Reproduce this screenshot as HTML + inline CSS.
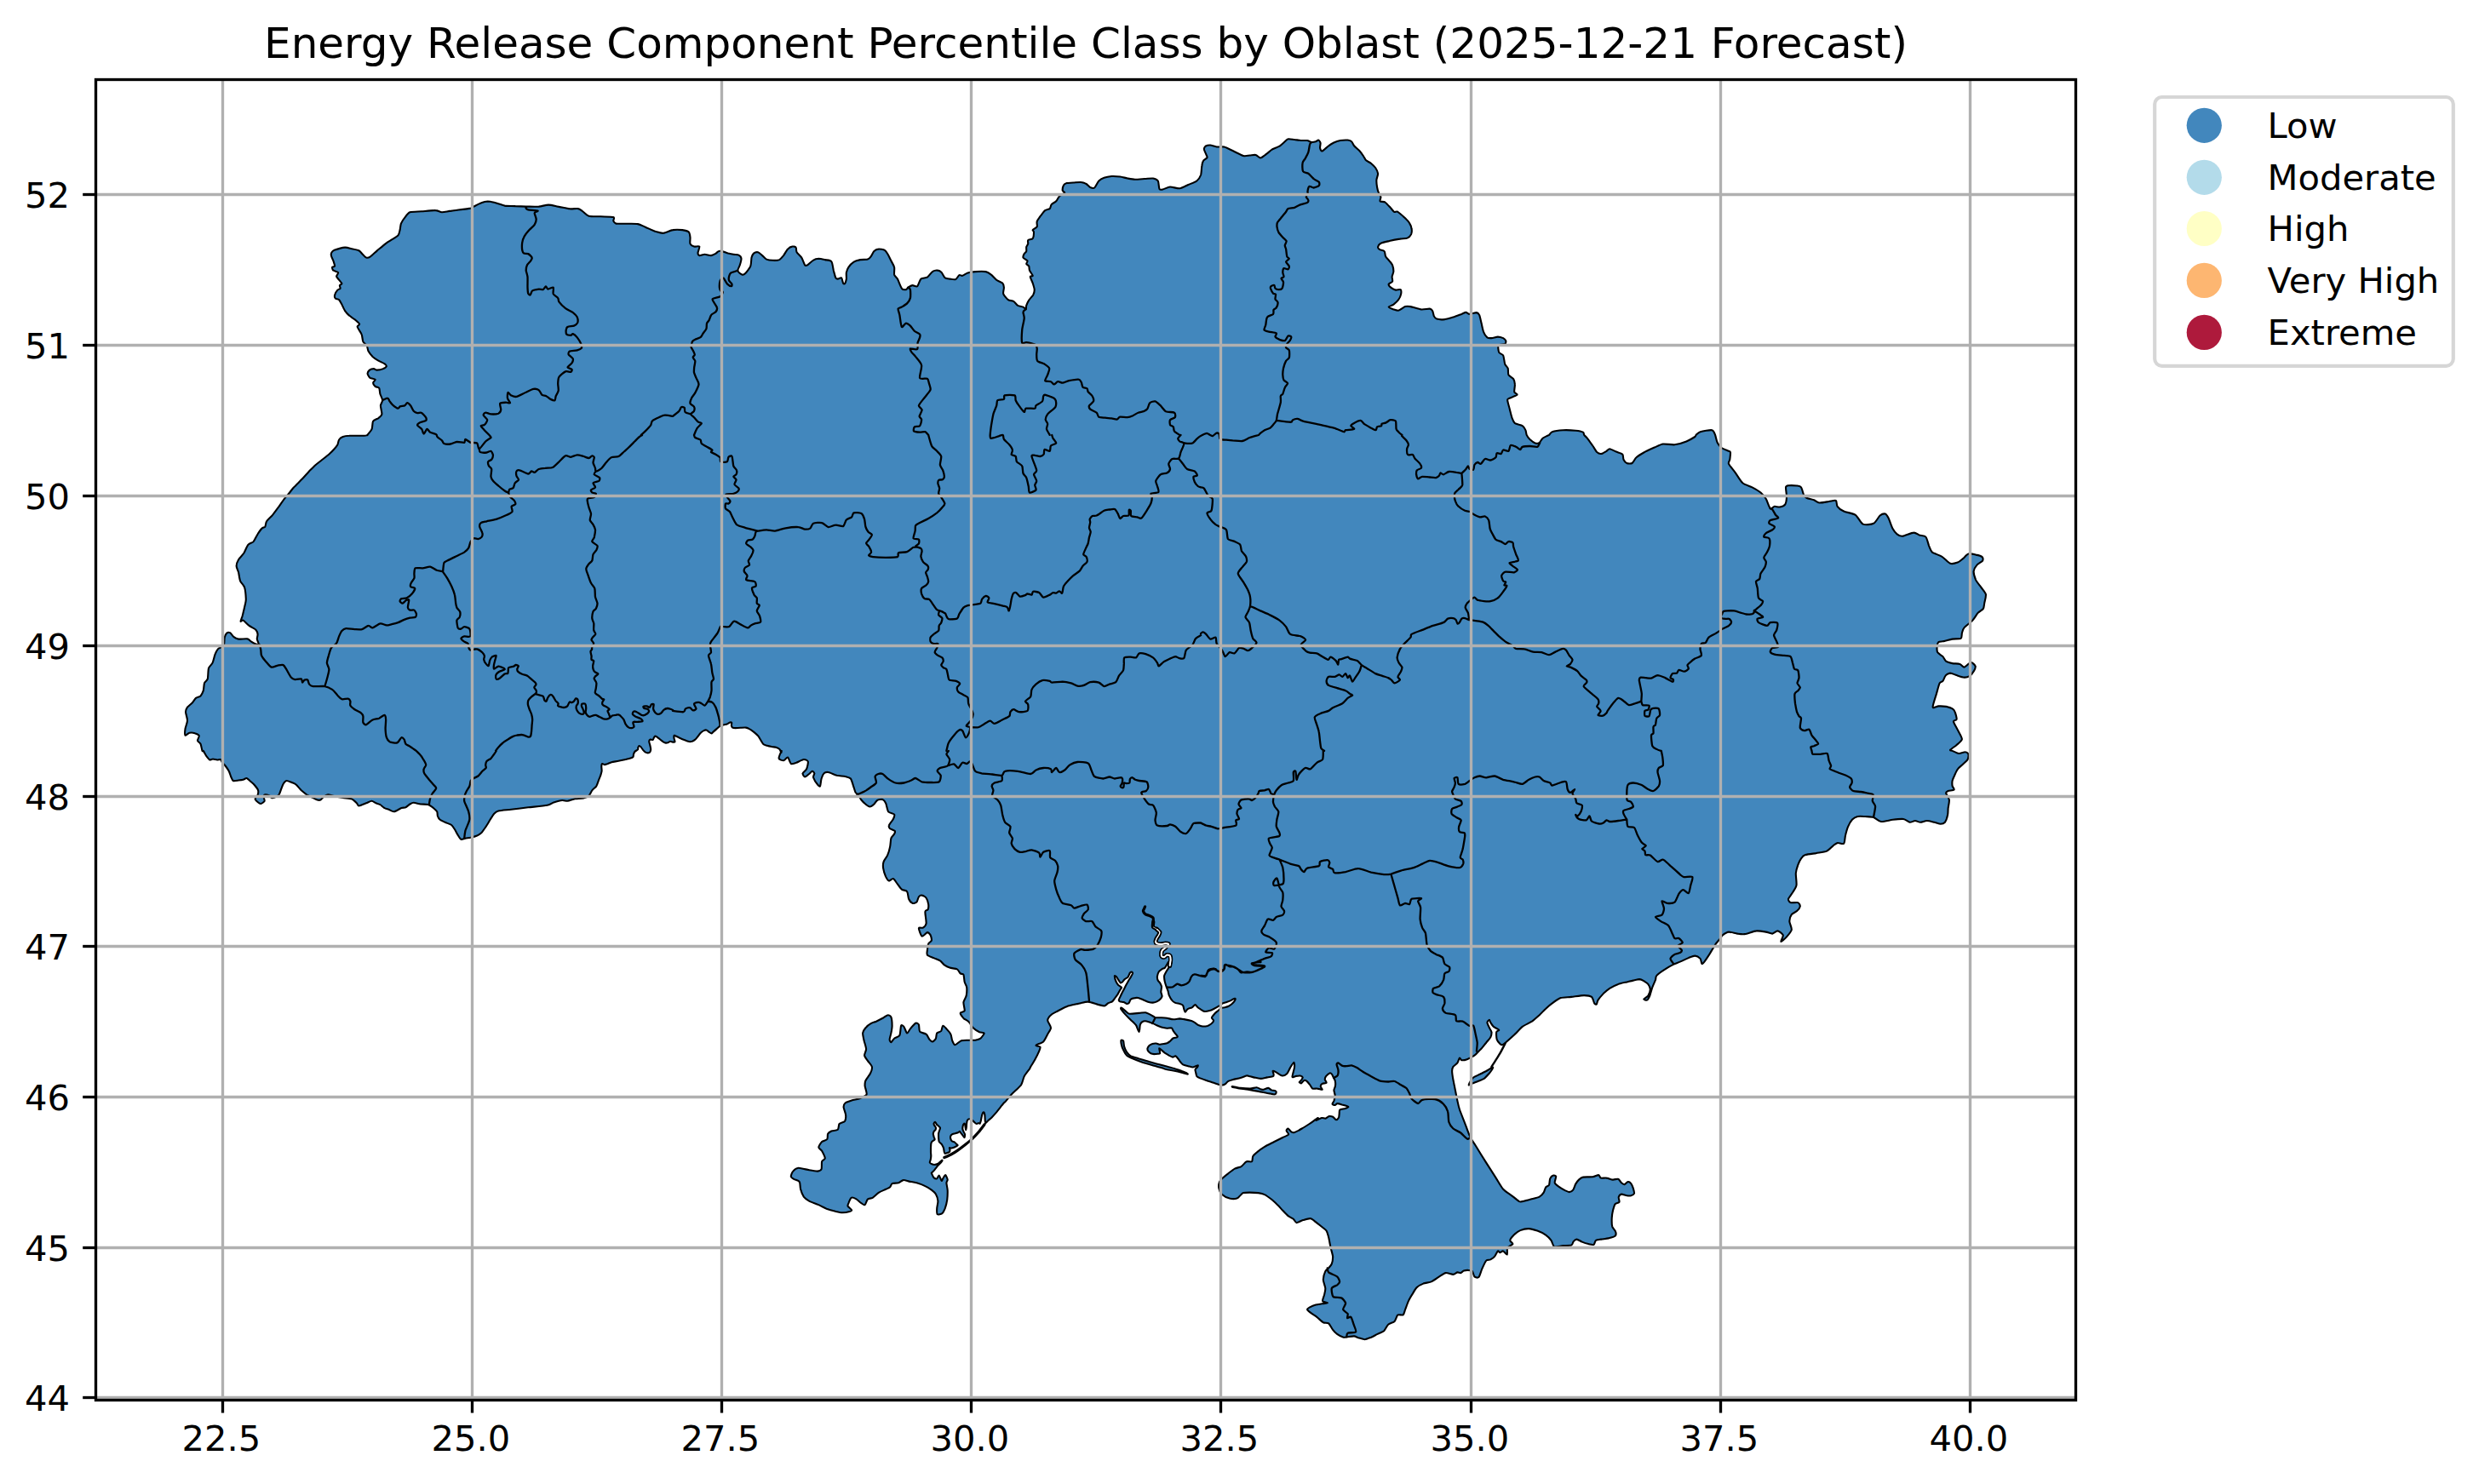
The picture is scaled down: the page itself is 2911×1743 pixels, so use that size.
<!DOCTYPE html>
<html lang="en"><head><meta charset="utf-8"><title>Energy Release Component Percentile Class by Oblast</title>
<style>html,body{margin:0;padding:0;background:#fff}body{width:2911px;height:1743px;overflow:hidden}svg{display:block}text{font-family:"DejaVu Sans","Liberation Sans",sans-serif;fill:#000}</style></head><body>
<svg width="2911" height="1743" viewBox="0 0 2911 1743">
<rect width="2911" height="1743" fill="#fff"/>
<g id="map"><path d="M431.4 510.9C432.0 510.1 435.8 506.0 436.6 503.9C437.5 501.9 437.1 496.3 438.1 494.7C439.1 493.1 443.4 492.0 444.6 490.9C445.9 489.9 448.1 488.2 448.4 486.4C448.7 484.6 446.8 478.5 446.9 476.4C447.0 474.4 449.2 471.9 449.1 470.2C449.1 468.4 446.9 464.5 446.4 462.7C445.9 460.8 445.9 456.8 445.1 455.7C444.4 454.6 441.5 454.7 440.6 453.9C439.8 453.2 438.1 450.7 438.1 449.7C438.1 448.6 441.1 446.4 440.6 445.7C440.2 444.9 435.8 444.7 434.6 443.9C433.5 443.1 431.7 440.1 431.6 438.9C431.5 437.7 433.0 435.4 433.9 434.6C434.8 433.9 437.8 433.1 438.9 433.1C440.0 433.1 441.2 434.6 442.6 434.6C444.0 434.6 448.7 433.7 450.1 433.1C451.5 432.6 453.7 430.9 453.9 430.1C454.0 429.4 452.6 428.0 451.4 427.1C450.1 426.3 445.6 424.4 443.9 423.4C442.2 422.4 439.0 420.2 437.6 418.9C436.2 417.5 433.5 414.3 432.6 412.6C431.8 411.0 431.4 407.0 430.6 405.6C429.8 404.2 427.1 403.0 426.4 401.4C425.6 399.8 425.5 394.8 424.6 392.6C423.8 390.4 419.9 385.4 419.6 383.9C419.3 382.4 422.5 381.7 422.1 380.6C421.7 379.5 417.9 376.4 416.4 375.1C414.9 373.9 411.5 371.9 410.1 370.6C408.7 369.4 406.2 366.7 405.1 365.1C404.0 363.5 402.2 359.2 401.4 357.6C400.5 356.0 399.1 353.0 398.1 352.1C397.2 351.2 394.5 351.3 393.9 350.6C393.2 349.9 392.8 347.6 393.1 346.4C393.4 345.1 395.6 341.5 396.4 340.6C397.2 339.7 399.3 339.5 399.6 338.8C399.9 338.2 398.6 335.8 398.9 335.1C399.1 334.4 401.5 334.0 401.4 333.1C401.2 332.2 398.4 329.2 397.6 328.1C396.8 327.0 395.2 325.6 395.1 324.6C395.1 323.6 397.6 321.0 397.1 320.1C396.6 319.2 392.2 318.4 391.4 317.6C390.5 316.8 389.9 314.5 390.1 313.8C390.3 313.2 393.0 313.5 393.1 312.6C393.3 311.6 391.9 307.9 391.4 306.3C390.8 304.8 389.1 301.3 388.9 300.1C388.6 298.8 389.1 297.1 389.6 296.3C390.1 295.5 390.7 294.5 392.6 293.8C394.5 293.1 402.6 290.8 405.1 290.6C407.6 290.4 410.6 291.6 412.6 292.1C414.7 292.5 419.7 293.4 421.4 294.3C423.1 295.2 425.3 298.3 426.4 299.3C427.5 300.4 429.1 302.3 430.1 302.6C431.2 302.9 433.1 302.6 434.6 301.6C436.2 300.6 440.4 296.5 442.6 294.6C444.9 292.7 450.3 288.1 452.6 286.3C455.0 284.6 459.5 281.8 461.4 280.6C463.3 279.3 466.6 277.6 467.6 276.3C468.7 275.0 469.2 271.8 469.6 270.1C470.1 268.3 470.2 264.4 470.9 262.6C471.7 260.7 474.3 256.7 475.7 255.1C477.0 253.4 479.0 250.1 481.4 249.3C483.8 248.5 491.4 248.6 495.2 248.3C498.9 248.0 508.5 246.9 511.4 247.1C514.4 247.2 516.6 249.2 518.9 249.3C521.3 249.4 526.0 248.1 530.2 247.6C534.4 247.0 549.4 245.2 552.7 244.6C556.0 243.9 554.9 243.3 556.4 242.6C558.0 241.8 563.2 239.0 565.2 238.3C567.2 237.5 570.8 236.6 572.7 236.5C574.6 236.5 577.7 237.2 580.2 237.8C582.7 238.4 589.6 241.0 592.7 241.6C595.8 242.1 602.1 241.9 605.2 242.1C608.3 242.2 614.3 242.5 617.7 242.6C621.2 242.6 629.4 242.8 632.7 242.6C636.0 242.3 641.2 240.6 644.0 240.6C646.8 240.6 652.1 242.0 655.2 242.6C658.4 243.1 666.0 245.0 669.0 245.3C672.0 245.6 677.1 244.7 679.0 245.1C680.9 245.4 682.4 247.0 684.0 248.1C685.6 249.1 688.9 253.0 691.5 253.8C694.2 254.6 701.7 254.2 705.3 254.3C708.9 254.5 718.4 254.4 720.3 255.1C722.2 255.7 719.9 258.6 720.3 259.6C720.7 260.5 721.4 262.2 723.3 262.6C725.2 263.0 732.1 262.7 735.3 262.8C738.5 262.9 746.2 262.6 749.0 263.1C751.9 263.6 755.1 265.7 757.8 266.8C760.5 267.9 767.6 271.2 770.3 272.1C773.0 272.9 776.6 274.1 779.1 273.8C781.5 273.6 787.3 270.5 790.1 270.1C792.8 269.6 798.9 269.8 801.3 270.1C803.6 270.4 807.6 271.5 808.8 272.6C809.9 273.7 810.3 277.1 810.5 278.8C810.7 280.5 809.9 285.0 810.5 286.3C811.1 287.7 813.7 289.2 815.0 289.6C816.4 290.0 820.7 288.6 821.3 289.6C821.8 290.5 819.5 295.8 819.5 297.1C819.5 298.4 820.3 299.9 821.3 300.1C822.3 300.3 825.8 298.8 827.5 298.8C829.2 298.8 833.5 300.2 835.0 300.1C836.6 300.0 838.9 298.7 840.0 298.1C841.1 297.5 842.8 295.5 843.8 295.1C844.8 294.7 846.6 294.8 848.0 295.1C849.4 295.4 853.4 297.1 855.0 297.6C856.7 298.0 859.7 298.6 861.3 298.8C862.8 299.1 866.4 299.0 867.5 299.6C868.7 300.2 870.4 302.4 870.5 303.8C870.7 305.3 869.3 309.6 868.8 311.3C868.3 313.1 866.0 316.7 866.3 318.1C866.6 319.5 870.2 322.2 871.3 322.6C872.4 323.0 873.8 322.6 875.0 321.3C876.3 320.1 880.4 314.9 881.3 312.6C882.2 310.2 882.1 304.5 882.5 302.6C883.0 300.7 884.1 298.4 885.0 297.6C886.0 296.8 888.8 296.0 890.1 296.3C891.3 296.6 893.8 299.0 895.1 300.1C896.3 301.1 898.5 303.9 900.1 304.6C901.6 305.3 905.7 305.8 907.6 305.8C909.4 305.9 913.5 305.8 915.1 305.1C916.6 304.4 918.8 301.6 920.1 300.1C921.3 298.5 923.8 293.9 925.1 292.6C926.3 291.3 928.9 289.8 930.1 289.6C931.3 289.3 933.9 289.7 934.6 290.6C935.3 291.4 934.7 294.8 935.6 296.3C936.4 297.8 940.1 300.7 941.3 302.6C942.5 304.5 944.2 310.2 945.1 311.3C945.9 312.4 946.8 312.1 948.1 311.3C949.3 310.6 953.4 306.5 955.1 305.6C956.7 304.6 959.6 303.9 961.3 303.8C963.1 303.8 967.0 304.7 968.8 305.1C970.7 305.5 975.1 305.5 976.3 307.1C977.6 308.6 978.2 315.2 978.8 317.6C979.5 320.0 980.7 325.1 981.3 326.3C982.0 327.6 983.0 327.6 983.8 327.6C984.7 327.6 987.3 325.7 988.1 326.3C988.9 327.0 989.6 331.8 990.1 332.6C990.6 333.4 991.6 333.7 992.1 333.1C992.6 332.5 993.6 329.2 993.9 327.6C994.1 326.0 993.5 321.8 993.9 320.1C994.2 318.4 995.3 315.4 996.4 313.8C997.4 312.3 1000.9 308.7 1002.6 307.6C1004.3 306.5 1008.1 305.5 1010.1 305.1C1012.1 304.7 1017.3 305.1 1018.9 304.6C1020.4 304.1 1021.7 302.5 1022.6 301.3C1023.6 300.1 1025.3 296.2 1026.4 295.1C1027.5 294.0 1029.8 292.7 1031.4 292.6C1032.9 292.4 1037.5 293.0 1038.9 293.8C1040.3 294.6 1041.7 297.3 1042.6 298.8C1043.6 300.4 1045.4 304.5 1046.4 306.3C1047.3 308.2 1049.7 311.8 1050.1 313.8C1050.6 315.9 1049.7 320.9 1050.1 322.6C1050.6 324.3 1052.8 325.6 1053.9 327.6C1055.0 329.6 1057.6 337.3 1058.9 338.8C1060.1 340.4 1062.9 340.3 1063.9 340.1C1064.8 339.9 1065.5 338.2 1066.4 337.6C1067.3 337.0 1070.0 335.3 1071.4 335.1C1072.7 334.9 1075.9 337.3 1077.1 336.3C1078.4 335.4 1079.9 328.9 1081.4 327.6C1082.9 326.2 1087.2 326.7 1088.9 325.6C1090.6 324.5 1093.6 319.8 1095.2 318.8C1096.7 317.8 1100.1 317.4 1101.4 317.6C1102.7 317.7 1104.6 319.0 1105.7 320.1C1106.7 321.2 1108.5 325.4 1109.7 326.3C1110.8 327.3 1113.6 327.4 1115.2 327.6C1116.7 327.8 1120.8 328.7 1122.2 328.1C1123.6 327.5 1125.4 323.6 1126.4 323.1C1127.4 322.6 1128.9 324.2 1130.2 323.8C1131.4 323.5 1134.5 321.2 1136.4 320.6C1138.3 320.0 1142.5 319.3 1145.2 319.1C1147.8 318.9 1155.3 318.7 1157.7 319.1C1160.0 319.5 1162.4 321.4 1163.9 322.6C1165.5 323.8 1168.5 327.6 1170.2 328.8C1171.8 330.1 1176.1 331.5 1177.2 332.6C1178.3 333.7 1178.8 336.0 1178.9 337.6C1179.1 339.2 1177.6 343.3 1178.2 345.1C1178.8 346.9 1182.4 351.0 1183.9 352.1C1185.4 353.2 1188.8 353.0 1190.2 353.9C1191.6 354.7 1193.8 358.0 1195.2 358.9C1196.6 359.7 1200.3 360.1 1201.5 360.6C1202.6 361.1 1204.2 363.3 1204.7 363.1C1205.2 362.9 1204.8 360.2 1205.2 358.9C1205.6 357.5 1207.2 354.2 1208.2 352.6C1209.2 351.0 1212.4 347.9 1213.2 346.4C1214.0 344.8 1214.8 341.8 1214.7 340.1C1214.6 338.4 1213.3 334.5 1212.7 332.6C1212.1 330.7 1209.7 326.2 1209.7 325.1C1209.7 324.0 1212.8 324.8 1212.7 323.8C1212.6 322.9 1209.5 319.0 1209.0 317.6C1208.4 316.2 1208.7 313.5 1208.2 312.6C1207.7 311.6 1205.4 310.9 1205.2 310.1C1205.0 309.3 1206.9 307.3 1206.5 306.3C1206.0 305.4 1201.9 303.6 1201.5 302.6C1201.0 301.5 1202.2 299.0 1202.7 298.1C1203.2 297.1 1204.9 296.1 1205.2 295.1C1205.5 294.1 1205.0 291.2 1205.2 290.1C1205.5 289.0 1207.0 287.3 1207.2 286.3C1207.5 285.3 1206.5 282.9 1207.2 282.1C1207.9 281.3 1211.9 281.3 1212.7 280.1C1213.6 278.9 1214.0 273.8 1214.0 272.6C1214.0 271.3 1212.2 270.8 1212.7 270.1C1213.2 269.3 1217.1 267.6 1217.7 266.3C1218.3 265.1 1217.1 261.8 1217.7 260.1C1218.3 258.3 1221.5 254.2 1222.7 252.6C1223.9 250.9 1226.0 248.0 1227.2 247.1C1228.5 246.1 1231.8 245.9 1232.7 245.1C1233.7 244.2 1233.8 241.1 1234.7 240.1C1235.7 239.0 1239.1 237.5 1240.2 236.3C1241.4 235.1 1242.7 231.8 1244.0 230.5C1245.2 229.3 1249.8 227.1 1250.2 226.3C1250.7 225.4 1247.9 224.9 1247.7 223.8C1247.6 222.7 1248.4 218.6 1249.0 217.5C1249.6 216.4 1251.3 215.4 1252.7 215.0C1254.1 214.7 1258.2 214.7 1260.2 214.5C1262.3 214.4 1267.1 213.9 1269.0 214.0C1270.9 214.2 1273.8 215.0 1275.2 215.8C1276.6 216.5 1279.0 219.4 1280.2 220.0C1281.5 220.6 1284.0 221.5 1285.2 220.5C1286.5 219.6 1288.8 214.0 1290.3 212.5C1291.7 211.1 1294.6 209.5 1296.5 208.8C1298.4 208.1 1302.9 207.2 1305.3 207.0C1307.6 206.9 1312.9 207.2 1315.3 207.5C1317.6 207.8 1321.8 209.1 1324.0 209.5C1326.2 209.9 1330.3 210.7 1332.8 210.8C1335.3 210.8 1341.4 210.2 1344.0 210.0C1346.7 209.9 1352.1 209.2 1354.0 209.5C1356.0 209.8 1358.8 211.0 1359.8 212.5C1360.7 214.1 1360.8 220.8 1361.5 222.0C1362.2 223.3 1363.7 222.9 1365.3 222.5C1366.9 222.2 1371.5 219.7 1374.0 219.5C1376.5 219.4 1382.6 221.6 1385.3 221.3C1388.0 221.0 1392.8 218.1 1395.3 217.0C1397.8 215.9 1403.5 214.0 1405.3 212.5C1407.2 211.1 1409.3 207.7 1410.1 205.5C1410.8 203.3 1410.9 197.1 1411.3 195.0C1411.6 192.9 1412.2 190.0 1413.0 188.8C1413.8 187.5 1417.1 186.0 1417.5 185.0C1417.9 184.1 1416.7 182.5 1416.3 181.3C1415.8 180.0 1413.8 176.3 1413.8 175.0C1413.8 173.8 1415.3 171.8 1416.3 171.3C1417.2 170.7 1419.7 170.4 1421.3 170.5C1422.8 170.7 1426.7 172.3 1428.8 172.5C1430.8 172.8 1435.2 172.0 1437.5 172.5C1439.9 173.1 1444.7 175.7 1447.5 177.0C1450.3 178.3 1457.5 182.3 1460.0 183.0C1462.5 183.7 1465.7 182.6 1467.5 182.5C1469.3 182.4 1473.0 181.6 1474.5 182.0C1476.1 182.4 1478.7 185.5 1480.0 185.5C1481.3 185.6 1483.3 183.8 1485.0 182.5C1486.8 181.3 1492.1 176.7 1493.8 175.5C1495.5 174.4 1497.6 173.8 1498.8 173.3C1500.0 172.7 1502.0 172.0 1503.0 171.3C1504.1 170.5 1506.4 168.5 1507.5 167.5C1508.7 166.5 1511.0 163.7 1512.6 163.3C1514.1 162.8 1518.2 163.8 1520.1 164.0C1521.9 164.2 1525.7 164.9 1527.6 165.0C1529.4 165.1 1533.5 164.8 1535.1 165.0C1536.6 165.3 1538.8 166.9 1540.1 167.0C1541.3 167.2 1544.1 166.6 1545.1 166.3C1546.1 166.0 1547.4 164.3 1548.1 164.5C1548.8 164.7 1550.3 166.9 1550.6 168.0C1550.8 169.2 1549.8 172.6 1550.1 173.8C1550.3 175.0 1551.3 177.8 1552.6 177.5C1553.8 177.2 1558.4 172.5 1560.1 171.3C1561.8 170.0 1564.6 168.3 1566.3 167.5C1568.0 166.7 1571.8 165.4 1573.8 165.0C1575.9 164.6 1580.9 164.4 1582.6 164.5C1584.2 164.7 1586.2 165.4 1587.1 166.3C1588.0 167.1 1588.9 169.9 1590.1 171.3C1591.2 172.6 1594.9 175.5 1596.3 177.0C1597.8 178.6 1600.4 182.4 1601.3 183.8C1602.3 185.1 1602.8 187.0 1603.8 188.0C1604.9 189.1 1608.7 190.9 1610.1 192.0C1611.5 193.2 1614.1 195.6 1615.1 197.0C1616.1 198.5 1617.9 202.0 1618.1 203.8C1618.3 205.6 1616.5 209.3 1616.4 211.3C1616.2 213.3 1616.8 218.2 1617.1 220.0C1617.4 221.9 1618.3 224.9 1618.9 226.3C1619.4 227.7 1621.1 230.0 1621.4 231.3C1621.6 232.5 1620.0 235.5 1620.6 236.3C1621.2 237.1 1624.9 236.6 1626.4 237.5C1627.9 238.5 1631.3 242.4 1632.6 243.8C1634.0 245.2 1636.0 248.2 1637.1 248.8C1638.2 249.4 1639.7 247.9 1641.4 248.8C1643.0 249.7 1648.4 254.7 1650.1 256.3C1651.8 258.0 1654.2 260.5 1655.1 262.1C1656.1 263.6 1657.4 267.2 1657.6 268.8C1657.9 270.4 1657.7 273.7 1657.1 275.1C1656.5 276.4 1654.3 278.9 1652.6 279.6C1651.0 280.3 1646.5 280.1 1643.9 280.6C1641.2 281.0 1634.2 282.4 1631.4 283.1C1628.5 283.7 1623.0 284.9 1621.4 285.8C1619.7 286.7 1618.3 289.2 1618.1 290.1C1617.9 291.0 1619.2 292.5 1620.1 293.1C1621.0 293.7 1624.7 294.0 1625.6 295.1C1626.5 296.1 1626.4 299.9 1627.1 301.3C1627.8 302.7 1630.4 305.1 1631.4 306.3C1632.4 307.6 1634.5 309.8 1635.1 311.3C1635.7 312.9 1636.4 317.1 1636.4 318.8C1636.3 320.6 1634.8 323.6 1634.6 325.1C1634.5 326.6 1635.6 329.5 1635.1 330.6C1634.6 331.7 1630.8 332.9 1630.6 333.8C1630.5 334.8 1632.8 337.3 1633.9 338.1C1634.9 338.9 1637.5 340.4 1638.9 340.6C1640.2 340.9 1643.8 339.5 1644.6 340.1C1645.4 340.7 1645.4 344.1 1645.1 345.6C1644.8 347.1 1643.2 350.6 1642.1 352.1C1641.0 353.6 1637.8 356.5 1636.4 357.6C1634.9 358.7 1630.6 359.9 1630.6 360.6C1630.6 361.3 1634.9 362.9 1636.4 363.4C1637.9 363.9 1640.9 365.0 1642.6 364.6C1644.3 364.2 1648.4 360.7 1650.1 360.1C1651.8 359.5 1654.0 359.7 1656.4 360.1C1658.7 360.5 1666.1 363.0 1668.9 363.4C1671.7 363.7 1677.2 362.4 1678.9 362.6C1680.5 362.8 1681.5 364.0 1682.1 365.1C1682.8 366.2 1683.3 370.2 1683.9 371.4C1684.5 372.6 1685.6 374.1 1687.1 374.6C1688.7 375.1 1694.0 375.4 1696.4 375.1C1698.8 374.9 1703.9 373.4 1706.4 372.6C1708.9 371.8 1714.5 369.6 1716.4 368.9C1718.3 368.1 1720.2 366.9 1721.4 366.9C1722.6 366.9 1724.1 368.8 1725.7 368.9C1727.2 368.9 1732.5 367.0 1733.9 367.1C1735.4 367.3 1736.4 368.5 1737.2 370.1C1737.9 371.7 1739.0 377.6 1739.7 380.1C1740.3 382.6 1741.3 388.1 1742.2 390.1C1743.0 392.2 1745.3 395.5 1746.4 396.4C1747.6 397.3 1749.9 397.2 1751.4 397.1C1753.0 397.0 1757.2 395.6 1758.9 395.6C1760.6 395.6 1764.0 396.6 1765.2 397.1C1766.3 397.7 1767.9 399.3 1768.2 400.1C1768.4 401.0 1768.2 403.2 1767.2 403.9C1766.1 404.6 1760.6 404.4 1759.7 405.6C1758.8 406.9 1759.5 412.4 1760.2 413.9C1760.9 415.4 1764.3 415.9 1765.2 417.6C1766.1 419.4 1766.5 425.8 1767.2 427.6C1767.9 429.5 1770.1 431.1 1770.7 432.6C1771.2 434.2 1770.6 438.6 1771.4 440.2C1772.2 441.7 1776.2 443.7 1777.2 445.2C1778.1 446.6 1778.8 449.5 1778.9 451.4C1779.1 453.3 1777.9 458.6 1778.2 460.2C1778.5 461.7 1782.3 462.9 1781.4 463.9C1780.6 464.9 1772.8 467.4 1771.4 468.2C1770.0 468.9 1770.0 468.7 1770.2 470.2C1770.3 471.7 1772.0 477.5 1772.7 480.2C1773.4 482.8 1774.9 489.3 1775.7 491.4C1776.5 493.6 1777.4 496.1 1778.9 497.2C1780.4 498.3 1786.1 499.2 1787.7 500.2C1789.3 501.2 1790.8 503.8 1791.4 505.2C1792.1 506.5 1792.1 509.6 1792.7 510.9C1793.3 512.3 1795.2 514.8 1796.4 516.0C1797.7 517.2 1801.3 520.0 1802.7 520.5C1804.1 521.0 1806.6 520.5 1807.7 519.8C1808.8 519.0 1810.2 515.8 1811.5 514.8C1812.7 513.7 1816.8 512.0 1817.7 511.5C1818.6 511.0 1818.3 511.5 1819.0 511.0C1819.6 510.5 1820.7 507.9 1822.7 507.2C1824.7 506.5 1831.8 505.4 1835.2 505.2C1838.7 505.0 1847.2 505.4 1850.2 505.7C1853.2 506.0 1857.7 507.0 1859.0 507.7C1860.2 508.3 1859.6 510.1 1860.2 510.9C1860.9 511.8 1862.7 513.2 1864.0 514.8C1865.2 516.3 1868.8 521.5 1870.2 523.5C1871.6 525.5 1874.0 529.8 1875.2 531.0C1876.5 532.2 1878.8 533.2 1880.2 533.0C1881.6 532.9 1885.2 530.5 1886.5 529.8C1887.7 529.0 1888.8 527.2 1890.2 527.3C1891.6 527.4 1895.9 529.7 1897.7 530.5C1899.6 531.3 1904.2 532.4 1905.2 533.5C1906.3 534.7 1905.9 538.5 1906.5 539.8C1907.1 541.1 1909.0 543.5 1910.3 544.0C1911.5 544.5 1915.1 544.9 1916.5 544.0C1917.9 543.2 1919.8 538.8 1921.5 537.3C1923.2 535.7 1927.6 533.0 1930.3 531.5C1932.9 530.0 1940.0 526.8 1942.8 525.5C1945.6 524.3 1949.8 521.9 1952.8 521.5C1955.7 521.1 1963.1 522.6 1966.5 522.3C1970.0 521.9 1977.3 519.7 1980.3 518.5C1983.3 517.3 1988.9 513.9 1990.3 513.0C1991.7 512.1 1990.8 511.7 1991.5 511.0C1992.3 510.3 1994.2 507.9 1996.5 507.2C1998.9 506.5 2008.1 504.7 2010.3 505.2C2012.5 505.7 2013.3 509.1 2014.1 510.9C2014.8 512.8 2015.6 517.9 2016.6 519.8C2017.5 521.6 2019.9 524.8 2021.6 526.0C2023.2 527.3 2028.8 529.1 2030.1 529.8C2031.4 530.4 2031.9 530.3 2032.0 531.5C2032.1 532.8 2031.5 538.1 2031.3 539.8C2031.0 541.4 2029.2 542.9 2030.0 544.8C2030.8 546.6 2035.5 552.0 2037.5 554.8C2039.5 557.6 2043.8 565.1 2046.3 567.3C2048.8 569.5 2054.9 570.9 2057.5 572.3C2060.2 573.7 2065.5 576.8 2067.5 578.5C2069.6 580.3 2072.4 583.7 2073.8 586.0C2075.2 588.4 2077.5 596.2 2078.8 597.3C2080.0 598.4 2082.4 595.0 2083.8 594.8C2085.2 594.6 2088.5 595.9 2090.0 595.5C2091.6 595.2 2095.3 593.8 2096.3 592.3C2097.3 590.8 2097.9 586.0 2098.0 583.5C2098.1 581.0 2096.8 573.9 2097.0 572.3C2097.3 570.6 2098.4 570.5 2100.0 570.3C2101.7 570.1 2108.2 570.3 2110.0 570.5C2111.9 570.8 2114.0 571.0 2115.0 572.3C2116.0 573.6 2117.3 579.5 2118.0 581.0C2118.8 582.6 2119.8 584.0 2121.3 584.8C2122.8 585.6 2128.2 586.6 2130.1 587.3C2131.9 588.0 2134.1 590.3 2136.3 590.5C2138.5 590.8 2145.1 589.4 2147.6 589.0C2150.0 588.7 2154.6 587.3 2155.8 588.0C2157.1 588.8 2156.4 593.2 2157.6 594.8C2158.7 596.4 2162.4 599.3 2165.1 600.5C2167.7 601.8 2176.0 602.9 2178.8 604.8C2181.6 606.7 2184.9 614.3 2187.6 615.6C2190.2 616.8 2197.6 616.1 2200.1 614.8C2202.6 613.6 2205.9 607.0 2207.6 605.5C2209.3 604.1 2212.6 603.2 2213.8 603.5C2215.1 603.9 2216.5 606.4 2217.6 608.5C2218.7 610.7 2221.3 618.7 2222.6 621.1C2223.8 623.4 2226.2 626.2 2227.6 627.3C2229.0 628.4 2231.4 630.0 2233.9 629.8C2236.3 629.6 2244.6 625.7 2247.1 625.6C2249.6 625.4 2252.1 627.9 2253.9 628.6C2255.6 629.2 2260.0 629.0 2261.4 630.6C2262.8 632.1 2264.2 638.8 2265.1 641.1C2266.1 643.3 2267.0 647.0 2268.9 648.6C2270.7 650.1 2277.5 651.9 2280.1 653.6C2282.8 655.2 2287.8 660.9 2290.1 661.8C2292.5 662.7 2297.0 661.3 2298.9 660.6C2300.8 659.9 2303.6 657.3 2305.1 656.1C2306.7 654.8 2309.5 651.1 2311.4 650.6C2313.3 650.0 2318.1 651.1 2320.1 651.6C2322.2 652.0 2326.6 653.2 2327.6 654.1C2328.6 654.9 2328.9 657.4 2328.1 658.6C2327.4 659.8 2322.7 662.0 2321.4 663.6C2320.1 665.1 2317.8 668.9 2317.6 671.1C2317.5 673.3 2319.1 678.7 2320.1 681.1C2321.2 683.4 2324.9 687.7 2326.4 689.8C2327.9 692.0 2331.4 695.7 2331.9 698.1C2332.4 700.4 2330.5 706.5 2330.2 708.6C2329.8 710.7 2329.8 713.4 2328.9 714.9C2328.0 716.3 2324.2 718.1 2322.6 719.9C2321.1 721.6 2318.4 726.4 2316.4 728.6C2314.4 730.8 2308.0 735.5 2306.4 737.4C2304.8 739.2 2304.4 742.1 2303.9 743.6C2303.4 745.2 2304.0 749.0 2302.6 749.9C2301.2 750.7 2295.1 750.2 2292.6 750.6C2290.1 751.0 2284.7 752.7 2282.6 753.1C2280.6 753.6 2277.4 753.4 2276.4 754.1C2275.4 754.8 2274.8 757.1 2274.6 758.6C2274.5 760.1 2274.3 764.6 2275.1 766.1C2276.0 767.7 2280.1 769.8 2281.4 771.1C2282.6 772.4 2283.7 775.6 2285.1 776.6C2286.5 777.6 2290.6 778.7 2292.6 779.1C2294.7 779.5 2299.7 779.3 2301.4 779.9C2303.1 780.4 2305.1 783.6 2306.4 783.6C2307.6 783.6 2310.3 780.6 2311.4 779.9C2312.5 779.2 2314.1 777.8 2315.1 778.1C2316.2 778.4 2319.3 781.1 2319.6 782.4C2320.0 783.7 2318.5 787.2 2317.6 788.6C2316.8 790.1 2314.0 793.3 2312.6 794.1C2311.2 795.0 2308.3 795.8 2306.4 795.6C2304.5 795.5 2299.7 793.8 2297.6 793.1C2295.6 792.5 2291.8 790.6 2290.1 790.6C2288.5 790.7 2285.7 792.5 2284.6 793.6C2283.5 794.8 2282.3 798.8 2281.4 799.9C2280.5 801.0 2278.6 800.5 2277.6 802.4C2276.7 804.3 2274.9 811.4 2273.9 814.9C2272.9 818.4 2269.3 828.8 2269.6 830.7C2269.9 832.5 2274.4 829.5 2276.4 829.4C2278.3 829.3 2283.1 829.5 2285.1 829.9C2287.2 830.3 2291.3 831.6 2292.6 832.4C2293.9 833.2 2295.0 834.6 2295.6 836.2C2296.3 837.7 2297.9 843.5 2297.6 844.9C2297.4 846.3 2293.7 845.9 2293.9 847.4C2294.0 849.0 2297.6 854.8 2298.9 857.4C2300.1 860.0 2304.0 866.0 2303.9 868.2C2303.7 870.4 2299.4 873.4 2297.6 874.9C2295.9 876.5 2290.8 879.8 2290.1 880.7C2289.5 881.6 2291.4 881.4 2292.6 881.9C2293.9 882.5 2298.3 884.8 2300.1 885.0C2302.0 885.2 2306.2 883.2 2307.6 883.3C2309.0 883.3 2311.0 884.7 2311.4 885.8C2311.8 886.8 2311.4 890.5 2310.6 892.0C2309.9 893.5 2306.6 896.1 2305.1 897.5C2303.7 898.9 2300.1 901.6 2298.9 903.3C2297.6 904.9 2295.9 909.0 2295.1 910.8C2294.4 912.5 2292.9 915.5 2292.6 917.0C2292.3 918.6 2292.4 922.0 2292.6 923.3C2292.9 924.6 2295.3 926.8 2294.6 927.5C2294.0 928.2 2288.8 928.5 2287.6 929.0C2286.4 929.5 2285.0 930.2 2285.1 931.5C2285.3 932.8 2288.6 937.3 2288.9 939.5C2289.2 941.8 2287.8 947.3 2287.6 949.5C2287.4 951.7 2287.6 955.0 2287.1 957.0C2286.7 959.1 2284.9 964.4 2283.9 965.8C2282.8 967.1 2280.4 967.8 2278.9 967.8C2277.3 967.8 2273.4 966.3 2271.4 965.8C2269.3 965.3 2264.6 964.0 2262.6 964.0C2260.6 964.0 2256.8 965.8 2255.1 965.8C2253.4 965.8 2250.4 964.0 2248.9 964.0C2247.3 964.0 2244.3 966.0 2242.6 965.8C2240.9 965.5 2237.6 962.4 2235.1 962.0C2232.6 961.7 2225.9 962.4 2222.6 962.8C2219.3 963.2 2211.7 965.4 2208.8 965.0C2206.0 964.7 2202.4 960.8 2200.1 960.0C2197.7 959.3 2192.4 959.2 2190.1 959.0C2187.7 958.9 2183.2 958.6 2181.3 959.0C2179.4 959.5 2176.5 961.1 2175.1 962.5C2173.7 964.0 2171.1 968.5 2170.1 970.8C2169.1 973.1 2167.7 978.3 2167.1 980.8C2166.4 983.3 2166.3 989.6 2165.1 990.8C2163.9 992.0 2159.1 989.7 2157.6 990.1C2156.0 990.4 2154.1 992.1 2152.6 993.3C2151.0 994.5 2147.6 998.5 2145.1 999.6C2142.6 1000.7 2135.7 1001.5 2132.6 1002.1C2129.4 1002.6 2122.2 1003.3 2120.0 1004.1C2117.9 1004.8 2116.1 1006.8 2115.0 1008.3C2113.9 1009.8 2112.1 1013.6 2111.3 1015.8C2110.5 1018.0 2109.0 1022.9 2108.8 1025.8C2108.6 1028.8 2110.0 1036.8 2109.5 1039.6C2109.1 1042.4 2106.2 1046.3 2105.0 1048.3C2103.8 1050.4 2100.3 1054.4 2100.0 1055.8C2099.7 1057.3 2101.1 1059.6 2102.5 1060.1C2103.9 1060.6 2109.9 1059.5 2111.3 1060.1C2112.7 1060.7 2113.9 1063.3 2113.8 1064.6C2113.6 1065.8 2111.3 1068.9 2110.0 1070.1C2108.8 1071.3 2104.9 1072.6 2103.8 1074.1C2102.7 1075.6 2101.3 1079.8 2101.3 1082.1C2101.3 1084.4 2104.3 1089.8 2103.8 1092.1C2103.3 1094.4 2099.1 1099.1 2097.5 1100.9C2096.0 1102.6 2091.7 1106.2 2091.3 1105.9C2090.8 1105.5 2094.3 1099.9 2093.8 1098.4C2093.3 1096.8 2089.1 1093.6 2087.5 1093.4C2086.0 1093.1 2083.0 1096.5 2081.3 1096.6C2079.6 1096.8 2076.1 1095.0 2073.8 1094.6C2071.4 1094.2 2065.6 1093.0 2062.5 1093.4C2059.4 1093.7 2051.6 1096.7 2048.8 1097.1C2045.9 1097.5 2042.3 1096.9 2040.0 1096.6C2037.7 1096.3 2032.1 1094.4 2030.0 1094.6C2027.9 1094.8 2024.2 1097.3 2022.8 1098.4C2021.4 1099.5 2020.1 1102.0 2019.1 1103.4C2018.0 1104.8 2015.6 1107.3 2014.1 1109.6C2012.5 1112.0 2008.4 1119.3 2006.5 1122.1C2004.7 1124.9 2000.3 1131.7 1999.0 1132.1C1997.8 1132.6 1997.6 1127.1 1996.5 1125.9C1995.4 1124.7 1992.0 1122.7 1990.3 1122.6C1988.6 1122.5 1985.0 1124.2 1982.8 1125.1C1980.6 1126.0 1975.0 1128.7 1972.8 1129.6C1970.6 1130.6 1967.5 1131.5 1965.3 1132.6C1963.1 1133.7 1957.8 1136.7 1955.3 1138.4C1952.8 1140.0 1946.7 1144.3 1945.3 1145.9C1943.9 1147.4 1944.6 1149.2 1944.0 1150.9C1943.4 1152.6 1941.1 1157.3 1940.3 1159.6C1939.4 1162.0 1938.0 1167.8 1937.3 1169.6C1936.5 1171.5 1934.9 1174.2 1934.0 1174.6C1933.1 1175.1 1930.1 1174.0 1930.3 1173.4C1930.4 1172.8 1934.3 1171.1 1935.3 1169.6C1936.2 1168.2 1937.8 1163.9 1937.8 1162.1C1937.8 1160.4 1936.2 1157.1 1935.3 1155.9C1934.3 1154.6 1931.5 1152.9 1930.3 1152.1C1929.0 1151.4 1926.8 1150.2 1925.3 1150.1C1923.7 1150.1 1919.6 1151.2 1917.8 1151.6C1915.9 1152.0 1912.4 1152.9 1910.3 1153.4C1908.1 1153.9 1902.7 1154.9 1900.2 1155.9C1897.7 1156.8 1892.4 1159.5 1890.2 1160.9C1888.1 1162.3 1884.5 1165.4 1882.7 1167.1C1881.0 1168.9 1877.5 1173.1 1876.5 1174.6C1875.5 1176.2 1875.3 1179.2 1874.7 1179.6C1874.2 1180.1 1873.0 1179.5 1872.2 1178.4C1871.5 1177.3 1870.5 1172.1 1869.0 1170.9C1867.5 1169.7 1863.2 1169.1 1860.2 1169.1C1857.3 1169.1 1848.7 1170.5 1845.2 1170.9C1841.8 1171.3 1835.5 1171.2 1832.7 1172.1C1829.9 1173.1 1824.9 1176.8 1822.7 1178.4C1820.5 1180.0 1817.1 1182.9 1815.2 1184.7C1813.3 1186.4 1809.7 1190.3 1807.7 1192.2C1805.7 1194.0 1801.4 1197.9 1798.9 1199.7C1796.4 1201.4 1790.2 1204.0 1787.7 1205.9C1785.2 1207.8 1781.4 1212.3 1778.9 1214.7C1776.4 1217.0 1769.6 1223.1 1767.7 1224.7C1765.8 1226.2 1764.7 1227.0 1763.9 1227.2C1763.1 1227.3 1762.2 1226.7 1761.4 1225.9C1760.6 1225.1 1758.2 1222.6 1757.7 1220.9C1757.1 1219.2 1756.9 1213.6 1757.2 1212.2C1757.5 1210.8 1760.6 1210.4 1760.2 1209.7C1759.8 1208.9 1755.2 1207.0 1753.9 1205.9C1752.7 1204.8 1750.8 1201.9 1750.2 1200.9C1749.5 1199.9 1749.4 1197.7 1748.9 1197.7C1748.5 1197.7 1746.4 1199.7 1746.4 1200.9C1746.4 1202.1 1748.3 1205.8 1748.9 1207.2C1749.5 1208.6 1751.3 1210.8 1751.4 1212.2C1751.6 1213.6 1751.0 1216.9 1750.2 1218.4C1749.4 1220.0 1746.4 1223.1 1745.2 1224.7C1743.9 1226.2 1741.3 1229.7 1740.2 1230.9C1739.1 1232.2 1737.5 1233.6 1736.4 1234.7C1735.3 1235.8 1733.1 1238.5 1731.4 1239.7C1729.7 1240.9 1724.5 1243.5 1722.7 1244.2C1720.8 1244.9 1717.5 1245.4 1716.4 1245.2C1715.3 1245.0 1714.5 1242.3 1713.9 1242.7C1713.3 1243.1 1712.3 1247.2 1711.4 1248.4C1710.5 1249.7 1707.2 1251.7 1706.4 1252.9C1705.6 1254.1 1705.1 1256.1 1705.1 1258.0C1705.1 1259.9 1705.9 1265.2 1706.4 1268.0C1706.9 1270.8 1708.3 1277.4 1708.9 1280.5C1709.5 1283.6 1710.8 1290.2 1711.4 1293.0C1712.0 1295.8 1712.8 1299.7 1713.9 1303.0C1715.0 1306.3 1718.6 1315.2 1720.2 1319.3C1721.7 1323.3 1724.8 1332.3 1726.4 1335.5C1728.0 1338.8 1730.3 1341.8 1732.7 1345.5C1735.0 1349.3 1742.2 1360.9 1745.2 1365.6C1748.1 1370.2 1753.9 1379.2 1756.4 1383.1C1758.9 1387.0 1762.8 1394.2 1765.2 1396.8C1767.5 1399.5 1772.8 1402.5 1775.2 1404.3C1777.5 1406.1 1782.4 1410.2 1783.9 1411.1C1785.5 1411.9 1786.0 1411.4 1787.7 1411.1C1789.4 1410.8 1795.2 1409.3 1797.7 1408.6C1800.2 1407.9 1805.8 1406.6 1807.7 1405.6C1809.6 1404.6 1811.8 1402.0 1812.7 1400.6C1813.6 1399.2 1814.4 1395.4 1815.2 1394.3C1816.0 1393.2 1818.3 1393.1 1819.0 1391.8C1819.6 1390.6 1819.6 1385.7 1820.2 1384.3C1820.8 1382.9 1823.1 1380.9 1824.0 1380.6C1824.8 1380.3 1827.0 1380.7 1827.2 1381.8C1827.4 1382.9 1825.3 1387.8 1825.7 1389.3C1826.1 1390.8 1828.7 1392.5 1830.2 1393.6C1831.7 1394.7 1836.2 1397.3 1837.7 1398.1C1839.3 1398.9 1841.5 1400.1 1842.7 1400.1C1843.9 1400.0 1846.3 1398.8 1847.2 1397.6C1848.2 1396.4 1849.4 1392.1 1850.2 1390.6C1851.1 1389.1 1852.9 1386.6 1854.0 1385.6C1855.1 1384.6 1856.9 1383.0 1859.0 1382.6C1861.0 1382.2 1867.9 1382.6 1870.2 1382.3C1872.5 1382.0 1876.0 1379.9 1877.2 1380.1C1878.4 1380.2 1878.6 1383.1 1879.7 1383.6C1880.9 1384.0 1884.7 1383.3 1886.5 1383.6C1888.3 1383.8 1892.3 1385.4 1894.0 1385.6C1895.7 1385.7 1899.0 1384.3 1900.2 1384.8C1901.5 1385.3 1903.1 1388.5 1904.0 1389.3C1904.9 1390.1 1906.8 1391.2 1907.7 1391.1C1908.7 1390.9 1910.6 1388.2 1911.5 1388.1C1912.4 1387.9 1914.5 1389.1 1915.3 1390.1C1916.0 1391.0 1917.3 1394.1 1917.8 1395.6C1918.2 1397.0 1919.3 1400.7 1919.0 1401.8C1918.7 1402.9 1916.3 1404.0 1915.3 1404.3C1914.2 1404.6 1911.7 1404.5 1910.3 1404.3C1908.8 1404.1 1905.2 1402.4 1904.0 1402.6C1902.8 1402.8 1901.1 1404.9 1900.7 1406.1C1900.4 1407.2 1902.0 1410.8 1901.5 1411.8C1901.0 1412.9 1897.4 1413.1 1896.5 1414.3C1895.6 1415.6 1894.5 1419.8 1894.0 1421.8C1893.5 1423.9 1892.8 1428.2 1892.7 1430.6C1892.6 1432.9 1892.7 1438.6 1893.2 1440.6C1893.8 1442.6 1896.8 1445.4 1897.2 1446.8C1897.7 1448.3 1897.5 1450.9 1896.5 1451.8C1895.5 1452.8 1891.0 1453.9 1889.0 1454.4C1887.0 1454.8 1882.1 1455.3 1880.2 1455.6C1878.4 1455.9 1875.1 1456.1 1874.0 1456.9C1872.9 1457.6 1872.6 1461.3 1871.5 1461.9C1870.4 1462.4 1866.9 1461.5 1865.2 1461.1C1863.5 1460.7 1859.4 1459.3 1857.7 1458.6C1856.0 1457.9 1852.7 1455.7 1851.5 1455.6C1850.2 1455.5 1848.5 1457.2 1847.7 1458.1C1846.9 1459.0 1846.8 1462.0 1845.2 1462.6C1843.7 1463.2 1837.7 1462.9 1835.2 1463.1C1832.7 1463.3 1826.9 1465.1 1825.2 1464.4C1823.5 1463.6 1822.7 1458.6 1821.5 1456.9C1820.2 1455.1 1817.2 1452.0 1815.2 1450.6C1813.2 1449.2 1807.7 1446.5 1805.2 1445.6C1802.7 1444.7 1797.7 1443.2 1795.2 1443.1C1792.7 1443.0 1787.4 1444.2 1785.2 1445.1C1783.0 1446.0 1779.2 1449.1 1777.7 1450.6C1776.2 1452.1 1773.3 1455.5 1773.2 1456.9C1773.0 1458.2 1776.8 1460.0 1776.4 1461.1C1776.1 1462.2 1771.0 1464.0 1770.2 1465.6C1769.3 1467.2 1770.3 1473.1 1769.7 1473.6C1769.1 1474.1 1766.2 1469.7 1765.2 1469.4C1764.1 1469.0 1762.2 1471.1 1761.4 1471.1C1760.6 1471.1 1759.7 1468.8 1758.9 1469.4C1758.1 1469.9 1756.3 1474.4 1755.2 1475.6C1754.1 1476.9 1751.4 1478.7 1750.2 1479.4C1748.9 1480.0 1746.4 1479.2 1745.2 1480.6C1743.9 1482.0 1741.3 1488.2 1740.2 1490.6C1739.1 1493.1 1737.5 1499.0 1736.4 1500.1C1735.3 1501.2 1732.3 1500.2 1731.4 1499.4C1730.5 1498.5 1729.8 1494.1 1728.9 1493.1C1728.0 1492.2 1725.2 1491.9 1723.9 1491.9C1722.7 1491.8 1720.0 1492.2 1718.9 1492.6C1717.8 1493.0 1716.1 1494.9 1715.2 1495.1C1714.2 1495.3 1712.5 1494.2 1711.4 1494.4C1710.3 1494.6 1708.1 1496.8 1706.4 1496.9C1704.7 1497.0 1699.7 1494.8 1697.6 1495.1C1695.6 1495.4 1692.2 1498.1 1690.1 1499.4C1688.1 1500.6 1683.7 1504.1 1681.4 1505.1C1679.0 1506.2 1673.6 1506.8 1671.4 1507.6C1669.2 1508.5 1665.4 1510.4 1663.9 1511.9C1662.3 1513.3 1660.1 1517.4 1658.9 1519.4C1657.6 1521.4 1655.0 1525.8 1653.9 1528.1C1652.8 1530.5 1650.9 1536.1 1650.1 1538.1C1649.3 1540.2 1648.7 1543.6 1647.6 1544.4C1646.5 1545.2 1642.6 1543.5 1641.4 1544.4C1640.1 1545.3 1639.0 1550.5 1637.6 1551.9C1636.2 1553.3 1631.7 1554.2 1630.1 1555.7C1628.5 1557.1 1626.7 1561.7 1625.1 1563.2C1623.5 1564.6 1619.5 1566.0 1617.6 1566.9C1615.7 1567.8 1612.0 1569.9 1610.1 1570.7C1608.2 1571.4 1604.5 1573.1 1602.6 1573.2C1600.7 1573.2 1596.7 1571.6 1595.1 1571.2C1593.5 1570.7 1591.7 1569.5 1590.1 1569.4C1588.5 1569.3 1584.1 1570.0 1582.6 1570.2C1581.0 1570.3 1579.1 1571.1 1577.6 1570.7C1576.0 1570.3 1571.6 1568.0 1570.1 1566.9C1568.5 1565.8 1566.3 1563.5 1565.1 1561.9C1563.8 1560.3 1561.5 1555.5 1560.1 1554.4C1558.7 1553.3 1555.5 1554.1 1553.8 1553.2C1552.1 1552.2 1548.0 1548.2 1546.3 1546.9C1544.6 1545.6 1541.5 1543.7 1540.1 1542.6C1538.7 1541.6 1535.4 1539.0 1535.1 1538.1C1534.7 1537.3 1536.3 1536.3 1537.6 1535.6C1538.8 1535.0 1543.0 1533.2 1545.1 1532.6C1547.1 1532.1 1552.1 1531.5 1553.8 1531.1C1555.5 1530.8 1558.9 1530.5 1558.8 1530.1C1558.7 1529.8 1553.5 1529.3 1553.1 1528.1C1552.6 1526.9 1554.7 1522.5 1555.1 1520.6C1555.5 1518.8 1556.5 1515.3 1556.3 1513.1C1556.2 1510.9 1553.8 1505.6 1553.8 1503.1C1553.8 1500.6 1555.5 1494.8 1556.3 1493.1C1557.1 1491.4 1559.1 1490.5 1560.1 1489.4C1561.0 1488.3 1563.2 1486.1 1563.8 1484.4C1564.5 1482.6 1565.2 1478.0 1565.1 1475.6C1564.9 1473.3 1563.2 1468.4 1562.6 1465.6C1562.0 1462.8 1560.7 1455.6 1560.1 1453.1C1559.4 1450.6 1558.8 1447.3 1557.6 1445.6C1556.3 1443.9 1551.8 1440.8 1550.1 1439.3C1548.4 1437.9 1545.2 1435.4 1543.8 1434.3C1542.4 1433.3 1540.5 1431.2 1538.8 1431.1C1537.1 1430.9 1532.1 1432.5 1530.1 1433.1C1528.0 1433.7 1524.0 1436.2 1522.6 1436.1C1521.1 1435.9 1520.1 1432.8 1518.8 1431.8C1517.6 1430.8 1514.1 1429.3 1512.6 1428.1C1511.0 1426.8 1507.8 1423.4 1506.3 1421.8C1504.8 1420.3 1502.1 1417.1 1500.5 1415.6C1499.0 1414.0 1495.7 1410.9 1493.8 1409.3C1491.9 1407.8 1487.1 1404.1 1485.0 1403.1C1483.0 1402.0 1479.7 1401.4 1477.5 1401.1C1475.3 1400.8 1469.7 1400.6 1467.5 1400.6C1465.3 1400.6 1461.4 1400.6 1460.0 1401.1C1458.6 1401.5 1457.2 1403.5 1456.3 1404.3C1455.3 1405.1 1454.1 1407.2 1452.5 1407.6C1451.0 1408.0 1446.0 1408.1 1443.8 1407.6C1441.6 1407.0 1436.6 1404.6 1435.0 1403.1C1433.4 1401.6 1431.6 1397.4 1431.3 1395.6C1430.9 1393.7 1431.5 1389.5 1432.0 1388.1C1432.5 1386.7 1433.7 1385.6 1435.0 1384.3C1436.3 1383.1 1440.6 1379.5 1442.5 1378.1C1444.4 1376.6 1448.1 1373.6 1450.0 1372.6C1451.9 1371.6 1455.8 1371.1 1457.5 1370.1C1459.2 1369.0 1462.2 1365.0 1463.8 1364.3C1465.3 1363.6 1469.1 1365.1 1470.0 1364.3C1471.0 1363.5 1470.5 1359.5 1471.3 1358.1C1472.1 1356.6 1474.6 1354.5 1476.3 1353.1C1478.0 1351.6 1482.5 1348.3 1485.0 1346.8C1487.5 1345.3 1493.6 1342.4 1496.3 1341.0C1499.0 1339.7 1504.2 1337.1 1506.3 1336.0C1508.4 1335.0 1512.5 1333.5 1513.1 1332.5C1513.6 1331.5 1510.6 1328.9 1510.6 1328.0C1510.5 1327.2 1511.8 1325.4 1512.6 1325.5C1513.3 1325.7 1515.4 1328.7 1516.3 1329.3C1517.2 1329.9 1518.5 1330.5 1520.1 1330.0C1521.6 1329.6 1526.6 1326.8 1528.8 1325.5C1531.0 1324.3 1535.2 1321.6 1537.6 1320.0C1539.9 1318.5 1546.5 1313.5 1547.6 1313.0C1548.6 1312.5 1545.2 1315.9 1545.7 1315.9C1546.3 1315.9 1550.7 1313.3 1552.0 1313.0C1553.3 1312.7 1555.3 1313.9 1556.4 1313.7C1557.5 1313.4 1559.7 1311.4 1560.8 1311.1C1561.9 1310.9 1564.1 1311.3 1565.2 1311.8C1566.2 1312.3 1568.1 1315.2 1568.9 1315.3C1569.8 1315.4 1571.6 1313.3 1572.1 1312.4C1572.5 1311.5 1572.5 1309.1 1572.7 1308.0C1572.8 1306.9 1572.5 1304.4 1573.3 1303.6C1574.2 1302.9 1578.3 1302.5 1579.6 1302.0C1580.8 1301.5 1583.8 1300.4 1583.3 1299.9C1582.9 1299.3 1577.5 1297.8 1575.8 1297.4C1574.2 1296.9 1571.2 1296.0 1570.2 1296.1C1569.2 1296.2 1568.4 1297.9 1567.7 1298.0C1567.0 1298.1 1564.7 1297.4 1564.5 1296.7C1564.4 1296.1 1566.0 1294.2 1566.4 1293.0C1566.8 1291.7 1567.7 1288.3 1567.7 1286.7C1567.7 1285.1 1566.4 1281.8 1566.4 1280.4C1566.5 1279.0 1567.9 1276.8 1568.0 1275.4C1568.2 1274.0 1568.0 1270.4 1567.7 1269.2C1567.4 1267.9 1566.3 1266.3 1565.8 1265.4C1565.3 1264.4 1564.5 1262.3 1563.9 1261.6C1563.4 1261.0 1562.3 1260.1 1561.4 1260.4C1560.5 1260.7 1557.7 1263.2 1557.0 1264.1C1556.3 1265.1 1555.7 1267.0 1555.8 1267.9C1555.8 1268.8 1558.0 1271.0 1557.6 1271.7C1557.3 1272.3 1553.5 1272.4 1552.6 1272.9C1551.8 1273.5 1550.7 1275.2 1550.7 1276.0C1550.7 1276.9 1553.1 1279.5 1552.6 1279.8C1552.2 1280.1 1548.4 1278.7 1547.0 1278.6C1545.6 1278.4 1542.4 1279.1 1541.3 1278.6C1540.3 1278.0 1539.1 1275.3 1538.2 1274.2C1537.4 1273.1 1535.3 1270.4 1534.5 1269.8C1533.6 1269.1 1532.1 1268.6 1531.3 1268.9C1530.5 1269.2 1528.9 1272.0 1528.2 1272.3C1527.5 1272.6 1525.7 1271.5 1525.7 1271.0C1525.7 1270.6 1527.7 1269.2 1528.2 1268.5C1528.7 1267.8 1529.8 1266.0 1529.7 1265.4C1529.5 1264.8 1527.9 1263.7 1526.9 1263.5C1526.0 1263.3 1523.1 1263.7 1521.9 1263.9C1520.7 1264.0 1517.8 1266.1 1517.5 1264.8C1517.3 1263.5 1519.8 1255.6 1520.0 1253.5C1520.3 1251.4 1520.0 1247.8 1519.4 1247.8C1518.8 1247.9 1516.0 1252.5 1515.0 1254.1C1514.0 1255.8 1512.4 1259.8 1511.3 1261.0C1510.1 1262.2 1507.3 1263.7 1505.6 1263.5C1504.0 1263.3 1499.5 1259.8 1498.1 1259.1C1496.7 1258.4 1494.9 1257.6 1494.6 1257.9C1494.3 1258.2 1495.5 1260.8 1495.6 1261.6C1495.6 1262.4 1495.9 1263.7 1495.0 1264.1C1494.0 1264.6 1489.9 1265.0 1488.1 1265.4C1486.3 1265.7 1482.4 1266.9 1480.5 1266.9C1478.7 1266.9 1474.7 1266.0 1473.0 1265.6C1471.3 1265.3 1467.9 1264.2 1466.8 1263.9C1465.6 1263.6 1464.9 1263.2 1463.6 1263.5C1462.4 1263.8 1458.7 1265.5 1456.7 1266.0C1454.8 1266.6 1449.8 1267.4 1448.0 1267.9C1446.2 1268.4 1443.4 1269.2 1442.3 1269.8C1441.2 1270.4 1440.0 1272.3 1439.2 1272.9C1438.4 1273.5 1437.0 1274.3 1436.0 1274.4C1435.1 1274.5 1433.1 1274.3 1431.7 1273.9C1430.2 1273.5 1426.0 1272.0 1424.1 1271.4C1422.3 1270.8 1418.5 1269.5 1416.6 1268.9C1414.7 1268.3 1410.5 1267.0 1409.1 1266.4C1407.7 1265.8 1405.9 1264.9 1405.3 1264.1C1404.7 1263.4 1404.6 1261.4 1404.3 1260.4C1404.1 1259.4 1403.2 1256.8 1403.5 1256.0C1403.7 1255.1 1405.6 1254.1 1406.0 1253.5C1406.4 1252.9 1407.2 1251.3 1406.6 1251.3C1406.0 1251.3 1402.4 1253.4 1400.9 1253.5C1399.5 1253.6 1396.8 1252.6 1395.3 1252.2C1393.8 1251.8 1390.1 1250.9 1389.0 1250.3C1387.9 1249.8 1387.2 1248.7 1386.5 1247.8C1385.8 1247.0 1384.2 1244.4 1383.4 1243.5C1382.6 1242.5 1381.0 1240.6 1380.3 1240.3C1379.5 1240.1 1378.1 1241.6 1377.1 1241.6C1376.2 1241.5 1373.9 1240.3 1372.7 1239.7C1371.6 1239.1 1368.8 1237.3 1367.7 1236.6C1366.6 1235.8 1364.8 1234.1 1364.0 1233.4C1363.1 1232.8 1361.5 1231.2 1361.2 1231.3C1360.9 1231.4 1361.6 1233.3 1361.7 1234.0C1361.8 1234.8 1362.3 1236.7 1362.1 1237.2C1361.8 1237.7 1360.4 1237.7 1359.6 1237.8C1358.7 1237.9 1356.2 1238.1 1355.2 1238.1C1354.2 1238.0 1352.3 1237.6 1351.4 1237.2C1350.6 1236.8 1348.8 1235.4 1348.3 1234.7C1347.8 1234.0 1347.3 1232.4 1347.4 1231.5C1347.6 1230.7 1348.8 1228.7 1349.5 1228.0C1350.3 1227.3 1352.3 1226.2 1353.3 1225.9C1354.3 1225.6 1356.7 1225.4 1357.7 1225.5C1358.7 1225.6 1360.2 1226.7 1361.5 1226.8C1362.7 1226.8 1366.5 1226.1 1367.7 1225.9C1368.9 1225.7 1370.1 1225.4 1370.9 1225.0C1371.6 1224.6 1373.1 1223.5 1374.0 1222.8C1374.9 1222.0 1376.7 1219.8 1377.8 1219.3C1378.8 1218.7 1381.5 1218.7 1382.1 1218.4C1382.7 1218.1 1382.8 1217.3 1382.5 1216.7C1382.3 1216.2 1380.9 1215.0 1380.3 1214.2C1379.7 1213.5 1378.3 1211.7 1377.8 1210.9C1377.2 1210.0 1376.8 1207.9 1375.9 1207.5C1374.9 1207.1 1371.7 1207.8 1370.2 1207.7C1368.7 1207.6 1365.5 1206.9 1364.0 1206.5C1362.5 1206.0 1359.6 1204.8 1358.3 1204.2C1357.1 1203.7 1355.1 1202.6 1353.9 1202.1C1352.8 1201.6 1350.1 1200.6 1348.9 1200.2C1347.7 1199.8 1345.5 1199.2 1344.5 1199.2C1343.6 1199.2 1342.1 1199.7 1341.4 1200.2C1340.7 1200.7 1339.3 1202.3 1338.9 1203.3C1338.5 1204.4 1338.4 1207.3 1338.3 1208.4C1338.1 1209.4 1338.0 1212.1 1337.6 1212.1C1337.3 1212.1 1336.2 1209.4 1335.8 1208.4C1335.3 1207.3 1334.9 1205.3 1333.9 1204.0C1332.9 1202.6 1329.2 1199.3 1327.6 1197.7C1326.0 1196.1 1322.8 1193.0 1321.3 1191.4C1319.9 1189.9 1316.9 1186.1 1316.3 1185.2C1315.8 1184.2 1316.2 1183.3 1317.0 1183.7C1317.7 1184.0 1321.4 1187.4 1322.6 1188.3C1323.8 1189.2 1324.5 1190.6 1326.4 1190.8C1328.2 1191.0 1335.3 1190.1 1337.6 1189.9C1340.0 1189.7 1343.6 1189.0 1345.2 1189.2C1346.7 1189.4 1348.8 1190.8 1350.2 1191.4C1351.5 1192.1 1354.9 1194.1 1355.8 1194.6C1356.8 1195.0 1356.7 1195.1 1357.7 1195.2C1358.7 1195.3 1362.4 1195.1 1364.0 1195.2C1365.5 1195.3 1368.5 1195.5 1370.2 1195.8C1372.0 1196.1 1375.9 1197.2 1377.8 1197.3C1379.6 1197.4 1383.7 1196.5 1385.3 1196.4C1386.8 1196.4 1388.6 1196.8 1390.3 1197.1C1392.0 1197.4 1397.5 1198.5 1399.1 1198.9C1400.6 1199.4 1401.8 1200.2 1402.8 1200.8C1403.8 1201.5 1406.0 1203.4 1407.2 1204.0C1408.4 1204.5 1410.9 1205.3 1412.2 1205.5C1413.6 1205.6 1416.6 1205.3 1417.9 1205.0C1419.1 1204.6 1421.3 1203.2 1422.3 1202.5C1423.2 1201.7 1425.1 1199.6 1425.1 1198.7C1425.2 1197.8 1422.7 1196.3 1422.9 1195.2C1423.1 1194.1 1425.7 1191.2 1426.6 1190.2C1427.6 1189.2 1429.5 1187.8 1430.4 1187.0C1431.3 1186.3 1433.2 1184.4 1434.2 1183.9C1435.1 1183.4 1436.9 1183.5 1437.9 1183.3C1438.9 1183.0 1441.3 1182.5 1442.3 1182.0C1443.3 1181.6 1445.2 1180.2 1446.1 1179.5C1446.9 1178.8 1448.6 1177.2 1449.2 1176.4C1449.8 1175.6 1450.7 1173.7 1450.7 1173.2C1450.7 1172.8 1449.9 1172.6 1449.2 1172.9C1448.5 1173.1 1446.5 1174.6 1445.4 1175.1C1444.4 1175.6 1441.6 1176.6 1440.4 1177.0C1439.3 1177.4 1437.1 1177.7 1436.0 1178.3C1434.9 1178.8 1433.1 1180.5 1431.7 1181.4C1430.2 1182.3 1426.2 1184.5 1424.8 1185.2C1423.4 1185.9 1421.7 1186.7 1420.4 1187.0C1419.0 1187.4 1415.4 1188.1 1414.1 1187.9C1412.9 1187.8 1411.3 1186.4 1410.3 1185.8C1409.4 1185.2 1407.4 1184.0 1406.6 1183.3C1405.7 1182.6 1404.3 1180.1 1403.5 1180.1C1402.6 1180.1 1400.8 1182.7 1399.7 1183.3C1398.6 1183.9 1395.7 1184.5 1394.7 1185.2C1393.7 1185.8 1392.3 1188.7 1391.8 1188.7C1391.2 1188.7 1390.6 1186.1 1390.3 1185.2C1389.9 1184.2 1389.7 1181.5 1389.0 1180.8C1388.4 1180.0 1386.4 1179.5 1385.3 1179.1C1384.1 1178.7 1380.8 1178.2 1379.6 1177.6C1378.5 1177.1 1376.7 1175.6 1375.9 1174.5C1375.0 1173.4 1373.3 1170.2 1372.7 1168.9C1372.2 1167.5 1371.9 1165.1 1371.5 1163.8C1371.1 1162.6 1370.1 1160.2 1369.6 1158.8C1369.1 1157.4 1368.0 1154.1 1367.7 1152.6C1367.4 1151.0 1366.8 1147.9 1367.1 1146.3C1367.4 1144.7 1369.4 1141.4 1370.2 1140.0C1371.0 1138.6 1372.7 1136.3 1373.4 1135.0C1374.1 1133.8 1376.0 1130.6 1375.9 1130.0C1375.7 1129.4 1372.8 1129.6 1372.1 1130.0C1371.4 1130.4 1370.8 1132.3 1370.2 1133.1C1369.7 1134.0 1368.4 1136.3 1367.7 1136.9C1367.0 1137.5 1365.5 1137.6 1364.6 1138.1C1363.7 1138.7 1361.5 1140.2 1360.8 1141.3C1360.1 1142.4 1359.1 1145.7 1358.9 1146.9C1358.8 1148.2 1359.2 1150.4 1359.6 1151.3C1360.0 1152.3 1361.5 1153.5 1362.1 1154.4C1362.6 1155.4 1363.8 1157.5 1364.0 1158.8C1364.1 1160.2 1363.3 1163.7 1363.3 1165.1C1363.4 1166.5 1364.7 1169.1 1364.6 1170.1C1364.5 1171.1 1363.4 1172.5 1362.7 1173.2C1362.0 1174.0 1360.0 1175.6 1358.9 1176.1C1357.9 1176.7 1355.2 1177.5 1353.9 1177.6C1352.7 1177.7 1350.3 1177.4 1348.9 1177.0C1347.5 1176.6 1344.2 1175.1 1342.7 1174.5C1341.1 1173.9 1337.8 1172.3 1336.4 1172.0C1335.0 1171.7 1332.5 1172.1 1331.4 1172.4C1330.3 1172.6 1328.3 1173.2 1327.6 1173.9C1326.9 1174.6 1326.3 1177.3 1325.7 1177.9C1325.1 1178.5 1323.6 1179.0 1322.8 1178.9C1322.1 1178.8 1320.4 1177.3 1319.5 1177.0C1318.5 1176.7 1315.8 1176.7 1315.1 1176.4C1314.4 1176.1 1313.7 1175.3 1313.8 1174.5C1313.9 1173.7 1315.1 1171.4 1315.7 1170.1C1316.3 1168.8 1318.0 1165.4 1318.8 1163.8C1319.6 1162.3 1321.2 1159.1 1322.0 1157.6C1322.8 1156.1 1324.3 1153.3 1325.1 1151.9C1325.9 1150.6 1327.6 1148.0 1328.2 1146.9C1328.9 1145.8 1330.0 1143.8 1330.1 1143.2C1330.2 1142.5 1329.3 1141.6 1328.9 1141.5C1328.5 1141.5 1327.5 1141.8 1327.0 1142.5C1326.4 1143.3 1325.3 1146.6 1324.5 1147.6C1323.7 1148.5 1321.5 1149.4 1320.7 1150.1C1319.9 1150.8 1318.8 1152.6 1318.2 1153.2C1317.6 1153.7 1316.3 1154.8 1315.7 1154.4C1315.1 1154.1 1313.8 1151.6 1313.2 1150.7C1312.6 1149.7 1311.2 1147.5 1310.7 1146.9C1310.1 1146.4 1308.8 1145.5 1308.8 1146.3C1308.8 1147.1 1310.1 1151.9 1310.7 1153.2C1311.2 1154.5 1312.4 1156.1 1313.2 1157.0C1314.0 1157.8 1316.6 1159.2 1317.0 1159.8C1317.3 1160.5 1316.2 1161.0 1315.7 1162.0C1315.2 1162.9 1313.3 1166.4 1312.6 1167.6C1311.8 1168.9 1310.2 1170.9 1309.4 1172.0C1308.6 1173.1 1307.3 1175.3 1306.3 1176.1C1305.3 1176.9 1302.5 1177.6 1301.3 1178.3C1300.1 1178.9 1298.3 1181.2 1296.9 1181.4C1295.5 1181.6 1292.4 1180.7 1290.0 1180.1C1287.6 1179.6 1280.8 1176.8 1277.7 1176.6C1274.6 1176.5 1268.4 1178.5 1265.2 1179.1C1262.1 1179.8 1255.9 1181.0 1252.7 1182.2C1249.6 1183.3 1242.6 1187.2 1240.2 1188.4C1237.9 1189.7 1235.2 1190.9 1234.0 1192.2C1232.7 1193.4 1230.2 1196.5 1230.2 1198.4C1230.2 1200.3 1234.0 1205.1 1234.0 1207.2C1234.0 1209.2 1231.3 1212.6 1230.2 1214.7C1229.1 1216.7 1226.9 1221.8 1225.2 1223.4C1223.5 1225.0 1216.9 1226.9 1216.5 1227.7C1216.0 1228.5 1221.0 1228.8 1221.5 1229.7C1221.9 1230.5 1221.0 1232.8 1220.2 1234.7C1219.4 1236.6 1216.5 1242.4 1215.2 1244.7C1214.0 1247.0 1211.0 1251.6 1210.2 1252.9C1209.4 1254.3 1209.9 1254.1 1209.0 1255.5C1208.0 1256.9 1204.0 1261.9 1202.7 1264.3C1201.5 1266.6 1200.8 1271.6 1199.0 1274.3C1197.1 1276.9 1190.0 1283.0 1187.7 1285.5C1185.4 1288.0 1181.3 1293.1 1180.2 1294.3C1179.1 1295.4 1179.8 1294.1 1179.2 1294.9C1178.5 1295.6 1176.0 1298.9 1174.9 1300.3C1173.8 1301.7 1171.3 1304.9 1170.1 1306.4C1168.8 1307.9 1165.9 1311.1 1164.6 1312.4C1163.3 1313.7 1160.7 1315.8 1159.8 1316.7C1158.8 1317.5 1157.7 1319.3 1157.3 1319.1C1156.9 1319.0 1156.8 1316.6 1156.7 1315.5C1156.6 1314.3 1156.6 1311.1 1156.4 1310.0C1156.3 1308.9 1155.8 1306.7 1155.5 1306.4C1155.2 1306.0 1154.3 1306.7 1154.0 1307.3C1153.6 1307.9 1153.0 1310.1 1152.8 1311.2C1152.5 1312.3 1152.1 1315.0 1151.9 1316.1C1151.6 1317.1 1151.0 1319.3 1150.7 1319.7C1150.3 1320.1 1149.3 1319.1 1148.8 1319.1C1148.4 1319.1 1147.5 1320.1 1147.0 1320.0C1146.5 1319.9 1145.2 1319.0 1144.6 1318.5C1144.0 1318.0 1142.9 1316.6 1142.2 1316.1C1141.4 1315.5 1139.3 1314.3 1138.5 1314.3C1137.8 1314.2 1136.5 1314.9 1136.1 1315.5C1135.7 1316.1 1135.3 1318.1 1135.2 1319.1C1135.0 1320.1 1135.0 1322.4 1134.9 1323.4C1134.8 1324.3 1134.4 1326.9 1134.3 1327.0C1134.1 1327.1 1133.8 1324.8 1133.7 1324.0C1133.5 1323.1 1133.3 1320.9 1133.1 1320.3C1132.9 1319.8 1132.4 1319.6 1132.2 1319.7C1131.9 1319.9 1131.2 1320.8 1130.9 1321.5C1130.7 1322.3 1130.3 1324.8 1130.3 1325.8C1130.4 1326.8 1131.2 1328.6 1131.6 1329.4C1131.9 1330.3 1133.0 1331.6 1133.1 1332.4C1133.2 1333.3 1132.8 1335.9 1132.5 1336.1C1132.2 1336.2 1131.2 1334.3 1130.6 1333.7C1130.1 1333.0 1128.7 1331.2 1128.2 1330.6C1127.8 1330.0 1127.4 1328.8 1127.0 1328.8C1126.6 1328.8 1125.6 1330.0 1124.9 1330.3C1124.2 1330.6 1122.4 1331.0 1121.5 1331.2C1120.7 1331.5 1118.6 1332.0 1117.9 1332.4C1117.2 1332.9 1116.3 1334.2 1116.1 1334.9C1115.9 1335.6 1116.2 1337.2 1116.4 1337.9C1116.6 1338.6 1117.3 1339.9 1117.9 1340.3C1118.5 1340.8 1120.3 1341.1 1120.9 1341.5C1121.6 1342.0 1122.9 1343.5 1123.4 1344.0C1123.8 1344.4 1124.7 1344.8 1124.6 1345.2C1124.4 1345.5 1122.9 1346.3 1122.2 1346.7C1121.4 1347.1 1119.3 1348.0 1118.5 1348.2C1117.8 1348.4 1116.5 1348.5 1116.1 1348.5C1115.6 1348.5 1115.0 1348.0 1114.9 1348.2C1114.8 1348.5 1115.5 1350.0 1115.5 1350.6C1115.5 1351.2 1115.3 1352.7 1114.9 1353.1C1114.5 1353.5 1113.1 1353.8 1112.4 1354.0C1111.8 1354.2 1110.2 1355.0 1109.7 1354.9C1109.3 1354.8 1109.0 1353.9 1108.8 1353.1C1108.6 1352.2 1108.3 1349.4 1107.9 1348.2C1107.5 1347.1 1106.4 1344.9 1105.8 1344.0C1105.1 1343.1 1103.2 1341.9 1102.7 1340.9C1102.3 1340.0 1102.2 1337.3 1102.1 1336.1C1102.1 1334.9 1102.0 1332.4 1102.1 1331.2C1102.3 1330.1 1103.1 1327.8 1103.4 1327.0C1103.6 1326.2 1104.2 1325.2 1104.0 1324.6C1103.7 1324.0 1102.1 1322.7 1101.5 1322.1C1101.0 1321.6 1100.1 1320.9 1099.7 1320.3C1099.3 1319.8 1098.6 1318.0 1098.2 1317.9C1097.8 1317.7 1096.8 1318.7 1096.7 1319.1C1096.5 1319.6 1096.7 1320.9 1097.0 1321.5C1097.3 1322.1 1098.6 1323.3 1098.8 1324.0C1099.0 1324.6 1098.8 1326.4 1098.5 1327.0C1098.2 1327.6 1097.0 1328.2 1096.7 1328.8C1096.3 1329.4 1095.8 1331.0 1095.8 1331.8C1095.8 1332.7 1096.5 1334.6 1096.7 1335.5C1096.9 1336.3 1097.9 1337.8 1097.6 1338.5C1097.3 1339.2 1094.8 1340.3 1094.3 1340.9C1093.7 1341.5 1093.5 1342.5 1093.3 1343.4C1093.2 1344.3 1093.1 1346.9 1093.0 1348.2C1093.0 1349.5 1093.0 1352.5 1093.0 1353.7C1093.1 1354.9 1093.4 1356.9 1093.3 1357.9C1093.3 1359.0 1092.9 1361.2 1092.7 1362.2C1092.6 1363.1 1091.6 1364.9 1091.8 1365.5C1092.0 1366.1 1093.5 1367.0 1094.3 1367.3C1095.0 1367.6 1097.1 1368.0 1097.9 1367.9C1098.7 1367.9 1100.2 1367.4 1100.9 1367.0C1101.7 1366.6 1103.3 1365.1 1104.0 1364.6C1104.6 1364.0 1105.8 1362.8 1106.1 1362.7C1106.4 1362.5 1106.7 1363.0 1106.4 1363.5C1106.1 1364.0 1104.6 1365.7 1104.0 1366.4C1103.4 1367.1 1102.1 1368.2 1101.5 1368.8C1100.9 1369.5 1099.7 1371.1 1099.1 1371.9C1098.5 1372.6 1097.3 1374.2 1096.7 1374.9C1096.1 1375.6 1094.6 1376.9 1094.3 1377.3C1093.9 1377.7 1093.6 1377.3 1093.9 1378.1C1094.2 1378.8 1095.6 1382.3 1096.4 1383.1C1097.2 1383.8 1099.4 1384.6 1100.2 1384.3C1100.9 1384.0 1102.0 1380.3 1102.7 1380.6C1103.3 1380.9 1105.1 1386.3 1105.7 1386.8C1106.2 1387.3 1106.6 1385.2 1107.2 1384.3C1107.7 1383.5 1109.5 1379.9 1110.2 1380.1C1110.8 1380.2 1112.5 1384.4 1112.7 1385.6C1112.8 1386.7 1111.4 1387.8 1111.4 1389.3C1111.4 1390.9 1112.6 1395.6 1112.7 1398.1C1112.8 1400.6 1112.5 1406.7 1112.2 1409.3C1111.8 1412.0 1110.4 1417.4 1109.7 1419.3C1108.9 1421.3 1107.5 1424.2 1106.4 1425.1C1105.3 1425.9 1101.4 1426.8 1100.7 1426.1C1099.9 1425.4 1100.1 1421.3 1100.2 1419.3C1100.2 1417.4 1101.6 1412.7 1101.4 1410.6C1101.2 1408.5 1099.8 1404.2 1098.9 1402.6C1098.0 1400.9 1095.5 1398.8 1093.9 1397.6C1092.3 1396.4 1088.6 1394.1 1086.4 1393.1C1084.2 1392.0 1078.7 1390.0 1076.4 1389.3C1074.0 1388.6 1069.6 1388.0 1067.6 1387.6C1065.7 1387.2 1062.2 1385.8 1060.6 1386.1C1059.1 1386.3 1056.8 1388.8 1055.1 1389.3C1053.5 1389.8 1048.9 1389.4 1047.6 1390.1C1046.4 1390.7 1046.1 1393.5 1045.1 1394.3C1044.2 1395.2 1041.8 1396.0 1040.1 1396.8C1038.5 1397.6 1034.1 1399.3 1032.1 1400.6C1030.2 1401.8 1026.3 1405.8 1024.6 1406.8C1023.0 1407.8 1020.0 1407.5 1018.9 1408.6C1017.7 1409.6 1016.6 1414.5 1015.6 1415.1C1014.7 1415.6 1012.7 1414.0 1011.4 1413.1C1010.0 1412.2 1006.6 1408.9 1005.1 1408.1C1003.6 1407.3 1000.7 1406.2 999.6 1406.8C998.5 1407.5 996.9 1411.8 996.4 1413.1C995.9 1414.3 995.1 1415.8 995.6 1416.8C996.1 1417.8 999.9 1420.3 1000.1 1421.1C1000.4 1421.9 999.0 1422.7 997.6 1423.1C996.2 1423.5 991.0 1424.4 988.8 1424.3C986.7 1424.3 982.3 1423.1 980.1 1422.6C977.9 1422.1 973.7 1421.0 971.3 1420.1C969.0 1419.1 964.0 1416.3 961.3 1415.1C958.7 1413.9 952.3 1411.8 950.1 1410.6C947.9 1409.4 945.1 1407.3 943.8 1405.6C942.6 1403.9 940.7 1399.0 940.1 1396.8C939.4 1394.6 939.8 1389.5 938.8 1388.1C937.9 1386.6 933.8 1385.8 932.6 1385.1C931.3 1384.3 929.0 1383.0 928.8 1381.8C928.7 1380.6 930.2 1376.8 931.3 1375.6C932.4 1374.3 935.2 1372.0 937.6 1371.8C939.9 1371.7 947.3 1373.8 950.1 1374.3C952.9 1374.8 958.3 1375.7 960.1 1375.6C961.9 1375.4 964.0 1374.5 964.6 1373.1C965.2 1371.7 964.6 1365.9 965.1 1364.3C965.6 1362.7 968.8 1362.1 968.8 1360.6C968.8 1359.0 966.0 1353.4 965.1 1351.8C964.1 1350.2 961.3 1348.9 961.3 1347.5C961.3 1346.2 963.8 1342.2 965.1 1341.0C966.3 1339.9 970.5 1339.2 971.3 1338.0C972.2 1336.9 971.5 1333.0 972.1 1331.8C972.7 1330.6 974.9 1329.2 976.3 1328.5C977.8 1327.9 982.7 1327.8 983.8 1326.8C985.0 1325.7 984.6 1321.3 985.6 1320.0C986.6 1318.8 991.2 1318.1 992.1 1316.8C993.0 1315.4 993.3 1311.3 993.1 1309.3C992.9 1307.2 990.7 1302.2 990.6 1300.5C990.5 1298.8 991.4 1296.5 992.6 1295.5C993.8 1294.5 997.9 1293.2 1000.1 1292.5C1002.3 1291.8 1007.9 1290.9 1010.1 1290.0C1012.3 1289.1 1016.9 1287.3 1017.6 1285.5C1018.3 1283.7 1015.8 1277.5 1015.6 1275.5C1015.5 1273.5 1015.6 1271.1 1016.4 1269.3C1017.2 1267.4 1021.2 1262.5 1022.1 1260.5C1023.1 1258.5 1024.3 1254.8 1023.9 1253.0C1023.5 1251.2 1020.0 1247.6 1018.9 1245.9C1017.8 1244.3 1015.3 1241.4 1015.1 1239.7C1014.9 1238.0 1017.2 1234.4 1017.1 1232.2C1017.1 1230.0 1015.1 1224.5 1014.6 1222.2C1014.1 1219.8 1012.9 1215.3 1013.1 1213.4C1013.3 1211.5 1015.2 1208.6 1016.4 1207.2C1017.6 1205.8 1021.1 1203.1 1022.6 1202.2C1024.2 1201.2 1027.0 1200.5 1028.9 1199.7C1030.7 1198.8 1035.9 1196.1 1037.6 1195.2C1039.3 1194.2 1041.5 1192.2 1042.6 1192.2C1043.7 1192.1 1045.8 1193.1 1046.4 1194.7C1047.0 1196.2 1047.6 1202.3 1047.6 1204.7C1047.6 1207.0 1046.8 1211.4 1046.4 1213.4C1046.0 1215.4 1044.6 1219.6 1044.6 1220.9C1044.6 1222.3 1045.7 1224.3 1046.4 1224.2C1047.1 1224.0 1048.9 1220.7 1050.1 1219.7C1051.4 1218.6 1055.4 1217.8 1056.4 1215.9C1057.4 1214.0 1057.5 1205.9 1058.1 1204.7C1058.8 1203.4 1060.5 1204.8 1061.4 1205.9C1062.3 1207.0 1064.2 1213.1 1065.1 1213.4C1066.1 1213.7 1067.6 1209.9 1068.9 1208.4C1070.1 1206.9 1073.9 1202.3 1075.1 1201.7C1076.4 1201.0 1078.3 1202.2 1078.9 1203.4C1079.5 1204.7 1079.1 1210.3 1080.1 1211.7C1081.2 1213.1 1086.2 1213.5 1087.6 1214.7C1089.1 1215.8 1090.5 1219.8 1091.4 1220.9C1092.3 1222.0 1094.2 1223.6 1095.2 1223.4C1096.1 1223.3 1098.3 1220.9 1098.9 1219.7C1099.5 1218.4 1099.4 1214.5 1100.2 1213.4C1100.9 1212.3 1104.3 1212.0 1105.2 1210.9C1106.0 1209.8 1106.4 1205.0 1107.2 1204.7C1107.9 1204.3 1110.3 1207.2 1111.4 1208.4C1112.6 1209.7 1115.6 1212.9 1116.4 1214.7C1117.3 1216.4 1117.5 1220.6 1118.2 1222.2C1118.8 1223.7 1120.1 1227.2 1121.4 1227.2C1122.8 1227.2 1126.9 1222.9 1128.9 1222.2C1131.0 1221.5 1135.6 1221.7 1137.7 1221.7C1139.7 1221.6 1143.5 1221.9 1145.2 1221.7C1146.9 1221.4 1150.1 1220.7 1151.4 1219.7C1152.7 1218.6 1155.8 1214.4 1155.7 1213.4C1155.5 1212.5 1151.8 1212.9 1150.2 1212.2C1148.6 1211.4 1144.2 1208.7 1142.7 1207.2C1141.1 1205.7 1139.1 1201.6 1137.7 1200.2C1136.3 1198.8 1132.7 1197.2 1131.4 1195.9C1130.2 1194.6 1127.5 1190.7 1127.7 1189.7C1127.8 1188.6 1132.2 1188.7 1132.7 1187.2C1133.1 1185.6 1131.2 1179.3 1131.4 1177.1C1131.7 1175.0 1134.2 1171.8 1134.7 1169.6C1135.1 1167.5 1135.4 1161.7 1135.2 1159.6C1134.9 1157.6 1133.1 1155.3 1132.7 1153.4C1132.2 1151.5 1132.0 1145.9 1131.4 1144.6C1130.8 1143.4 1128.6 1144.2 1127.7 1143.4C1126.7 1142.6 1125.5 1139.2 1123.9 1138.4C1122.4 1137.5 1117.0 1137.3 1115.2 1136.6C1113.3 1136.0 1110.3 1134.4 1108.9 1133.4C1107.5 1132.3 1105.5 1129.4 1103.9 1128.4C1102.3 1127.3 1098.3 1126.0 1096.4 1125.1C1094.5 1124.3 1089.8 1122.8 1088.9 1121.6C1088.0 1120.5 1088.7 1117.5 1088.9 1115.9C1089.1 1114.2 1089.5 1109.8 1090.2 1108.4C1090.8 1107.0 1093.6 1105.9 1093.9 1104.6C1094.2 1103.4 1093.3 1099.5 1092.7 1098.4C1092.0 1097.2 1090.2 1095.0 1088.9 1095.1C1087.6 1095.3 1083.9 1100.2 1082.6 1099.6C1081.4 1099.0 1078.7 1091.4 1078.9 1090.1C1079.1 1088.9 1082.8 1090.3 1083.9 1089.6C1085.0 1088.9 1087.3 1086.9 1087.6 1084.6C1088.0 1082.3 1086.1 1072.9 1086.4 1070.8C1086.6 1068.8 1089.2 1069.4 1089.6 1068.3C1090.1 1067.2 1090.4 1063.8 1090.2 1062.1C1089.9 1060.4 1088.6 1055.9 1087.6 1054.6C1086.7 1053.3 1083.7 1051.7 1082.6 1051.6C1081.6 1051.4 1079.7 1052.3 1078.9 1053.3C1078.1 1054.3 1077.3 1058.7 1076.4 1059.6C1075.5 1060.5 1072.5 1061.3 1071.4 1060.8C1070.2 1060.4 1067.9 1057.6 1067.1 1055.8C1066.4 1054.1 1066.2 1048.5 1065.1 1047.1C1064.1 1045.7 1060.3 1045.7 1058.9 1044.6C1057.5 1043.5 1055.1 1039.9 1053.9 1038.3C1052.6 1036.8 1050.1 1032.5 1048.9 1032.1C1047.6 1031.6 1045.0 1034.9 1043.9 1034.6C1042.8 1034.3 1041.0 1031.4 1040.1 1029.6C1039.3 1027.7 1037.4 1021.8 1037.1 1019.6C1036.8 1017.4 1037.0 1013.9 1037.6 1012.1C1038.2 1010.2 1041.2 1006.7 1042.1 1004.6C1043.1 1002.4 1044.6 997.1 1045.1 994.6C1045.7 992.1 1045.8 986.4 1046.4 984.6C1047.0 982.7 1049.6 980.6 1050.1 979.5C1050.7 978.5 1051.3 976.6 1050.6 975.8C1050.0 975.0 1046.0 974.1 1045.1 973.3C1044.3 972.5 1043.4 971.0 1043.9 969.5C1044.3 968.1 1048.1 963.7 1048.9 962.0C1049.7 960.4 1050.8 957.6 1050.1 956.5C1049.4 955.4 1044.4 954.9 1043.1 953.3C1041.9 951.6 1041.0 945.1 1040.1 943.3C1039.3 941.5 1037.6 939.4 1036.4 939.0C1035.1 938.6 1031.4 939.3 1030.1 940.0C1028.9 940.7 1027.5 943.6 1026.4 944.5C1025.3 945.5 1022.6 947.5 1021.4 947.5C1020.1 947.5 1017.6 945.5 1016.4 944.5C1015.1 943.5 1012.5 940.9 1011.4 939.5C1010.3 938.1 1008.5 934.4 1007.6 933.3C1006.8 932.2 1005.3 932.0 1004.6 930.8C1003.9 929.5 1002.8 925.3 1002.1 923.3C1001.4 921.2 1000.0 915.9 998.9 914.5C997.7 913.1 994.6 912.5 992.6 912.0C990.6 911.5 985.1 911.4 982.6 910.8C980.1 910.1 974.5 907.3 972.6 907.0C970.7 906.7 968.6 907.3 967.6 908.3C966.6 909.2 965.2 912.6 964.6 914.5C964.0 916.4 963.6 922.4 963.1 923.3C962.5 924.1 961.1 922.8 960.1 921.5C959.1 920.3 955.6 914.9 955.1 913.3C954.6 911.6 956.5 909.2 956.3 908.3C956.2 907.3 954.6 905.7 953.8 905.8C953.1 905.9 951.2 908.2 950.1 909.0C949.0 909.9 946.0 912.6 945.1 912.5C944.1 912.4 942.3 909.4 942.6 908.3C942.8 907.1 946.3 905.0 947.1 903.3C947.9 901.5 949.2 895.9 948.8 894.5C948.4 893.1 945.5 891.8 943.8 892.0C942.1 892.2 936.9 895.1 935.1 895.8C933.2 896.4 930.1 897.8 928.8 897.0C927.6 896.2 926.2 890.0 925.1 889.5C924.0 889.0 921.4 893.1 920.1 893.3C918.8 893.4 914.9 892.2 914.6 890.8C914.2 889.3 917.2 882.9 917.6 882.0C917.9 881.1 917.6 884.2 917.3 883.9C917.1 883.6 916.1 880.6 915.3 879.9C914.6 879.1 912.4 878.2 911.3 877.8C910.1 877.5 907.6 877.3 906.2 877.0C904.9 876.8 901.9 876.2 900.7 875.8C899.5 875.5 897.5 875.1 896.6 874.3C895.7 873.5 894.4 871.0 893.6 869.8C892.8 868.5 891.1 865.5 890.1 864.2C889.0 862.9 886.3 860.7 885.0 859.6C883.7 858.6 881.1 856.7 879.9 856.1C878.8 855.5 877.2 854.8 875.9 854.6C874.6 854.4 871.4 854.7 869.8 854.8C868.3 854.9 865.0 855.1 863.8 855.1C862.6 855.1 860.8 855.0 860.2 854.6C859.6 854.2 859.0 852.8 858.9 852.1C858.8 851.4 859.4 849.5 859.2 849.0C859.0 848.6 857.9 848.3 857.2 848.5C856.5 848.7 854.6 850.2 853.7 850.5C852.7 850.9 850.6 851.1 849.6 851.4C848.6 851.6 846.6 852.0 845.6 852.6C844.6 853.2 842.5 855.2 841.5 856.1C840.5 857.0 838.2 859.0 837.5 859.6C836.7 860.3 836.1 861.5 835.5 861.5C834.8 861.5 833.2 860.1 832.4 859.6C831.7 859.1 830.2 857.6 829.4 857.4C828.6 857.2 827.2 857.7 826.4 858.1C825.5 858.5 823.7 859.8 822.8 860.7C821.9 861.5 820.1 864.2 819.3 865.2C818.5 866.2 817.1 868.0 816.3 868.7C815.4 869.4 813.6 870.5 812.7 870.8C811.8 871.0 810.3 871.2 809.2 871.0C808.1 870.8 805.5 869.8 804.1 869.2C802.7 868.7 799.4 867.3 798.1 866.7C796.7 866.1 794.3 864.9 793.5 864.5C792.7 864.1 791.7 863.5 791.5 863.9C791.2 864.2 791.4 866.3 791.5 867.2C791.6 868.1 792.7 870.7 792.5 871.3C792.3 871.8 790.7 871.6 790.0 871.6C789.3 871.5 787.6 870.7 786.9 870.8C786.3 870.8 785.5 871.7 784.9 872.0C784.3 872.2 782.6 872.7 781.9 872.6C781.1 872.5 779.7 871.8 778.9 871.3C778.0 870.7 775.8 869.0 774.8 868.2C773.8 867.5 771.5 865.6 770.8 865.2C770.1 864.8 769.6 864.5 769.2 864.7C768.9 864.9 768.0 866.2 767.7 866.7C767.4 867.3 767.2 868.7 766.7 868.9C766.2 869.2 764.3 868.3 763.7 868.5C763.1 868.8 762.2 870.0 762.2 870.8C762.1 871.5 762.9 873.7 763.2 874.8C763.4 875.9 764.2 878.8 764.2 879.9C764.2 880.9 763.6 882.8 763.2 883.4C762.7 884.0 761.4 884.4 760.7 884.4C760.0 884.4 758.3 883.8 757.6 883.4C756.9 883.0 755.7 881.6 755.1 880.9C754.5 880.1 753.1 877.9 752.6 877.3C752.0 876.7 751.0 876.0 750.5 876.0C750.1 876.1 749.5 877.3 749.3 877.8C749.1 878.4 749.5 879.8 749.0 880.4C748.5 881.0 746.1 882.0 745.5 882.7C744.9 883.4 744.2 885.1 744.0 885.9C743.7 886.7 743.9 888.4 743.5 889.0C743.0 889.5 741.6 890.1 740.4 890.5C739.3 890.9 736.1 891.6 734.4 892.0C732.6 892.4 728.3 893.4 726.3 893.8C724.3 894.2 719.8 894.8 718.2 895.2C716.6 895.7 714.2 896.9 713.1 897.3C712.1 897.6 710.9 898.1 710.1 898.1C709.4 898.0 707.6 896.8 707.1 897.0C706.6 897.3 706.3 899.0 706.3 900.1C706.2 901.2 706.7 904.3 706.6 905.6C706.4 907.0 705.5 909.9 705.1 911.2C704.6 912.5 703.6 914.7 703.0 916.3C702.4 917.8 701.2 921.8 700.3 923.3C699.3 924.8 696.4 926.9 695.3 928.3C694.2 929.7 692.8 933.4 691.5 934.5C690.3 935.7 687.3 937.1 685.3 937.5C683.2 938.0 677.6 937.9 675.3 938.3C672.9 938.7 668.4 940.6 666.5 940.8C664.6 941.0 662.3 939.8 660.2 940.0C658.2 940.2 652.4 941.8 650.2 942.5C648.1 943.2 646.5 945.1 642.7 945.8C639.0 946.5 625.5 947.7 620.2 948.3C614.9 948.9 604.6 950.3 600.2 950.8C595.8 951.3 587.7 951.9 585.2 952.5C582.7 953.2 581.5 954.4 580.2 955.8C579.0 957.1 576.5 961.3 575.2 963.3C574.0 965.3 571.5 969.7 570.2 971.5C568.9 973.4 566.4 977.0 565.2 978.3C563.9 979.5 561.8 980.9 560.2 981.5C558.6 982.2 554.4 983.4 552.7 983.8C551.0 984.2 547.8 984.3 546.4 984.6C545.0 984.8 542.5 986.3 541.4 985.8C540.3 985.3 538.6 982.3 537.7 980.8C536.7 979.3 534.9 975.5 533.9 974.0C533.0 972.6 531.6 970.1 530.2 969.0C528.8 968.0 524.4 966.6 522.7 965.8C521.0 965.0 517.5 963.5 516.4 962.5C515.3 961.6 514.3 959.4 513.9 958.3C513.5 957.1 513.8 954.4 513.2 953.3C512.5 952.1 510.2 950.1 508.9 949.0C507.6 948.0 504.5 945.6 502.7 945.0C500.8 944.5 496.0 944.8 493.9 944.5C491.8 944.2 487.2 942.8 485.7 942.8C484.1 942.8 482.6 943.8 481.4 944.5C480.2 945.2 477.7 947.7 476.4 948.3C475.2 948.8 473.1 948.4 471.4 949.0C469.7 949.7 464.5 953.1 462.6 953.3C460.8 953.5 457.8 951.3 456.4 950.8C455.0 950.3 452.6 949.8 451.4 949.0C450.1 948.3 447.6 945.8 446.4 945.0C445.1 944.3 442.6 943.8 441.4 943.3C440.1 942.7 437.8 940.8 436.4 940.8C435.0 940.8 432.0 942.6 430.1 943.3C428.3 944.0 422.8 946.5 421.4 946.5C420.0 946.5 420.0 944.3 418.9 943.3C417.8 942.2 414.7 939.1 412.6 938.3C410.6 937.5 405.1 937.4 402.6 937.0C400.1 936.6 394.8 935.5 392.6 935.0C390.4 934.6 386.7 933.2 385.1 933.3C383.5 933.4 381.2 935.0 380.1 935.8C379.0 936.6 377.3 939.1 376.4 939.5C375.4 940.0 373.9 939.9 372.6 939.5C371.4 939.2 367.9 937.3 366.3 936.5C364.8 935.7 361.7 934.3 360.1 933.3C358.5 932.2 355.4 929.7 353.8 928.3C352.3 926.8 349.0 922.7 347.6 921.5C346.2 920.4 344.0 919.6 342.6 919.0C341.2 918.5 337.6 916.8 336.3 917.0C335.1 917.2 333.4 919.5 332.6 920.8C331.8 922.0 330.7 925.5 330.1 927.0C329.5 928.6 328.5 932.1 327.6 933.3C326.6 934.5 323.7 936.1 322.6 936.5C321.5 937.0 319.6 937.3 318.8 937.0C318.0 936.8 317.3 935.0 316.3 934.5C315.4 934.1 312.2 933.1 311.3 933.3C310.5 933.4 309.7 934.8 309.6 935.8C309.5 936.7 311.0 939.7 310.6 940.8C310.2 941.8 307.3 943.9 306.3 944.0C305.3 944.2 303.4 942.7 302.6 942.0C301.7 941.3 299.6 939.3 299.6 938.3C299.6 937.3 302.1 935.3 302.6 934.0C303.0 932.8 303.5 929.8 303.1 928.3C302.6 926.8 300.0 923.4 298.8 922.0C297.7 920.7 295.0 918.5 293.8 917.5C292.7 916.5 290.6 914.2 289.6 914.0C288.5 913.8 286.7 915.5 285.6 915.8C284.4 916.1 281.5 916.4 280.1 916.5C278.6 916.7 274.9 917.5 273.8 917.0C272.7 916.5 271.9 913.9 271.3 912.5C270.7 911.1 269.6 907.3 268.8 905.8C268.0 904.2 266.0 901.3 265.0 900.0C264.1 898.8 262.1 896.8 261.3 895.8C260.5 894.8 259.6 892.4 258.8 892.0C258.0 891.6 256.1 892.6 255.0 892.5C253.9 892.4 251.1 891.5 250.0 891.5C248.9 891.5 247.2 892.9 246.3 892.5C245.4 892.1 243.5 889.6 242.5 888.3C241.6 886.9 239.4 882.8 238.8 882.0C238.2 881.2 237.9 883.0 237.5 881.9C237.1 880.9 236.2 875.2 235.5 873.7C234.8 872.2 232.2 871.1 232.0 869.9C231.8 868.7 234.2 865.3 233.8 864.2C233.4 863.1 230.2 861.6 228.8 861.2C227.4 860.7 223.9 860.4 222.5 860.7C221.1 861.0 218.1 864.2 217.5 863.7C216.9 863.1 217.2 858.4 217.5 856.2C217.8 854.0 220.0 848.7 220.0 846.2C220.1 843.7 218.0 838.1 218.0 836.2C218.0 834.2 219.1 832.0 220.0 830.7C221.0 829.3 224.3 827.0 225.5 825.7C226.8 824.3 228.8 820.9 230.0 819.9C231.3 818.9 234.4 818.5 235.5 817.4C236.6 816.3 238.2 813.0 238.8 811.2C239.3 809.3 239.4 804.1 240.0 802.4C240.7 800.7 243.2 799.6 243.8 797.4C244.4 795.2 244.3 787.2 245.0 784.9C245.8 782.5 248.6 780.7 249.5 778.6C250.5 776.6 251.7 770.7 252.5 768.6C253.4 766.5 255.4 762.9 256.3 761.9C257.2 760.8 259.2 760.7 260.0 760.1C260.9 759.6 262.6 758.8 263.0 757.4C263.5 755.9 263.4 750.3 263.8 748.6C264.2 746.9 265.5 744.3 266.3 743.6C267.1 742.9 269.0 742.6 270.1 743.1C271.1 743.7 273.3 747.2 274.6 748.1C275.8 749.1 278.1 750.3 280.1 750.6C282.1 750.9 288.7 750.0 290.6 750.4C292.4 750.7 293.8 752.8 295.1 753.6C296.3 754.4 299.5 756.2 300.6 756.6C301.7 757.0 303.7 757.4 303.8 756.6C304.0 755.9 302.0 752.1 301.8 750.6C301.7 749.2 302.7 746.2 302.6 744.9C302.4 743.5 301.8 741.1 300.6 739.9C299.3 738.6 294.4 736.3 292.6 734.9C290.7 733.5 286.8 729.2 285.6 728.6C284.3 728.0 282.7 730.5 282.6 729.9C282.4 729.2 283.9 726.0 284.6 723.6C285.2 721.3 287.0 713.6 287.6 711.1C288.1 708.6 288.9 706.3 288.8 703.6C288.7 700.9 287.9 692.5 287.1 689.8C286.2 687.2 282.9 684.5 282.1 682.3C281.2 680.1 280.6 674.5 280.1 672.3C279.5 670.1 277.6 666.7 277.6 664.8C277.6 663.0 279.0 659.2 280.1 657.3C281.1 655.4 284.9 652.0 286.3 649.8C287.7 647.6 289.9 641.5 291.3 639.8C292.7 638.1 296.2 637.6 297.6 636.1C299.0 634.5 301.3 629.2 302.6 627.3C303.8 625.4 306.5 621.6 307.6 620.6C308.7 619.5 310.6 619.6 311.3 618.6C312.0 617.5 312.0 614.0 313.1 612.3C314.2 610.6 318.3 607.0 320.1 604.8C321.9 602.6 325.9 597.1 327.6 594.8C329.3 592.4 332.3 588.1 333.8 586.0C335.4 584.0 338.7 580.3 340.1 578.5C341.5 576.8 343.2 574.3 345.1 572.3C347.0 570.2 352.9 564.6 355.1 562.3C357.3 560.0 360.7 556.0 362.6 554.0C364.5 552.1 368.2 548.2 370.1 546.5C372.0 544.8 375.6 542.1 377.6 540.5C379.6 538.9 384.5 535.2 386.4 533.5C388.2 531.9 391.4 528.7 392.6 527.3C393.9 525.9 395.7 523.6 396.4 522.3C397.1 520.9 397.3 517.7 398.1 516.5C398.9 515.3 401.1 513.6 402.6 513.0C404.1 512.4 407.0 511.9 410.1 511.8C413.2 511.6 425.0 511.8 427.6 511.8C430.3 511.7 430.9 511.1 431.4 511.0C431.8 510.9 430.7 511.8 431.4 510.9Z" fill="#4287bd" stroke="#000" stroke-width="2.1" stroke-linejoin="round"/>
<path d="M1317.0 1221.5C1316.6 1221.5 1316.3 1221.7 1316.3 1222.5C1316.3 1223.3 1316.6 1226.3 1317.0 1227.8C1317.3 1229.2 1318.7 1232.6 1319.5 1234.0C1320.2 1235.5 1322.2 1238.7 1323.2 1239.7C1324.2 1240.7 1325.5 1241.3 1327.6 1242.2C1329.7 1243.1 1337.0 1246.1 1340.1 1247.2C1343.3 1248.3 1349.2 1250.0 1352.7 1251.0C1356.1 1252.0 1364.0 1254.4 1367.7 1255.4C1371.5 1256.3 1379.9 1257.9 1382.8 1258.5C1385.6 1259.1 1388.8 1260.0 1390.3 1260.4C1391.8 1260.8 1394.2 1261.6 1394.7 1261.6C1395.1 1261.7 1394.7 1261.1 1393.8 1260.6C1392.9 1260.2 1389.5 1258.5 1387.8 1257.9C1386.1 1257.2 1383.1 1256.2 1380.3 1255.4C1377.4 1254.5 1369.0 1252.4 1365.2 1251.3C1361.5 1250.3 1353.6 1248.2 1350.2 1247.2C1346.7 1246.2 1340.5 1244.3 1337.6 1243.5C1334.8 1242.6 1329.4 1241.0 1327.6 1240.1C1325.8 1239.1 1324.2 1237.3 1323.2 1235.9C1322.3 1234.6 1320.6 1230.7 1320.1 1229.0C1319.6 1227.4 1319.5 1223.5 1319.1 1222.5C1318.7 1221.6 1317.3 1221.5 1317.0 1221.5Z" fill="#4287bd" stroke="#000" stroke-width="2.1" stroke-linejoin="round"/>
<path d="M1447.3 1276.0C1448.5 1276.2 1454.1 1277.6 1456.7 1277.9C1459.3 1278.2 1465.7 1278.6 1468.0 1278.6C1470.4 1278.5 1474.0 1277.2 1475.5 1277.3C1477.1 1277.4 1479.5 1278.9 1480.5 1279.2C1481.6 1279.5 1482.6 1280.0 1483.7 1279.8C1484.8 1279.6 1488.1 1277.8 1489.3 1277.9C1490.5 1278.0 1492.1 1280.0 1493.1 1280.4C1494.1 1280.8 1496.8 1280.7 1497.5 1281.1C1498.2 1281.4 1498.8 1282.4 1498.7 1282.9C1498.6 1283.5 1497.9 1285.3 1496.8 1285.4C1495.8 1285.6 1492.9 1284.9 1490.6 1284.4C1488.2 1284.0 1481.2 1282.5 1478.0 1281.9C1474.9 1281.4 1468.6 1280.3 1465.5 1279.8C1462.4 1279.3 1455.2 1278.3 1453.0 1277.9C1450.7 1277.6 1448.0 1277.2 1447.3 1276.9C1446.6 1276.7 1446.2 1275.9 1447.3 1276.0Z" fill="#4287bd" stroke="#000" stroke-width="2.1" stroke-linejoin="round"/>
<path d="M1724.7 1274.3C1724.8 1273.8 1725.7 1271.6 1726.4 1270.5C1727.1 1269.4 1728.8 1266.6 1730.2 1265.5C1731.6 1264.4 1735.8 1262.7 1737.7 1261.8C1739.5 1260.8 1743.4 1258.9 1745.2 1258.0C1746.9 1257.1 1750.4 1254.8 1751.4 1254.3C1752.4 1253.7 1753.1 1253.3 1753.2 1253.5C1753.3 1253.7 1752.7 1255.1 1752.2 1256.0C1751.6 1256.9 1750.1 1259.2 1748.9 1260.5C1747.7 1261.8 1744.7 1265.4 1742.7 1266.8C1740.6 1268.1 1734.8 1270.1 1732.7 1271.0C1730.5 1271.9 1726.7 1273.6 1725.7 1274.0C1724.7 1274.4 1724.6 1274.7 1724.7 1274.3Z" fill="#4287bd" stroke="#000" stroke-width="2.1" stroke-linejoin="round"/>
<path d="M617.7 243.1C617.7 243.2 617.4 244.1 617.7 244.6C618.0 245.0 618.5 245.9 620.2 246.3C621.9 246.7 630.5 247.1 631.5 247.6C632.4 248.0 627.9 248.8 627.7 250.1C627.5 251.3 629.7 255.8 629.7 257.6C629.7 259.3 628.8 262.2 627.7 263.8C626.7 265.4 623.0 268.3 621.5 270.1C620.0 271.8 616.8 275.7 615.7 277.6C614.7 279.4 613.5 283.0 613.2 285.1C612.9 287.1 613.0 292.3 613.2 293.8C613.5 295.4 614.3 297.0 615.2 297.6C616.1 298.1 619.0 297.5 620.2 298.1C621.4 298.7 624.4 301.5 624.7 302.6C625.1 303.6 623.9 305.2 623.2 306.3C622.5 307.4 619.7 309.9 619.0 311.3C618.3 312.7 617.7 315.9 617.7 317.6C617.8 319.3 619.3 322.6 619.5 325.1C619.7 327.6 619.4 335.2 619.5 337.6C619.6 340.0 619.8 343.5 620.2 344.6C620.6 345.7 622.1 346.8 622.7 346.4C623.4 345.9 624.0 342.2 625.2 341.4C626.5 340.5 631.2 339.8 632.7 339.6C634.3 339.4 636.7 340.5 637.7 340.1C638.8 339.7 640.3 336.4 641.0 336.3C641.7 336.3 642.4 339.4 643.5 339.6C644.6 339.8 649.0 336.9 649.7 337.6C650.5 338.3 649.1 343.5 649.7 345.1C650.4 346.7 654.4 348.9 655.2 350.1C656.1 351.3 655.4 353.1 656.5 354.6C657.6 356.1 662.0 360.5 664.0 362.1C666.0 363.7 671.0 365.8 672.8 367.1C674.5 368.4 677.1 371.1 677.8 372.6C678.4 374.1 678.7 377.6 678.3 378.9C677.8 380.1 675.5 382.0 674.0 382.6C672.5 383.2 667.7 383.2 666.5 383.9C665.3 384.5 664.9 386.5 664.7 387.6C664.6 388.7 664.6 391.8 665.2 392.6C665.9 393.4 669.3 393.9 670.3 393.9C671.2 393.8 671.8 391.8 672.8 392.1C673.7 392.4 676.6 394.9 677.8 396.4C678.9 397.8 681.6 402.3 682.3 403.9C682.9 405.4 683.3 407.9 682.8 408.9C682.2 409.8 679.5 410.9 677.8 411.4C676.0 411.9 670.3 412.0 669.0 412.6C667.7 413.3 667.3 415.3 667.7 416.4C668.2 417.5 672.3 420.1 672.8 421.4C673.2 422.6 672.3 425.1 671.5 426.4C670.7 427.6 666.5 430.5 666.5 431.4C666.5 432.3 671.0 433.2 671.5 433.9C672.0 434.6 671.2 436.6 670.3 436.9C669.3 437.2 665.7 435.7 664.0 436.4C662.3 437.1 657.6 440.9 656.5 442.7C655.4 444.4 655.3 448.1 655.2 450.2C655.1 452.2 656.1 457.0 655.7 458.9C655.4 460.8 653.3 463.8 652.7 465.2C652.2 466.6 652.3 469.7 651.5 470.2C650.7 470.6 647.7 469.5 646.5 468.9C645.2 468.3 642.7 465.8 641.5 465.2C640.2 464.5 637.6 464.8 636.5 463.9C635.4 463.0 634.0 459.0 632.7 458.2C631.5 457.3 628.4 456.6 626.5 456.9C624.6 457.2 620.2 459.5 617.7 460.7C615.2 461.8 608.7 465.4 606.5 465.9C604.3 466.4 601.5 465.0 600.2 464.4C599.0 463.8 597.0 460.5 596.5 460.9C595.9 461.3 595.7 466.1 596.0 467.7C596.3 469.2 599.2 472.5 599.0 473.2C598.7 473.8 595.4 472.6 594.0 472.7C592.5 472.8 587.9 472.8 587.2 473.9C586.5 475.0 588.5 480.0 588.2 481.4C588.0 482.9 586.7 485.0 585.2 485.7C583.7 486.3 578.3 486.5 576.5 486.4C574.6 486.3 571.3 484.5 570.2 484.7C569.1 484.8 567.4 486.6 567.7 487.7C567.9 488.7 572.0 491.8 572.2 493.2C572.4 494.6 569.9 498.1 568.9 498.9C568.0 499.8 564.9 499.6 564.7 500.2C564.5 500.8 566.5 502.6 567.7 503.9C568.9 505.3 573.6 510.1 574.5 511.0M449.1 470.2C449.9 469.9 454.1 467.5 455.1 467.7C456.2 467.8 456.9 470.4 457.6 471.4C458.4 472.4 460.2 474.9 461.4 475.9C462.6 476.9 466.1 479.5 467.1 479.7C468.2 479.8 469.1 477.6 470.2 477.2C471.2 476.8 474.2 476.9 475.2 476.4C476.2 475.9 477.3 473.2 478.2 473.2C479.0 473.2 481.2 475.2 482.2 476.4C483.1 477.6 484.7 481.6 485.7 482.7C486.7 483.8 489.0 484.9 490.2 485.2C491.3 485.4 493.5 484.1 494.7 484.7C495.9 485.2 499.0 488.5 499.7 489.7C500.4 490.8 501.0 493.1 500.2 493.9C499.3 494.8 493.9 495.7 492.7 496.4C491.4 497.1 489.8 498.7 490.2 499.7C490.5 500.6 494.2 502.7 495.2 503.9C496.1 505.2 496.9 509.7 497.7 509.7C498.4 509.7 500.5 504.2 501.4 503.9C502.4 503.7 503.9 507.0 505.2 507.7C506.4 508.4 510.5 509.3 511.4 509.7C512.4 510.1 512.5 510.8 512.7 510.9M752.8 510.9C753.4 510.4 756.4 507.8 757.8 506.4C759.2 505.0 763.0 501.2 764.0 499.7C765.1 498.1 764.5 495.4 766.5 493.9C768.6 492.4 777.4 488.3 780.3 487.7C783.2 487.0 788.8 488.8 790.1 488.9M866.2 317.8C865.2 318.2 859.6 319.7 858.3 320.5C857.1 321.3 856.5 323.0 856.2 324.2C855.9 325.3 855.6 328.2 856.0 329.4C856.4 330.6 859.0 332.8 859.4 333.6C859.7 334.5 859.5 336.2 858.9 336.2C858.2 336.2 855.2 334.7 854.1 333.6C853.1 332.6 851.1 328.8 850.5 327.8C849.8 326.9 849.5 326.1 848.9 326.3C848.3 326.5 846.2 328.0 845.7 329.4C845.2 330.9 844.8 336.3 844.9 337.8C844.9 339.3 845.7 340.8 846.2 341.5C846.7 342.2 848.9 342.2 848.9 343.1C848.8 343.9 847.2 347.4 845.7 348.3C844.2 349.3 837.7 350.1 836.8 351.0C835.9 351.8 837.7 353.9 838.4 355.2C839.0 356.5 841.8 360.1 842.0 361.5C842.3 362.9 841.3 365.2 840.5 366.2C839.6 367.3 836.2 368.6 835.2 369.9C834.2 371.1 833.2 375.0 832.6 376.2C831.9 377.4 830.3 378.6 830.0 379.9C829.6 381.1 830.0 384.7 829.4 386.2C828.9 387.6 826.6 390.2 825.7 391.4C824.9 392.7 823.8 395.3 822.6 396.2C821.4 397.1 817.5 398.2 816.3 398.8C815.1 399.4 813.7 400.2 813.1 400.9C812.6 401.6 812.3 403.7 812.1 404.6C811.9 405.4 811.3 406.8 811.6 407.7C811.8 408.7 813.7 411.4 814.2 412.5C814.7 413.6 815.8 415.8 815.8 416.7C815.7 417.6 813.6 418.9 813.7 419.8C813.7 420.8 816.1 422.6 816.3 424.0C816.5 425.5 815.4 429.7 815.2 431.4C815.1 433.1 814.7 436.1 815.0 437.6C815.3 439.2 816.8 442.2 817.5 443.9C818.2 445.6 820.7 449.2 820.5 451.4C820.4 453.6 817.3 459.4 816.3 461.4C815.2 463.4 812.7 466.1 812.0 467.7C811.3 469.2 810.1 472.7 810.5 473.9C810.9 475.2 814.4 476.6 815.0 477.7C815.6 478.8 815.5 481.6 815.0 482.7C814.5 483.8 811.3 485.5 811.3 486.4C811.3 487.4 813.9 489.0 815.0 490.2C816.1 491.3 818.9 494.8 820.0 495.7C821.1 496.6 823.9 496.3 823.8 497.2C823.6 498.1 819.9 501.0 818.8 502.7C817.7 504.4 815.5 509.9 815.0 510.9M790.0 488.9C790.9 488.1 796.3 484.0 797.5 482.7C798.8 481.3 799.2 478.6 800.0 478.2C800.8 477.7 803.2 478.2 803.8 478.9C804.3 479.6 803.6 483.0 804.5 483.9C805.4 484.9 810.4 486.1 811.3 486.4M1066.4 337.6C1066.7 337.9 1068.6 338.5 1068.9 340.1C1069.2 341.7 1069.4 348.1 1068.9 350.1C1068.4 352.1 1066.4 355.0 1065.1 356.4C1063.9 357.7 1060.2 359.8 1058.9 360.6C1057.6 361.4 1054.9 361.4 1054.6 362.6C1054.3 363.8 1055.9 367.5 1056.4 370.1C1056.9 372.8 1057.9 382.7 1058.9 383.9C1059.8 385.1 1062.6 379.8 1063.9 379.6C1065.1 379.5 1067.6 381.5 1068.9 382.6C1070.1 383.8 1072.5 387.6 1073.9 388.9C1075.3 390.1 1079.4 391.7 1080.1 392.6C1080.9 393.6 1080.5 395.1 1080.1 396.4C1079.8 397.6 1078.0 400.9 1077.6 402.6C1077.3 404.4 1078.2 409.3 1077.1 410.1C1076.0 411.0 1069.7 409.2 1068.9 409.6C1068.1 410.1 1069.9 412.7 1070.6 413.9C1071.4 415.0 1073.7 417.0 1075.1 418.9C1076.6 420.8 1081.5 425.8 1082.1 428.9C1082.8 432.0 1079.3 441.9 1080.1 443.9C1081.0 445.9 1087.6 443.9 1088.9 444.7C1090.2 445.4 1090.4 448.6 1090.9 450.2C1091.4 451.7 1092.7 455.8 1092.7 457.2C1092.6 458.6 1091.1 460.1 1090.2 461.4C1089.2 462.7 1086.6 465.8 1085.1 467.7C1083.7 469.5 1079.2 474.7 1078.9 476.4C1078.6 478.1 1082.6 479.9 1082.6 481.4C1082.7 483.0 1079.7 487.5 1079.6 488.9C1079.6 490.3 1082.1 491.3 1082.1 492.7C1082.2 494.1 1081.2 499.1 1080.1 500.2C1079.1 501.3 1074.8 500.6 1073.9 501.4C1073.0 502.2 1072.4 505.7 1073.1 506.4C1073.9 507.2 1078.5 507.6 1080.1 507.7C1081.8 507.8 1085.1 506.8 1086.4 507.2C1087.6 507.6 1089.7 510.5 1090.2 510.9M1204.7 363.1C1204.3 363.5 1201.7 365.0 1201.5 366.4C1201.2 367.7 1202.9 371.2 1202.7 373.9C1202.6 376.5 1200.5 384.0 1200.2 387.6C1199.9 391.2 1199.6 400.8 1200.2 402.6C1200.8 404.4 1203.3 401.9 1205.2 402.1C1207.1 402.4 1213.6 403.8 1215.2 404.6C1216.8 405.5 1217.5 407.4 1217.7 408.9C1218.0 410.4 1217.2 414.5 1217.2 416.4C1217.3 418.3 1217.1 422.5 1218.2 423.9C1219.4 425.3 1224.7 426.5 1226.5 427.6C1228.2 428.7 1231.8 431.1 1232.2 432.6C1232.7 434.2 1230.8 438.3 1230.2 440.2C1229.6 442.0 1226.7 446.2 1227.2 447.2C1227.7 448.2 1232.7 447.6 1234.0 448.2C1235.3 448.7 1236.7 451.4 1237.7 451.4C1238.8 451.4 1241.0 448.4 1242.2 448.2C1243.5 447.9 1246.1 449.8 1247.7 449.7C1249.4 449.5 1252.9 447.7 1255.2 447.2C1257.6 446.7 1264.7 445.4 1266.5 445.7C1268.3 445.9 1269.1 447.8 1269.7 448.9C1270.4 450.0 1270.6 453.7 1271.5 454.7C1272.3 455.6 1275.7 455.7 1276.5 456.4C1277.3 457.1 1277.0 459.1 1277.7 460.2C1278.5 461.3 1282.0 463.8 1282.7 465.2C1283.5 466.6 1284.5 470.0 1284.0 471.4C1283.5 472.8 1279.5 475.3 1279.0 476.4C1278.5 477.6 1279.2 479.6 1280.2 480.7C1281.3 481.7 1286.5 483.5 1287.7 484.7C1289.0 485.8 1289.0 488.9 1290.3 489.7C1291.5 490.4 1295.9 490.5 1297.8 490.7C1299.6 490.9 1303.5 491.2 1305.3 491.4C1307.0 491.7 1310.3 492.9 1311.5 492.7C1312.8 492.5 1313.7 490.0 1315.3 489.7C1316.8 489.4 1322.1 490.4 1324.0 490.2C1325.9 490.0 1328.7 488.9 1330.3 488.2C1331.8 487.5 1335.0 485.3 1336.5 484.7C1338.1 484.0 1341.4 483.7 1342.8 483.2C1344.1 482.6 1346.3 481.4 1347.3 480.2C1348.2 478.9 1349.1 474.3 1350.3 473.2C1351.4 472.1 1355.0 471.0 1356.5 471.4C1358.1 471.8 1361.2 474.9 1362.8 476.4C1364.3 477.9 1367.0 482.1 1369.0 483.2C1371.1 484.2 1377.7 483.8 1379.0 484.7C1380.4 485.5 1380.4 489.1 1379.8 490.2C1379.2 491.2 1374.8 492.1 1374.0 493.2C1373.3 494.3 1373.6 497.9 1374.0 498.9C1374.5 500.0 1377.2 500.5 1377.8 501.4C1378.4 502.4 1378.1 505.2 1379.0 506.4C1380.0 507.6 1384.5 510.4 1385.3 510.9M1232.7 510.9C1232.3 510.1 1229.3 505.6 1229.0 503.9C1228.7 502.3 1230.4 499.1 1230.2 497.7C1230.1 496.3 1227.7 494.1 1227.7 492.7C1227.7 491.3 1228.8 488.3 1230.2 486.4C1231.7 484.5 1238.4 479.9 1239.5 477.7C1240.6 475.5 1240.4 470.6 1239.0 468.9C1237.5 467.2 1229.4 464.4 1227.7 463.9C1226.0 463.4 1225.7 464.2 1225.2 465.2C1224.7 466.1 1225.1 470.0 1224.0 471.4C1222.9 472.8 1217.6 475.4 1216.5 476.4C1215.4 477.4 1216.7 479.3 1215.2 479.7C1213.7 480.1 1206.3 479.1 1204.7 479.7C1203.1 480.2 1203.7 484.3 1202.7 483.9C1201.7 483.5 1197.7 478.1 1196.5 476.4C1195.2 474.7 1193.3 471.7 1192.7 470.2C1192.1 468.7 1193.1 465.1 1191.5 464.4C1189.8 463.7 1181.3 463.8 1179.7 464.4C1178.1 465.0 1180.0 468.2 1178.9 468.9C1177.9 469.6 1172.5 469.2 1171.4 470.2C1170.3 471.1 1170.8 474.4 1170.2 476.4C1169.6 478.5 1167.2 483.5 1166.4 486.4C1165.7 489.4 1164.4 497.1 1163.9 500.2C1163.5 503.2 1162.8 509.1 1162.7 510.9C1162.6 512.8 1162.6 514.4 1163.2 514.8C1163.8 515.1 1166.5 514.3 1167.7 514.0C1168.9 513.7 1171.4 512.6 1172.7 512.3C1173.9 511.9 1176.9 510.5 1177.7 511.0C1178.5 511.5 1178.0 514.6 1178.9 516.0C1179.9 517.4 1183.9 520.7 1185.2 522.3C1186.4 523.8 1188.6 527.0 1188.9 528.5C1189.3 530.0 1187.2 533.1 1187.7 534.0C1188.2 534.9 1191.9 535.0 1192.7 536.0C1193.5 537.0 1193.0 540.9 1194.0 542.3C1194.9 543.7 1199.3 545.5 1200.2 547.3C1201.1 549.0 1200.8 554.3 1201.5 556.0C1202.1 557.7 1204.4 559.1 1205.2 561.0C1206.0 562.9 1207.2 568.8 1207.7 571.0C1208.2 573.2 1207.9 578.0 1209.0 578.5C1210.1 579.1 1215.7 576.6 1216.5 575.5C1217.2 574.4 1215.1 571.1 1215.2 569.8C1215.3 568.4 1217.4 566.3 1217.2 564.8C1217.1 563.2 1214.0 558.8 1214.0 557.3C1214.0 555.7 1217.5 554.9 1217.2 552.3C1216.9 549.6 1211.7 538.2 1211.5 536.0C1211.2 533.8 1214.0 534.8 1215.2 534.8C1216.5 534.8 1220.2 536.2 1221.5 536.0C1222.8 535.9 1225.1 534.5 1225.7 533.5C1226.3 532.5 1225.6 528.5 1226.5 528.0C1227.3 527.5 1231.8 530.3 1232.7 529.8C1233.7 529.2 1233.0 524.7 1234.0 523.5C1234.9 522.3 1239.9 521.6 1240.2 520.5C1240.5 519.4 1237.1 515.9 1236.5 514.8C1235.8 513.6 1235.4 511.5 1235.2 511.0M1540.1 167.0C1539.8 167.3 1538.5 168.0 1538.1 169.5C1537.6 171.0 1537.0 176.7 1536.3 178.8C1535.6 180.9 1533.4 184.7 1532.6 186.3C1531.7 187.8 1529.9 189.4 1529.6 191.3C1529.2 193.2 1529.2 199.7 1530.1 201.3C1530.9 202.8 1534.7 202.7 1536.3 203.8C1537.9 204.9 1541.0 208.8 1542.6 210.0C1544.1 211.3 1548.0 212.8 1548.8 213.8C1549.6 214.8 1549.6 217.2 1548.8 218.0C1548.0 218.9 1544.0 220.4 1542.6 220.5C1541.2 220.6 1538.4 218.4 1537.6 218.8C1536.7 219.2 1535.8 222.7 1535.6 223.8C1535.3 224.9 1535.8 226.6 1535.6 227.5C1535.3 228.5 1533.7 230.4 1533.8 231.3C1533.9 232.2 1536.2 234.2 1536.3 235.0C1536.5 235.9 1536.3 237.4 1535.1 238.0C1533.8 238.7 1528.2 239.8 1526.3 240.6C1524.4 241.3 1521.8 243.2 1520.1 243.8C1518.3 244.4 1513.8 244.4 1512.6 245.1C1511.3 245.7 1511.0 247.6 1510.1 248.8C1509.1 250.1 1506.3 253.5 1505.0 255.1C1503.8 256.6 1500.7 259.9 1500.0 261.3C1499.4 262.7 1499.4 264.9 1499.5 266.3C1499.7 267.7 1500.5 271.0 1501.3 272.6C1502.1 274.1 1505.1 277.5 1506.3 278.8C1507.5 280.1 1510.2 281.9 1510.6 283.1C1510.9 284.2 1508.9 286.9 1508.8 288.1C1508.7 289.3 1509.7 290.9 1510.1 292.6C1510.4 294.2 1510.8 299.9 1511.3 301.3C1511.8 302.7 1514.0 303.1 1513.8 303.8C1513.6 304.6 1510.1 306.5 1510.1 307.6C1510.1 308.7 1513.5 311.5 1513.8 312.6C1514.1 313.7 1513.3 316.0 1512.6 316.3C1511.8 316.7 1508.3 314.6 1507.5 315.1C1506.8 315.6 1506.3 318.8 1506.3 320.1C1506.3 321.3 1507.8 324.2 1507.5 325.1C1507.3 326.0 1504.6 326.3 1504.5 327.1C1504.5 327.9 1506.9 329.9 1507.0 331.3C1507.2 332.8 1506.3 337.8 1505.5 338.8C1504.8 339.9 1502.3 340.1 1501.3 340.1C1500.3 340.1 1498.2 339.5 1497.5 338.8C1496.9 338.2 1496.9 335.4 1496.3 335.1C1495.7 334.8 1493.1 335.9 1492.5 336.3C1492.0 336.8 1491.7 337.8 1492.0 338.8C1492.4 339.9 1494.3 343.8 1495.0 344.6C1495.8 345.4 1497.7 344.8 1498.0 345.6C1498.4 346.4 1497.2 350.2 1497.5 351.4C1497.9 352.5 1500.4 353.9 1500.5 355.1C1500.7 356.4 1499.4 360.3 1498.8 361.4C1498.2 362.5 1496.0 362.9 1495.5 363.9C1495.1 364.8 1496.0 367.8 1495.0 368.9C1494.1 370.0 1489.1 371.1 1488.0 372.6C1486.9 374.2 1486.7 379.5 1486.3 381.4C1485.9 383.2 1484.1 386.6 1484.5 387.6C1485.0 388.7 1488.3 389.2 1490.0 389.6C1491.8 390.1 1497.9 390.6 1498.8 391.4C1499.7 392.1 1497.1 394.7 1497.5 395.6C1498.0 396.6 1501.1 398.3 1502.5 398.9C1504.0 399.4 1507.5 400.7 1508.8 400.1C1510.1 399.6 1511.6 395.2 1512.6 394.6C1513.5 394.1 1516.1 394.9 1516.3 395.6C1516.6 396.3 1515.2 399.1 1514.6 400.1C1513.9 401.2 1511.9 402.9 1511.3 403.9C1510.7 404.9 1509.7 407.2 1510.1 408.1C1510.4 409.1 1513.3 409.9 1513.8 411.4C1514.3 412.9 1514.3 418.6 1513.8 420.1C1513.3 421.7 1510.9 422.3 1510.1 423.9C1509.2 425.5 1507.5 430.6 1507.0 432.6C1506.6 434.7 1506.2 438.4 1506.3 440.2C1506.4 441.9 1506.8 445.2 1507.5 446.4C1508.3 447.7 1511.9 449.1 1512.1 450.2C1512.2 451.2 1509.5 453.6 1508.8 455.2C1508.1 456.7 1506.9 461.4 1506.3 462.7C1505.7 463.9 1504.1 463.9 1503.8 465.2C1503.5 466.4 1504.3 470.0 1503.8 472.7C1503.3 475.3 1500.7 483.8 1500.0 486.4C1499.4 489.1 1499.4 492.4 1498.8 493.9C1498.2 495.5 1496.0 497.8 1495.0 498.9C1494.1 500.0 1492.5 501.9 1491.3 502.7C1490.0 503.5 1486.4 504.4 1485.0 505.2C1483.6 506.0 1480.9 508.2 1480.0 508.9C1479.2 509.7 1478.3 510.7 1478.0 510.9M1499.5 493.9C1500.7 494.1 1506.7 495.0 1508.8 495.2C1510.9 495.4 1515.1 495.9 1516.3 495.7C1517.5 495.4 1517.1 493.6 1518.1 493.2C1519.0 492.7 1522.3 491.7 1523.8 491.9C1525.3 492.1 1526.8 493.8 1530.1 494.7C1533.3 495.6 1545.5 497.9 1550.1 498.9C1554.6 499.9 1562.8 501.6 1566.3 502.7C1569.8 503.7 1576.4 506.9 1578.1 507.2C1579.8 507.5 1578.6 505.6 1580.1 505.2C1581.6 504.8 1589.3 504.6 1590.1 503.9C1590.9 503.3 1586.4 501.0 1586.3 500.2C1586.3 499.3 1588.2 498.0 1589.6 497.2C1591.0 496.4 1596.0 493.8 1597.6 493.9C1599.2 494.1 1601.0 497.3 1602.6 498.4C1604.2 499.5 1608.5 501.8 1610.1 502.7C1611.7 503.5 1614.7 505.3 1615.6 505.2C1616.5 505.0 1616.3 502.1 1617.1 501.4C1617.9 500.8 1621.4 500.6 1622.1 500.2C1622.8 499.7 1621.9 498.1 1622.6 497.7C1623.3 497.2 1626.4 497.0 1627.6 496.4C1628.9 495.9 1631.2 493.4 1632.6 493.2C1634.0 493.0 1638.0 493.3 1638.9 494.7C1639.7 496.0 1639.1 502.3 1639.6 503.9C1640.1 505.6 1641.8 506.8 1642.6 507.7C1643.5 508.6 1645.9 510.5 1646.4 510.9M512.7 511.0C512.8 511.3 513.1 512.7 513.9 513.5C514.7 514.3 518.0 516.3 518.9 517.3C519.9 518.2 520.2 520.5 521.4 521.0C522.7 521.5 527.1 521.8 528.9 521.5C530.8 521.3 534.4 519.2 536.4 519.0C538.5 518.8 543.9 520.1 545.2 519.8C546.4 519.4 545.5 516.0 546.4 516.0C547.4 516.0 551.0 519.2 552.7 519.8C554.4 520.3 558.9 519.6 560.2 520.5C561.4 521.4 561.4 527.5 562.7 527.3C563.9 527.0 568.5 520.2 570.2 518.5C571.9 516.8 575.9 514.9 576.5 514.0C577.0 513.1 574.7 511.4 574.5 511.0M562.7 527.3C562.9 527.7 562.9 530.5 563.9 531.0C565.0 531.5 569.9 531.7 571.5 531.5C573.0 531.4 575.5 529.4 576.5 529.8C577.4 530.2 578.9 533.5 579.0 534.8C579.0 536.0 577.9 538.8 577.2 539.8C576.5 540.7 573.6 541.3 573.2 542.3C572.8 543.2 573.5 546.2 574.0 547.3C574.5 548.4 576.9 549.5 577.2 551.0C577.5 552.6 576.2 558.1 576.5 559.8C576.7 561.5 577.9 563.4 579.0 564.8C580.0 566.1 583.5 569.1 585.2 570.5C586.9 572.0 591.2 575.5 592.7 576.5C594.2 577.6 596.7 578.7 597.2 579.0M597.2 579.0C597.3 578.5 597.5 575.5 598.2 574.8C598.9 574.0 601.9 574.0 602.7 573.0C603.5 572.1 603.9 568.5 604.7 567.3C605.5 566.1 608.8 564.6 609.0 563.5C609.2 562.5 606.8 560.3 606.5 559.0C606.2 557.8 606.0 554.4 606.5 553.5C606.9 552.7 608.5 551.9 610.2 552.3C611.9 552.6 618.5 556.4 620.2 556.5C621.9 556.7 623.0 553.7 624.0 553.5C624.9 553.3 626.6 555.1 627.7 554.8C628.8 554.5 631.2 551.6 632.7 551.0C634.3 550.4 638.2 550.0 640.2 549.8C642.3 549.5 647.0 550.0 649.0 549.0C651.0 548.1 654.6 544.0 656.5 542.3C658.4 540.5 662.3 535.9 664.0 535.3C665.7 534.6 668.5 536.9 670.3 536.8C672.0 536.6 675.9 534.4 677.8 534.3C679.6 534.2 683.5 535.5 685.3 536.0C687.0 536.5 690.3 538.1 691.5 538.0C692.8 537.9 694.5 535.4 695.3 535.3C696.0 535.2 697.6 536.2 697.8 537.3C697.9 538.3 696.4 542.0 696.5 543.5C696.7 545.1 698.6 548.5 699.0 549.8C699.4 551.0 698.8 553.5 699.8 553.5C700.7 553.5 705.0 551.0 706.5 549.8C708.0 548.5 710.1 545.1 711.5 543.5C712.9 542.0 715.9 538.2 717.8 537.3C719.6 536.3 724.7 536.9 726.5 536.0C728.4 535.2 731.2 531.9 732.8 530.5C734.3 529.1 737.5 526.3 739.0 524.8C740.6 523.3 743.9 519.9 745.3 518.5C746.7 517.1 749.2 514.4 750.3 513.5C751.4 512.6 753.6 511.3 754.0 511.0M699.8 553.5C699.5 554.0 697.2 556.3 697.8 557.3C698.3 558.2 703.3 560.1 704.0 561.0C704.7 562.0 704.2 564.0 703.3 564.8C702.3 565.6 697.0 566.3 696.5 567.3C696.0 568.2 699.3 571.2 699.0 572.3C698.7 573.3 694.5 574.8 694.0 575.5C693.5 576.3 694.5 578.0 695.3 578.5C696.0 579.1 699.5 579.1 699.8 579.8C700.1 580.5 699.0 583.3 697.8 584.0C696.6 584.8 691.3 585.0 690.3 585.5C689.3 586.1 689.6 587.2 689.8 588.5C689.9 589.9 691.0 594.2 691.5 596.0C692.0 597.9 693.9 601.7 694.0 603.5C694.2 605.4 692.4 609.5 692.8 611.1C693.1 612.6 695.7 614.6 696.5 616.1C697.3 617.5 698.9 620.4 699.0 622.3C699.2 624.2 698.2 629.3 697.8 631.1C697.3 632.8 694.8 634.8 695.3 636.1C695.7 637.3 700.9 639.8 701.5 641.1C702.1 642.3 700.9 644.8 700.3 646.1C699.6 647.3 697.1 649.5 696.5 651.1C695.9 652.6 695.9 657.2 695.3 658.6C694.6 660.0 692.4 661.1 691.5 662.3C690.6 663.5 688.4 666.5 688.3 668.1C688.1 669.6 689.5 672.7 690.3 674.8C691.0 676.9 693.0 682.8 694.0 684.8C695.0 686.9 697.6 689.1 698.3 691.1C698.9 693.1 698.6 698.9 699.0 701.1C699.4 703.3 701.4 706.9 701.5 708.6C701.6 710.3 700.4 713.7 699.8 714.9C699.1 716.0 697.1 716.7 696.5 718.1C696.0 719.5 695.2 724.3 695.3 726.1C695.4 727.9 697.0 730.6 697.3 732.4C697.5 734.1 696.9 738.5 697.2 740.0C697.4 741.5 699.4 743.7 699.3 744.7C699.1 745.8 696.7 747.6 696.1 748.4C695.5 749.3 694.4 750.6 694.5 751.6C694.7 752.5 697.1 754.7 697.2 755.8C697.2 756.9 695.3 759.6 695.1 760.5C694.8 761.4 695.3 762.0 695.1 762.6C694.9 763.2 693.6 764.2 693.5 765.2C693.4 766.2 694.4 769.3 694.5 770.5C694.7 771.7 694.2 774.0 694.5 774.7C694.9 775.4 697.0 775.4 697.2 776.3C697.4 777.2 696.2 780.8 696.1 782.1C696.1 783.3 696.3 785.3 696.7 786.3C697.0 787.2 698.0 788.8 698.8 789.4C699.5 790.1 702.4 790.9 702.4 791.5C702.4 792.2 699.3 793.9 698.8 794.7C698.2 795.4 697.5 796.4 697.7 797.3C697.9 798.2 700.1 800.7 700.3 802.0C700.6 803.4 700.0 806.9 699.8 808.3C699.6 809.8 698.6 812.7 698.8 813.6C698.9 814.5 700.2 815.2 700.9 815.7C701.5 816.2 703.2 817.1 704.0 817.8C704.8 818.5 706.5 820.5 707.2 821.0C707.8 821.4 709.3 821.0 709.3 821.5C709.3 822.0 707.3 824.3 707.2 825.2C707.0 826.0 707.6 827.7 708.2 828.3C708.9 829.0 711.5 829.8 712.4 830.4C713.3 831.0 715.4 832.5 715.6 833.0C715.7 833.6 713.5 834.4 713.5 835.1C713.4 835.9 714.7 837.9 715.1 838.8C715.4 839.8 716.4 842.3 716.6 842.8M597.2 579.0C597.4 579.6 598.1 582.4 599.0 583.5C599.8 584.7 603.2 586.9 604.0 588.0C604.7 589.1 605.6 591.4 605.2 592.3C604.8 593.1 601.2 593.7 600.7 594.8C600.2 595.9 602.2 599.8 601.5 601.0C600.8 602.3 597.6 603.7 595.2 604.8C592.9 605.9 585.7 608.9 582.7 609.8C579.7 610.7 573.7 611.8 571.5 612.3C569.2 612.8 565.7 613.3 564.7 614.1C563.7 614.8 563.0 617.1 563.2 618.6C563.4 620.1 566.1 624.6 566.4 626.1C566.8 627.6 566.3 629.7 565.7 630.6C565.1 631.4 562.6 632.8 561.4 633.1C560.3 633.3 557.5 631.9 556.4 632.3C555.3 632.7 553.5 634.7 552.7 636.1C551.9 637.5 551.1 642.0 550.2 643.6C549.3 645.1 547.1 647.3 545.2 648.6C543.3 649.8 537.7 652.3 535.2 653.6C532.7 654.8 526.9 657.6 525.2 658.6C523.5 659.5 522.1 659.6 521.4 661.1C520.8 662.6 520.3 669.4 520.2 670.6M519.7 671.1C518.8 670.9 514.5 670.5 512.7 669.8C510.9 669.1 507.2 665.9 505.2 665.6C503.1 665.3 498.6 667.1 496.4 667.3C494.2 667.5 488.9 666.5 487.7 667.3C486.4 668.1 486.6 672.1 486.4 673.6C486.3 675.1 486.9 677.7 486.4 679.1C485.9 680.5 483.2 683.6 482.7 684.8C482.1 686.1 481.6 688.3 482.2 689.1C482.7 689.9 486.9 690.1 487.2 691.1C487.4 692.1 485.1 695.9 483.9 697.3C482.7 698.8 479.2 701.6 477.7 702.3C476.1 703.1 472.4 702.6 471.4 703.1C470.4 703.6 469.5 705.4 469.6 706.1C469.8 706.8 471.7 708.8 472.7 708.6C473.6 708.4 476.2 705.3 477.2 704.8C478.1 704.4 479.9 703.8 480.2 704.8C480.4 705.9 478.7 712.1 478.9 713.6C479.1 715.1 480.5 716.2 481.4 716.6C482.3 717.0 485.5 716.0 486.4 716.6C487.3 717.2 488.8 720.1 488.9 721.1C489.1 722.1 488.6 724.3 487.7 724.9C486.7 725.4 483.1 725.2 481.4 725.6C479.7 726.0 475.6 727.4 473.9 728.1C472.2 728.8 469.4 730.5 467.6 731.1C465.9 731.7 461.9 732.7 460.1 733.1C458.4 733.5 455.6 734.5 453.9 734.4C452.2 734.3 448.4 732.0 446.4 732.4C444.4 732.7 439.4 737.1 437.6 737.4C435.9 737.7 434.2 734.6 432.6 734.9C431.1 735.1 427.2 738.6 425.1 739.1C423.1 739.6 418.7 739.2 416.4 739.1C414.0 739.0 408.2 737.9 406.4 738.1C404.5 738.4 402.4 740.0 401.4 741.1C400.3 742.3 398.9 745.6 398.1 747.4C397.3 749.2 396.3 753.9 395.1 755.6C394.0 757.3 390.0 759.2 388.9 761.1C387.7 763.1 386.2 768.9 385.6 771.1C385.0 773.3 383.8 776.8 383.9 778.6C384.0 780.5 386.3 784.1 386.4 786.1C386.5 788.2 385.2 792.4 384.6 794.9C384.0 797.4 381.8 804.7 381.4 806.1M519.7 671.1C520.4 672.1 523.9 676.9 525.2 679.1C526.5 681.3 529.1 686.2 530.2 688.6C531.3 691.0 533.3 696.1 533.9 698.6C534.6 701.1 534.9 706.7 535.2 708.6C535.5 710.5 535.8 712.4 536.4 713.6C537.1 714.9 539.8 717.2 540.2 718.6C540.6 720.0 540.2 723.6 539.7 724.9C539.2 726.1 536.7 727.0 536.4 728.6C536.2 730.2 537.1 736.1 537.7 737.4C538.3 738.6 540.5 738.8 541.4 738.6C542.4 738.5 543.9 736.1 545.2 736.1C546.4 736.1 550.6 737.2 551.4 738.6C552.3 740.0 553.0 746.3 552.2 747.4C551.4 748.5 546.5 747.1 545.2 747.4C543.8 747.7 541.4 749.1 541.4 749.9C541.4 750.7 544.2 752.8 545.2 753.6C546.2 754.4 549.0 755.2 549.7 756.1C550.4 757.0 550.1 760.1 550.5 761.0C550.9 762.0 551.8 763.5 552.6 763.7C553.4 763.9 555.8 762.7 556.8 762.6C557.9 762.5 559.8 762.1 561.0 762.6C562.2 763.1 565.3 765.3 566.3 766.3C567.3 767.3 568.7 769.4 568.9 770.5C569.1 771.5 568.0 773.6 568.2 774.7C568.4 775.8 569.8 778.5 570.5 779.4C571.2 780.3 573.1 782.5 573.6 782.1C574.2 781.6 574.7 777.1 575.2 775.7C575.7 774.4 576.9 772.3 577.8 771.5C578.8 770.8 582.1 769.6 582.6 770.0C583.0 770.4 581.9 773.3 581.5 774.7C581.2 776.1 580.1 779.6 580.0 781.0C579.8 782.4 579.3 785.5 580.0 785.7C580.6 785.9 583.9 782.8 585.2 782.6C586.5 782.4 589.5 783.7 590.5 784.2C591.4 784.6 593.1 785.7 592.6 786.3C592.0 786.9 587.4 788.2 586.3 788.9C585.1 789.5 583.6 790.9 583.1 791.5C582.6 792.2 582.1 793.4 582.1 794.1C582.1 794.9 582.4 797.6 583.1 797.8C583.8 798.1 586.1 797.0 587.3 796.2C588.5 795.5 591.5 792.2 592.6 791.5C593.7 790.9 595.7 791.5 596.2 791.0C596.8 790.5 596.6 788.2 596.8 787.3C596.9 786.5 596.5 784.7 597.3 784.2C598.1 783.6 602.0 783.0 603.1 782.6C604.1 782.2 605.0 781.1 605.7 781.0C606.4 780.9 608.7 781.5 608.9 782.1C609.1 782.6 607.4 784.9 607.3 785.7C607.2 786.6 607.5 788.1 608.3 788.9C609.1 789.7 612.3 791.5 613.6 792.0C614.9 792.6 617.5 792.9 618.9 793.6C620.2 794.3 622.9 796.8 624.1 797.8C625.4 798.9 628.2 801.2 628.8 802.0C629.5 802.8 629.6 803.5 629.4 804.1C629.2 804.8 627.3 806.5 627.3 807.3C627.3 808.1 629.0 809.7 629.4 810.4C629.7 811.2 630.0 812.5 629.9 813.1C629.8 813.7 628.5 814.9 628.3 815.2M628.3 815.2C628.8 815.3 631.3 815.9 632.5 816.2C633.7 816.6 636.9 817.0 637.8 817.8C638.6 818.6 638.9 821.8 639.4 822.5C639.8 823.3 640.9 824.0 641.5 823.6C642.0 823.1 642.9 819.8 643.6 818.9C644.2 817.9 646.0 816.0 646.7 815.9C647.4 815.8 648.6 816.9 649.3 817.8C650.1 818.7 651.7 822.0 652.5 823.1C653.3 824.1 655.3 825.5 655.6 826.2C656.0 826.9 654.7 828.3 655.1 828.8C655.5 829.4 657.8 830.2 658.8 830.4C659.8 830.7 662.1 831.1 663.0 830.9C663.9 830.8 665.4 830.2 666.2 829.4C666.9 828.6 668.1 825.2 668.8 824.6C669.4 824.1 670.8 825.3 671.4 825.2C672.1 825.0 673.5 824.2 674.0 823.6C674.6 823.0 675.6 820.7 676.2 820.4C676.7 820.2 678.0 820.8 678.3 821.5C678.6 822.2 678.8 825.2 678.6 826.2C678.4 827.2 676.8 828.4 676.7 829.4C676.5 830.3 676.8 832.6 677.2 833.6C677.6 834.6 679.0 836.6 679.8 837.3C680.6 837.9 682.8 838.8 683.5 838.8C684.2 838.9 685.4 838.4 685.6 837.8C685.8 837.2 685.4 835.1 685.1 834.1C684.8 833.0 683.2 830.3 683.0 829.4C682.8 828.4 683.0 827.1 683.5 826.7C684.0 826.4 686.6 826.1 687.2 826.7C687.8 827.3 688.2 830.2 688.2 831.5C688.3 832.7 687.5 835.6 687.7 836.7C687.9 837.8 689.2 839.8 689.8 840.4C690.4 841.0 691.6 841.8 692.4 841.8C693.3 841.8 695.7 840.6 696.7 840.4C697.6 840.2 698.9 839.7 699.8 839.9C700.7 840.1 703.0 841.5 704.0 842.0C705.1 842.5 707.2 843.8 708.2 844.1C709.3 844.4 711.4 844.8 712.4 844.6C713.5 844.5 715.8 843.3 716.6 842.8C717.4 842.3 717.9 841.1 718.7 840.7C719.5 840.4 722.0 840.0 722.9 839.9C723.9 839.7 725.3 839.2 726.1 839.4C726.9 839.6 728.5 840.7 729.2 841.5C730.0 842.2 731.7 844.0 732.4 845.1C733.1 846.3 733.8 849.3 734.5 850.4C735.2 851.5 736.7 853.5 737.7 854.1C738.6 854.7 741.0 855.2 741.9 855.1C742.7 855.1 744.3 854.3 744.5 853.5C744.7 852.8 743.5 850.1 743.4 849.3C743.4 848.6 743.2 848.0 744.0 847.8C744.7 847.6 747.9 847.9 749.2 847.8C750.5 847.7 754.1 847.5 754.5 847.0C754.9 846.6 753.4 844.8 752.4 844.1C751.3 843.4 747.2 842.1 746.1 841.5C744.9 840.8 743.2 839.6 742.9 838.8C742.6 838.1 743.4 836.0 744.0 835.7C744.6 835.3 746.5 835.7 747.6 836.2C748.8 836.7 752.2 839.4 753.4 839.9C754.6 840.3 756.1 840.3 757.1 839.9C758.2 839.4 761.4 837.1 761.8 836.2C762.3 835.3 761.4 833.6 760.8 833.0C760.1 832.5 757.2 832.4 756.6 832.0C755.9 831.6 755.1 830.2 755.5 829.9C755.9 829.6 758.8 829.2 759.7 829.4C760.7 829.5 762.2 831.2 762.9 830.9C763.5 830.7 764.4 827.7 765.0 827.3C765.6 826.8 767.4 826.6 767.6 827.3C767.9 827.9 766.9 831.3 767.1 832.5C767.3 833.7 768.5 835.9 769.2 836.7C769.9 837.5 771.5 838.7 772.4 838.8C773.2 839.0 775.1 838.4 776.0 837.8C777.0 837.1 778.7 834.3 779.7 833.6C780.7 832.8 782.9 832.1 783.9 832.0C785.0 831.9 787.3 832.8 788.1 833.0C788.9 833.3 790.0 834.0 790.2 834.1M628.3 815.2C627.8 815.6 625.1 817.4 624.1 818.3C623.1 819.2 621.0 821.4 620.4 822.5C619.9 823.6 619.8 826.0 619.9 827.3C620.0 828.5 621.0 831.1 621.5 832.5C622.0 834.0 623.6 837.3 624.1 838.8C624.6 840.4 625.1 843.6 625.2 845.1C625.2 846.7 624.8 849.7 624.6 851.4C624.5 853.2 624.3 857.2 624.1 858.8C623.9 860.4 623.5 863.7 623.1 864.6C622.6 865.4 621.2 865.7 620.4 865.6C619.6 865.6 617.7 864.4 616.7 864.1C615.8 863.7 613.7 863.1 612.5 863.0C611.4 862.9 608.6 863.3 607.3 863.5C606.0 863.8 603.3 864.5 602.0 865.1C600.7 865.7 598.2 867.3 596.8 868.3C595.3 869.2 591.9 871.3 590.5 872.5C589.0 873.7 586.3 876.5 585.2 877.7C584.2 878.9 582.4 881.4 582.1 881.9M305.1 757.4C305.2 758.2 306.1 762.1 306.3 763.6C306.6 765.2 306.3 768.2 307.1 769.9C307.9 771.6 311.1 775.7 312.6 777.4C314.0 779.1 317.1 783.1 318.8 783.6C320.5 784.2 324.6 781.9 326.3 781.6C328.0 781.3 331.3 780.6 332.6 781.1C333.8 781.7 335.2 784.4 336.3 786.1C337.4 787.9 340.1 793.4 341.3 794.9C342.6 796.4 344.8 797.8 346.3 798.1C347.9 798.5 352.7 797.0 353.8 797.4C354.9 797.8 354.6 801.5 355.1 801.6C355.6 801.8 356.8 799.0 357.6 798.6C358.4 798.3 360.7 798.0 361.3 798.6C362.0 799.3 362.3 802.7 363.1 803.6C363.9 804.6 365.3 805.8 367.6 806.1C369.9 806.5 378.5 805.7 381.4 806.1C384.2 806.6 388.2 808.6 390.1 809.9C392.0 811.2 395.0 815.2 396.4 816.7C397.8 818.1 399.8 820.7 401.4 821.2C402.9 821.7 407.6 820.3 408.9 820.7C410.1 821.0 411.1 822.7 411.4 823.7C411.7 824.7 410.7 827.5 411.4 828.7C412.0 829.8 414.8 832.1 416.4 833.2C417.9 834.3 422.6 836.4 423.9 837.4C425.1 838.4 426.1 839.8 426.4 841.2C426.7 842.6 425.9 847.4 426.4 848.7C426.8 849.9 428.8 851.5 430.1 851.2C431.5 850.8 435.3 846.6 437.1 845.7C439.0 844.7 443.4 844.4 445.1 843.7C446.9 842.9 450.4 839.8 451.4 839.9C452.4 840.1 453.0 842.9 453.1 844.9C453.3 846.9 452.5 853.5 452.6 856.2C452.7 858.8 453.3 864.3 453.9 866.2C454.5 868.1 456.1 870.4 457.6 871.2C459.2 872.0 464.7 873.1 466.4 872.4C468.1 871.8 470.4 866.6 471.4 866.2C472.4 865.7 474.0 867.7 474.7 868.7C475.3 869.6 475.6 872.7 476.4 873.7C477.2 874.7 479.8 875.7 481.4 876.7C483.0 877.7 488.0 881.3 488.9 881.9M488.9 882.0C489.4 882.5 491.7 884.7 492.7 885.8C493.6 886.8 495.5 889.2 496.4 890.8C497.4 892.3 500.0 896.7 500.2 898.3C500.3 899.8 497.9 902.0 497.7 903.3C497.4 904.5 497.4 906.7 498.2 908.3C498.9 909.8 502.6 914.1 503.9 915.8C505.3 917.4 507.9 920.3 508.9 921.5C510.0 922.8 512.3 924.5 512.2 925.8C512.0 927.1 508.5 930.6 507.7 932.0C506.8 933.5 505.6 936.0 505.2 937.5C504.7 939.1 504.1 943.7 503.9 944.5M582.7 882.0C582.4 882.5 581.0 884.7 580.2 885.8C579.4 886.8 577.5 889.7 576.5 890.8C575.4 891.8 572.2 893.1 571.5 894.0C570.7 894.9 570.3 897.3 570.2 898.3C570.1 899.3 571.2 901.1 570.7 902.0C570.2 902.9 567.6 904.6 566.4 905.8C565.3 906.9 562.7 910.5 561.4 911.5C560.2 912.5 557.5 913.3 556.4 914.0C555.3 914.7 553.3 915.9 552.7 917.0C552.1 918.2 552.1 921.7 551.4 923.3C550.8 924.8 548.4 928.1 547.7 929.5C547.0 930.9 546.0 933.1 545.7 934.5C545.4 935.9 544.9 939.2 545.2 940.8C545.4 942.3 547.1 945.5 547.7 947.0C548.3 948.6 549.7 951.4 550.2 953.3C550.7 955.2 551.6 960.0 551.4 962.0C551.3 964.1 549.6 967.8 548.9 969.5C548.3 971.3 546.9 973.9 546.4 975.8C546.0 977.7 545.3 983.5 545.2 984.6M815.0 511.0C815.2 511.4 815.3 513.3 816.3 514.0C817.2 514.7 821.6 515.6 822.5 516.5C823.5 517.4 822.8 520.0 823.8 521.0C824.7 522.0 828.5 523.8 830.0 524.8C831.6 525.7 835.6 527.7 836.3 528.5C836.9 529.3 834.6 530.4 835.0 531.0C835.5 531.6 838.7 532.7 840.0 533.5C841.3 534.3 844.7 536.2 845.5 537.3C846.3 538.4 845.2 541.6 846.3 542.3C847.3 542.9 852.6 543.0 853.8 542.3C854.9 541.6 854.8 537.5 855.5 536.8C856.3 536.0 858.8 534.7 859.5 536.0C860.3 537.3 860.6 545.2 861.3 547.3C862.0 549.3 864.6 551.0 865.0 552.3C865.4 553.5 865.0 556.3 864.5 557.3C864.1 558.2 861.3 559.0 861.3 559.8C861.3 560.6 864.4 562.4 864.5 563.5C864.7 564.7 862.2 567.8 862.5 569.0C862.9 570.3 867.1 572.5 867.5 573.5C868.0 574.6 867.1 576.5 866.3 577.3C865.5 578.1 863.0 579.4 861.3 579.8C859.6 580.2 853.4 579.9 852.5 580.5C851.7 581.2 853.9 583.8 854.5 584.8C855.2 585.8 857.4 587.7 857.5 588.5C857.7 589.4 856.2 591.2 855.5 591.5C854.8 591.9 852.5 590.8 852.0 591.5C851.6 592.3 851.4 596.1 852.0 597.3C852.7 598.5 856.0 599.8 857.0 601.0C858.0 602.3 859.0 605.4 860.0 607.3C861.0 609.2 863.2 614.5 865.0 616.1C866.9 617.6 871.9 618.9 875.0 619.8C878.2 620.7 888.2 623.1 890.1 623.6M890.1 623.6C891.3 623.4 897.6 622.3 900.1 622.3C902.6 622.3 907.2 623.8 910.1 623.6C912.9 623.3 919.1 620.9 922.6 620.3C926.0 619.7 934.8 618.9 937.6 619.1C940.4 619.2 943.4 621.4 945.1 621.6C946.8 621.7 950.1 621.4 951.3 620.6C952.6 619.7 953.4 615.6 955.1 614.8C956.8 614.0 962.9 613.5 965.1 614.1C967.3 614.6 970.6 618.7 972.6 619.1C974.6 619.4 979.2 616.7 981.3 616.6C983.5 616.4 988.5 618.8 990.1 618.1C991.7 617.3 992.6 611.9 993.9 610.5C995.1 609.2 999.0 608.3 1000.1 607.3C1001.2 606.3 1001.2 602.8 1002.6 602.3C1004.0 601.8 1009.8 602.1 1011.4 603.0C1012.9 604.0 1014.5 607.9 1015.1 609.8C1015.7 611.7 1015.8 616.7 1016.4 618.6C1016.9 620.4 1018.7 623.6 1019.6 624.8C1020.6 626.0 1023.7 627.0 1023.9 628.1C1024.0 629.2 1021.5 632.3 1020.6 633.6C1019.8 634.8 1017.1 637.0 1017.1 638.1C1017.1 639.2 1019.9 641.0 1020.6 642.3C1021.4 643.6 1023.2 647.3 1023.1 648.6C1023.1 649.8 1019.9 651.6 1020.1 652.3C1020.4 653.0 1022.6 653.8 1025.1 654.1C1027.6 654.4 1036.5 654.8 1040.1 654.8C1043.7 654.8 1052.0 654.8 1053.9 654.1C1055.8 653.4 1053.7 650.1 1055.1 649.3C1056.5 648.6 1062.9 648.9 1065.1 648.1C1067.3 647.3 1071.1 643.5 1072.6 642.8C1074.2 642.2 1077.0 642.8 1077.6 642.8M890.1 623.6C889.7 623.7 888.0 624.0 887.5 624.8C887.1 625.6 886.8 628.7 886.3 629.8C885.8 630.9 884.8 632.9 883.8 633.6C882.8 634.2 879.0 634.2 878.0 634.8C877.1 635.4 875.9 637.6 876.3 638.6C876.7 639.5 880.3 641.4 881.3 642.3C882.3 643.3 884.4 644.8 884.5 646.1C884.7 647.3 883.3 650.8 882.5 652.3C881.8 653.9 879.1 657.2 878.8 658.6C878.5 660.0 880.5 662.6 880.0 663.6C879.6 664.6 875.8 665.6 875.0 666.6C874.3 667.5 873.5 669.9 873.8 671.1C874.1 672.3 877.2 674.8 877.5 676.1C877.9 677.3 875.2 680.2 876.3 681.1C877.4 682.0 884.9 682.1 886.3 683.1C887.7 684.0 888.0 687.7 887.5 688.6C887.1 689.5 883.3 689.3 883.0 690.6C882.8 691.8 884.8 697.1 885.5 698.6C886.3 700.1 888.4 701.1 888.8 702.3C889.2 703.6 888.4 707.5 888.8 708.6C889.2 709.7 891.8 710.0 891.8 711.1C891.8 712.2 888.8 715.8 888.8 717.4C888.8 718.9 891.5 721.9 892.1 723.6C892.6 725.3 893.8 729.5 893.1 730.6C892.3 731.7 887.8 731.8 886.3 732.4C884.8 732.9 882.3 734.2 881.3 734.9C880.3 735.5 879.5 737.5 878.0 737.4C876.6 737.2 871.7 734.5 870.0 733.6C868.4 732.8 866.1 731.1 865.0 730.6C863.9 730.1 862.4 729.2 861.3 729.9C860.2 730.5 857.7 735.3 856.3 736.1C854.9 736.9 851.3 736.2 850.0 736.1C848.8 736.1 847.2 734.7 846.3 735.6C845.3 736.6 843.9 741.4 842.5 743.6C841.1 745.9 836.1 751.9 835.0 753.6C833.9 755.3 833.8 755.8 833.8 757.4C833.8 758.9 835.2 764.6 835.0 766.1C834.8 767.7 832.0 768.2 832.0 769.9C832.0 771.6 834.5 777.4 835.0 779.9C835.6 782.4 835.9 787.7 836.3 789.9C836.6 792.1 838.1 796.0 838.0 797.4C837.9 798.8 835.8 799.4 835.5 801.1C835.2 802.9 835.7 809.0 835.5 811.2C835.3 813.3 834.3 817.1 833.8 818.7C833.2 820.2 831.6 823.0 831.3 823.7M831.3 823.7C830.8 824.3 828.5 828.3 827.5 828.7C826.6 829.0 824.7 826.6 823.8 826.2C822.8 825.7 821.1 824.8 820.0 824.9C818.9 825.0 815.3 825.7 815.0 826.7C814.7 827.6 817.7 831.4 817.5 832.4C817.4 833.4 814.7 834.6 813.8 834.4C812.8 834.3 811.1 831.4 810.0 831.2C808.9 830.9 805.9 831.8 805.0 832.4C804.1 833.0 804.4 835.8 802.5 836.2C800.6 836.5 791.6 835.1 790.0 834.9M831.3 823.7C831.9 823.8 835.2 824.1 836.3 824.9C837.4 825.7 839.2 828.2 840.0 829.9C840.9 831.6 842.4 836.5 843.0 838.7C843.7 840.9 844.7 845.7 845.0 847.4C845.3 849.1 845.5 851.8 845.5 852.4M1090.2 511.0C1090.5 512.1 1092.1 518.0 1092.7 519.8C1093.2 521.5 1093.7 523.5 1094.7 524.8C1095.6 526.0 1098.8 528.4 1100.2 529.8C1101.5 531.2 1104.7 534.0 1105.2 536.0C1105.6 538.0 1103.7 544.0 1103.9 546.0C1104.2 548.0 1106.5 550.6 1107.2 552.3C1107.8 554.0 1108.9 558.4 1108.9 559.8C1108.9 561.1 1108.0 562.5 1107.2 563.0C1106.3 563.6 1102.9 563.4 1102.2 564.0C1101.4 564.7 1101.3 566.8 1101.4 568.0C1101.5 569.2 1103.1 572.1 1103.2 573.5C1103.3 575.0 1101.8 578.4 1102.2 579.8C1102.5 581.2 1104.8 583.3 1105.7 584.8C1106.6 586.3 1109.3 590.1 1109.4 591.5C1109.5 592.9 1107.6 594.7 1106.4 596.0C1105.3 597.4 1102.2 600.7 1100.2 602.3C1098.1 603.9 1092.7 607.6 1090.2 609.0C1087.6 610.5 1082.0 613.0 1080.1 614.1C1078.3 615.1 1075.8 616.1 1075.1 617.3C1074.5 618.5 1075.0 621.7 1074.6 623.6C1074.3 625.4 1072.1 631.1 1072.6 632.3C1073.2 633.6 1078.1 632.8 1078.9 633.6C1079.7 634.3 1079.4 637.6 1078.9 638.6C1078.4 639.6 1074.8 640.9 1075.1 641.6C1075.5 642.3 1080.5 643.3 1081.4 644.1C1082.3 644.8 1082.6 646.1 1082.6 647.3C1082.6 648.5 1081.2 652.0 1081.4 653.6C1081.6 655.1 1082.9 658.4 1083.9 659.8C1084.9 661.2 1088.9 663.7 1089.6 664.8C1090.4 666.0 1090.0 668.1 1089.6 669.1C1089.3 670.0 1087.2 671.3 1087.1 672.3C1087.1 673.4 1088.5 676.0 1088.9 677.3C1089.3 678.7 1090.3 681.8 1090.2 683.1C1090.0 684.3 1088.6 686.3 1087.6 687.3C1086.6 688.3 1082.8 689.8 1082.1 691.1C1081.5 692.3 1081.7 695.8 1082.1 697.3C1082.6 698.8 1084.5 702.3 1085.6 703.1C1086.8 703.9 1090.1 703.1 1091.4 704.1C1092.7 705.1 1095.3 709.6 1096.4 711.1C1097.5 712.6 1099.0 715.2 1100.2 716.1C1101.3 717.0 1104.4 717.5 1105.7 718.1C1106.9 718.7 1109.6 720.3 1110.2 720.6M1102.7 718.6C1102.6 719.1 1101.7 721.4 1102.2 722.4C1102.6 723.3 1106.0 725.0 1106.4 726.1C1106.8 727.3 1105.6 730.5 1105.2 731.6C1104.7 732.7 1103.0 733.7 1102.7 734.9C1102.3 736.0 1102.9 739.4 1102.2 740.6C1101.4 741.9 1097.6 743.9 1096.4 744.9C1095.2 745.9 1093.1 747.5 1092.7 748.6C1092.2 749.7 1092.2 752.7 1092.7 753.6C1093.1 754.6 1095.3 755.8 1096.4 756.1C1097.5 756.4 1100.9 755.5 1101.4 756.1C1101.9 756.7 1100.6 759.9 1100.2 761.1C1099.7 762.4 1097.5 765.0 1097.7 766.1C1097.8 767.2 1100.3 769.1 1101.4 769.9C1102.5 770.7 1105.6 771.5 1106.4 772.4C1107.2 773.2 1107.8 775.5 1107.7 776.6C1107.5 777.7 1105.2 780.2 1105.2 781.1C1105.2 782.1 1106.9 783.5 1107.7 784.1C1108.4 784.8 1110.7 784.9 1111.4 786.1C1112.1 787.3 1112.8 792.1 1113.2 793.6C1113.6 795.2 1113.5 797.9 1114.7 798.6C1115.9 799.4 1121.1 799.3 1122.7 799.9C1124.2 800.5 1127.0 802.2 1127.2 803.1C1127.3 804.1 1124.2 806.2 1123.9 807.4C1123.7 808.6 1124.2 811.3 1125.2 812.4C1126.1 813.5 1130.0 815.3 1131.4 816.2C1132.8 817.0 1135.7 817.9 1136.4 819.2C1137.1 820.4 1136.7 824.5 1137.2 826.2C1137.6 827.8 1139.5 830.8 1140.2 832.4C1140.9 834.0 1142.7 836.9 1142.7 838.7C1142.7 840.4 1141.2 844.4 1140.2 846.2C1139.2 847.9 1134.8 851.4 1134.7 852.4C1134.5 853.4 1138.5 853.1 1138.9 854.2C1139.3 855.3 1138.3 859.7 1137.7 861.2C1137.0 862.7 1134.9 866.6 1133.9 866.2C1133.0 865.8 1131.1 859.3 1130.2 858.2C1129.2 857.1 1127.7 856.7 1126.4 857.4C1125.2 858.1 1121.7 861.8 1120.2 863.7C1118.6 865.6 1115.0 870.1 1113.9 872.4C1112.8 874.7 1111.7 880.7 1111.4 881.9M1110.2 720.6C1110.5 721.3 1112.0 725.3 1112.7 726.1C1113.3 727.0 1113.8 727.3 1115.2 727.4C1116.6 727.4 1122.5 727.4 1123.9 726.6C1125.3 725.8 1125.5 722.7 1126.4 721.1C1127.4 719.5 1130.2 714.9 1131.4 713.6C1132.7 712.4 1134.7 711.6 1136.4 711.1C1138.1 710.6 1143.3 710.2 1145.2 709.8C1147.1 709.5 1150.4 709.4 1151.4 708.6C1152.4 707.8 1152.4 704.7 1153.2 703.6C1154.0 702.5 1156.7 700.0 1157.7 699.8C1158.7 699.7 1161.2 701.4 1161.4 702.3C1161.7 703.3 1158.9 706.5 1159.7 707.3C1160.5 708.2 1165.4 708.6 1167.7 709.1C1169.9 709.6 1175.8 711.1 1177.7 711.6C1179.6 712.1 1181.8 712.4 1182.7 713.1C1183.6 713.8 1184.2 717.6 1184.7 717.4C1185.2 717.1 1186.1 712.8 1186.4 711.1C1186.8 709.4 1187.3 705.3 1187.7 703.6C1188.1 701.9 1189.0 698.3 1189.7 697.3C1190.4 696.4 1192.2 695.7 1193.2 696.1C1194.2 696.5 1196.4 700.2 1197.7 700.6C1199.0 701.0 1202.9 699.5 1204.0 699.1C1205.1 698.7 1205.5 697.4 1206.5 697.3C1207.4 697.3 1210.6 698.9 1211.5 698.6C1212.3 698.3 1212.1 695.2 1213.2 694.8C1214.3 694.5 1218.7 695.2 1220.2 696.1C1221.7 696.9 1223.7 701.3 1225.2 701.6C1226.8 701.9 1231.3 699.3 1232.7 698.6C1234.1 697.9 1235.5 696.3 1236.5 696.1C1237.4 695.8 1239.3 696.8 1240.2 696.6C1241.2 696.4 1243.1 694.3 1244.0 694.3C1244.9 694.3 1246.6 697.3 1247.2 696.6C1247.9 695.9 1248.1 690.4 1249.0 688.6C1249.8 686.8 1252.6 683.9 1254.0 682.3C1255.4 680.8 1258.5 677.6 1260.2 676.1C1262.0 674.6 1266.3 672.0 1267.7 670.6C1269.1 669.2 1270.4 666.2 1271.5 664.8C1272.6 663.5 1276.0 661.2 1276.5 659.8C1277.0 658.5 1276.3 655.2 1275.7 654.1C1275.2 653.0 1272.3 652.4 1272.2 651.1C1272.2 649.8 1274.6 645.2 1275.2 643.6C1275.9 641.9 1277.3 639.6 1277.7 638.1C1278.2 636.5 1278.6 632.7 1279.0 631.1C1279.4 629.4 1280.7 626.2 1280.7 624.8C1280.7 623.4 1279.1 621.2 1279.0 619.8C1278.9 618.4 1280.2 614.8 1280.2 613.6C1280.3 612.3 1279.4 610.7 1279.7 609.8C1280.1 608.9 1281.7 606.6 1282.7 606.0C1283.7 605.5 1286.0 606.3 1287.7 605.5C1289.5 604.8 1294.6 600.7 1296.5 599.8C1298.4 598.9 1301.2 598.8 1302.8 598.5C1304.3 598.3 1307.8 597.4 1309.0 598.0C1310.3 598.7 1312.0 602.2 1312.8 603.5C1313.5 604.9 1314.5 608.7 1315.3 609.0C1316.0 609.4 1317.8 606.5 1319.0 606.0C1320.3 605.6 1324.4 606.4 1325.3 605.5C1326.1 604.7 1325.5 599.8 1325.8 599.0C1326.1 598.3 1327.5 598.9 1327.8 599.8C1328.1 600.7 1327.3 605.1 1328.3 606.0C1329.2 607.0 1333.8 607.0 1335.3 607.3C1336.8 607.6 1338.9 609.5 1340.3 608.5C1341.7 607.6 1345.1 602.0 1346.5 599.8C1347.9 597.6 1350.7 593.1 1351.5 591.0C1352.3 589.0 1352.8 584.9 1352.8 583.5C1352.8 582.1 1350.6 580.5 1351.5 579.8C1352.5 579.1 1359.3 579.1 1360.3 578.0C1361.2 576.9 1359.4 572.7 1359.0 571.0C1358.7 569.4 1356.8 566.5 1357.3 564.8C1357.8 563.1 1361.2 558.4 1362.8 557.3C1364.4 556.1 1368.9 556.3 1370.3 555.5C1371.7 554.7 1373.8 552.4 1374.0 551.0C1374.3 549.7 1372.0 546.3 1372.3 544.8C1372.6 543.3 1375.1 539.8 1376.5 539.0C1378.0 538.2 1382.8 539.5 1384.0 538.5C1385.3 537.5 1385.8 533.2 1386.5 531.0C1387.3 528.8 1390.5 522.6 1390.3 521.0C1390.1 519.4 1386.2 519.3 1385.3 518.5C1384.4 517.7 1383.1 515.7 1383.3 514.8C1383.5 513.8 1386.1 511.5 1386.5 511.0M1384.0 538.5C1384.7 539.3 1387.8 543.2 1389.0 544.8C1390.3 546.3 1392.3 549.9 1394.1 551.0C1395.8 552.1 1401.3 552.6 1402.8 553.5C1404.3 554.5 1406.0 557.7 1405.8 558.5C1405.7 559.3 1401.9 558.8 1401.6 559.8C1401.2 560.7 1402.2 564.6 1402.8 566.0C1403.4 567.4 1405.7 570.2 1406.6 571.0C1407.5 571.8 1409.6 572.1 1410.1 572.3M1138.9 854.2C1140.2 854.2 1146.9 854.6 1148.9 854.2C1151.0 853.7 1153.5 851.6 1155.2 850.7C1156.9 849.7 1161.1 846.8 1162.7 846.7C1164.2 846.6 1166.0 850.0 1167.7 849.9C1169.4 849.8 1174.3 846.8 1176.4 845.7C1178.6 844.6 1183.9 842.4 1185.2 841.2C1186.4 840.0 1185.8 837.2 1186.4 836.2C1187.1 835.2 1188.9 833.2 1190.2 833.2C1191.5 833.2 1194.4 835.9 1196.5 836.2C1198.5 836.4 1205.1 836.0 1206.5 834.9C1207.8 833.8 1207.5 828.8 1207.2 827.4C1206.9 826.0 1203.6 824.8 1204.0 823.7C1204.3 822.5 1209.3 819.9 1210.2 818.2C1211.1 816.4 1210.7 811.7 1211.5 809.9C1212.2 808.1 1214.9 805.0 1216.5 803.6C1218.0 802.3 1221.9 799.6 1224.0 799.1C1226.0 798.7 1231.3 799.6 1232.7 799.9C1234.1 800.2 1233.3 801.6 1235.2 801.6C1237.1 801.7 1244.9 800.6 1247.7 800.6C1250.5 800.7 1255.5 801.8 1257.7 802.4C1259.9 803.0 1263.4 805.3 1265.2 805.6C1267.1 806.0 1270.9 805.5 1272.7 804.9C1274.6 804.3 1278.1 801.6 1280.2 801.1C1282.4 800.7 1288.2 801.0 1290.3 801.6C1292.3 802.3 1294.9 805.9 1296.5 806.1C1298.1 806.4 1301.0 804.3 1302.8 803.6C1304.5 803.0 1308.9 802.4 1310.3 801.1C1311.7 799.9 1312.9 795.4 1314.0 793.6C1315.1 791.9 1318.3 789.1 1319.0 787.4C1319.7 785.7 1319.6 781.8 1319.8 779.9C1319.9 778.0 1319.3 773.4 1320.3 772.4C1321.3 771.3 1326.0 771.6 1327.8 771.6C1329.5 771.6 1332.8 772.9 1334.0 772.4C1335.3 771.8 1336.4 767.9 1337.8 767.4C1339.2 766.8 1343.2 767.5 1345.3 768.1C1347.3 768.8 1352.3 771.1 1354.0 772.4C1355.8 773.7 1358.2 777.4 1359.0 778.6C1359.9 779.9 1359.8 782.5 1360.8 782.4C1361.7 782.2 1364.9 778.5 1366.5 777.4C1368.2 776.3 1372.3 774.4 1374.0 773.6C1375.8 772.8 1379.0 771.2 1380.3 771.1C1381.6 771.1 1383.5 772.9 1384.8 773.1C1386.0 773.4 1389.3 774.3 1390.3 773.1C1391.3 771.9 1391.6 765.6 1392.8 763.6C1394.1 761.7 1398.9 759.1 1400.3 757.4C1401.7 755.7 1402.8 751.3 1404.1 749.9C1405.3 748.5 1409.3 746.6 1410.1 746.1M1646.4 511.0C1646.4 511.2 1645.7 511.5 1646.4 512.3C1647.0 513.0 1650.4 516.0 1651.4 517.3C1652.3 518.5 1653.8 521.0 1653.9 522.3C1654.0 523.5 1652.2 525.8 1652.1 527.3C1652.0 528.7 1652.3 533.2 1653.1 534.0C1654.0 534.9 1657.8 533.4 1658.9 534.0C1659.9 534.6 1660.3 537.2 1661.4 538.5C1662.5 539.9 1666.7 543.4 1667.6 544.8C1668.6 546.2 1669.3 548.8 1668.9 549.8C1668.4 550.7 1664.6 551.3 1663.9 552.3C1663.2 553.2 1663.0 556.0 1663.1 557.3C1663.3 558.5 1664.3 562.0 1665.1 562.3C1666.0 562.6 1668.4 560.0 1670.1 559.8C1671.8 559.6 1676.9 560.4 1678.9 560.5C1680.9 560.7 1685.0 561.3 1686.4 561.0C1687.8 560.8 1689.5 559.2 1690.1 558.5C1690.8 557.8 1690.8 555.7 1691.4 555.5C1692.0 555.4 1693.9 557.5 1695.1 557.3C1696.4 557.1 1699.5 554.3 1701.4 554.0C1703.3 553.7 1708.3 554.5 1710.2 554.8C1712.0 555.0 1715.6 555.9 1716.4 556.0M1716.4 556.0C1717.0 555.4 1720.5 552.1 1721.4 551.0C1722.3 549.9 1723.4 547.3 1723.9 547.3C1724.4 547.3 1724.9 550.5 1725.7 551.0C1726.4 551.6 1729.4 552.1 1730.2 551.5C1730.9 550.9 1730.8 547.1 1731.4 546.0C1732.0 545.0 1734.2 543.2 1735.2 543.0C1736.1 542.9 1737.8 545.3 1738.9 544.8C1740.0 544.3 1742.5 539.5 1743.9 539.0C1745.3 538.5 1748.6 540.7 1750.2 540.5C1751.7 540.3 1755.5 538.3 1756.4 537.3C1757.4 536.2 1756.9 532.8 1757.7 532.3C1758.5 531.7 1761.7 533.5 1762.7 533.0C1763.6 532.5 1764.1 528.9 1765.2 528.5C1766.3 528.1 1770.3 530.4 1771.4 529.8C1772.5 529.1 1772.8 523.6 1773.9 523.0C1775.0 522.4 1778.8 524.1 1780.2 524.8C1781.6 525.4 1784.2 528.0 1785.2 528.0C1786.1 528.0 1786.3 525.3 1787.7 524.8C1789.1 524.3 1794.3 524.0 1796.4 524.0C1798.6 524.0 1803.7 525.3 1805.2 524.8C1806.7 524.3 1807.8 520.6 1808.2 520.0M1716.4 556.0C1716.5 557.7 1717.6 567.4 1717.2 569.8C1716.7 572.1 1713.8 573.5 1712.7 574.8C1711.5 576.0 1708.6 578.1 1708.1 579.8C1707.7 581.5 1708.3 586.7 1708.9 588.5C1709.5 590.4 1711.2 593.4 1712.7 594.8C1714.1 596.2 1718.4 599.0 1720.2 599.8C1721.9 600.6 1725.2 600.5 1726.4 601.0C1727.7 601.6 1728.8 603.3 1730.2 604.0C1731.6 604.8 1735.9 607.0 1737.7 607.3C1739.4 607.6 1742.6 606.1 1743.9 606.5C1745.2 607.0 1747.4 609.2 1748.2 611.1C1748.9 612.9 1749.1 619.0 1749.7 621.1C1750.2 623.1 1751.8 625.7 1752.7 627.3C1753.5 628.9 1755.2 632.5 1756.4 633.6C1757.7 634.7 1761.3 635.4 1762.7 636.1C1764.1 636.8 1766.6 639.1 1767.7 639.1C1768.8 639.1 1770.3 636.3 1771.4 636.1C1772.5 635.8 1775.7 636.5 1776.4 637.3C1777.2 638.1 1776.7 640.6 1777.2 642.3C1777.7 644.0 1779.5 649.0 1780.2 651.1C1780.9 653.1 1783.6 657.3 1782.7 658.6C1781.7 659.8 1773.5 660.3 1772.7 661.1C1771.9 661.9 1775.3 663.8 1776.4 664.8C1777.6 665.8 1781.8 668.1 1781.9 669.1C1782.1 670.0 1779.5 672.0 1777.7 672.3C1775.9 672.6 1769.5 671.1 1767.7 671.6C1765.9 672.0 1763.5 674.7 1763.2 676.1C1762.9 677.4 1764.6 681.4 1765.2 682.3C1765.8 683.3 1768.0 683.0 1768.2 683.6C1768.3 684.2 1766.3 686.8 1766.4 687.3C1766.6 687.9 1769.6 687.2 1769.4 688.1C1769.3 689.0 1766.5 693.1 1765.2 694.8C1763.9 696.6 1760.8 700.9 1758.9 702.3C1757.0 703.8 1752.2 705.6 1750.2 706.1C1748.1 706.6 1744.5 706.3 1742.7 706.1C1740.8 705.9 1736.6 705.4 1735.2 704.8C1733.8 704.3 1732.3 701.7 1731.4 701.6C1730.5 701.5 1728.8 703.2 1727.7 704.1C1726.6 705.0 1723.5 707.4 1722.7 708.6C1721.8 709.8 1720.5 712.2 1720.7 713.6C1720.8 715.0 1723.3 718.0 1723.9 719.9C1724.5 721.7 1725.0 727.1 1725.2 728.1M1725.2 728.1C1724.5 727.9 1721.2 726.3 1720.2 726.1C1719.1 725.9 1717.2 726.0 1716.4 726.6C1715.6 727.2 1714.5 730.4 1713.9 731.1C1713.3 731.8 1711.9 732.7 1711.4 732.4C1710.9 732.0 1710.3 728.9 1709.6 728.1C1709.0 727.3 1707.6 726.3 1706.4 726.1C1705.2 725.9 1701.6 726.0 1700.1 726.6C1698.7 727.2 1697.3 730.1 1695.1 731.1C1693.0 732.1 1685.8 733.8 1682.6 734.9C1679.5 736.0 1673.3 738.6 1670.1 739.9C1667.0 741.1 1659.3 743.8 1657.6 744.9C1655.9 746.0 1657.5 747.2 1656.4 748.6C1655.3 750.0 1650.4 754.4 1648.9 756.1C1647.3 757.8 1644.9 760.3 1643.9 762.4C1642.8 764.4 1640.8 770.3 1640.6 772.4C1640.5 774.4 1641.9 777.2 1642.6 778.6C1643.3 780.0 1646.1 782.4 1646.4 783.6C1646.7 784.9 1645.7 787.2 1645.1 788.6C1644.5 790.0 1641.5 793.6 1641.4 794.9C1641.2 796.1 1644.3 797.7 1643.9 798.6C1643.4 799.6 1638.9 802.4 1637.6 802.4C1636.4 802.4 1634.8 799.4 1633.9 798.6C1632.9 797.9 1631.5 796.8 1630.1 796.1C1628.7 795.5 1624.5 794.3 1622.6 793.6C1620.7 793.0 1617.3 792.2 1615.1 791.1C1612.9 790.0 1607.1 786.1 1605.1 784.9C1603.1 783.6 1600.3 782.2 1598.8 781.1C1597.4 780.0 1595.6 777.1 1593.8 776.1C1592.1 775.2 1586.5 774.2 1585.1 773.6C1583.7 773.1 1583.8 771.6 1582.6 771.6C1581.3 771.7 1576.4 773.7 1575.1 774.1C1573.8 774.5 1572.6 774.1 1572.1 774.9C1571.6 775.7 1571.7 780.5 1571.3 780.6C1570.9 780.8 1569.9 777.3 1568.8 776.1C1567.7 775.0 1563.7 771.8 1562.6 771.6C1561.4 771.5 1560.8 774.9 1559.6 774.9C1558.3 774.8 1554.2 772.1 1552.6 771.1C1550.9 770.2 1548.1 767.9 1546.3 767.4C1544.5 766.8 1539.6 766.9 1538.1 766.6C1536.5 766.3 1535.1 766.0 1533.8 764.9C1532.5 763.7 1527.7 759.0 1527.6 757.4C1527.5 755.7 1533.1 752.9 1533.1 751.6C1533.1 750.4 1529.8 748.2 1527.6 747.4C1525.3 746.5 1517.2 746.3 1515.1 744.9C1512.9 743.5 1511.6 738.1 1510.1 736.1C1508.5 734.1 1504.9 730.3 1502.5 728.6C1500.2 726.9 1494.1 723.8 1491.3 722.4C1488.5 720.9 1482.9 718.7 1480.0 717.4C1477.1 716.0 1469.5 712.5 1468.0 711.9M1598.8 781.1C1598.5 782.1 1597.3 786.8 1596.3 788.6C1595.4 790.5 1592.4 794.6 1591.3 796.1C1590.3 797.6 1588.9 801.0 1588.1 800.6C1587.3 800.3 1585.8 794.2 1585.1 793.6C1584.4 793.1 1583.2 796.5 1582.6 796.1C1582.0 795.8 1580.9 791.3 1580.1 791.1C1579.3 791.0 1577.3 794.7 1576.3 794.9C1575.4 795.0 1573.7 792.4 1572.6 792.4C1571.5 792.4 1569.1 794.6 1567.6 794.9C1566.0 795.2 1561.3 794.3 1560.1 794.9C1558.8 795.5 1557.6 798.6 1557.6 799.9C1557.6 801.1 1558.5 803.9 1560.1 804.9C1561.6 805.9 1567.6 807.4 1570.1 808.1C1572.6 808.9 1578.2 810.3 1580.1 811.2C1582.0 812.0 1584.1 814.2 1585.1 814.9C1586.1 815.6 1588.4 816.0 1588.1 816.7C1587.8 817.3 1584.1 818.7 1582.6 819.9C1581.1 821.1 1578.5 824.8 1576.3 826.2C1574.1 827.6 1567.1 830.1 1565.1 831.2C1563.0 832.3 1562.0 834.0 1560.1 834.9C1558.2 835.8 1552.1 837.2 1550.1 838.2C1548.0 839.1 1544.3 840.8 1543.8 842.4C1543.3 844.0 1545.7 849.0 1546.3 851.2C1546.9 853.4 1548.4 857.4 1548.8 859.9C1549.3 862.4 1549.8 868.8 1550.1 871.2C1550.4 873.5 1550.7 877.3 1551.3 878.7C1551.9 880.0 1554.6 881.5 1555.1 881.9M1725.2 728.1C1726.1 728.2 1730.6 728.8 1732.7 729.1C1734.7 729.4 1739.5 729.9 1741.4 730.6C1743.3 731.3 1746.1 733.5 1747.7 734.9C1749.2 736.2 1752.4 739.6 1753.9 741.1C1755.5 742.7 1758.5 745.8 1760.2 747.4C1761.9 748.9 1765.6 752.2 1767.7 753.6C1769.7 755.0 1774.9 757.6 1776.4 758.6C1778.0 759.7 1778.5 761.4 1780.2 761.9C1781.9 762.3 1787.7 761.9 1790.2 762.4C1792.7 762.8 1797.7 765.2 1800.2 765.6C1802.7 766.1 1807.9 765.7 1810.2 766.1C1812.5 766.6 1816.9 769.2 1819.0 769.1C1821.0 769.1 1824.4 766.5 1826.5 765.6C1828.5 764.7 1833.6 762.1 1835.2 761.9C1836.8 761.6 1838.0 762.6 1839.0 763.6C1839.9 764.6 1841.8 768.5 1842.7 769.9C1843.7 771.3 1846.3 773.6 1846.5 774.9C1846.6 776.1 1844.8 778.9 1844.0 779.9C1843.1 780.8 1839.6 781.9 1839.7 782.4C1839.9 782.9 1843.7 783.4 1845.2 784.1C1846.8 784.9 1850.8 787.0 1852.2 788.1C1853.6 789.3 1855.2 792.3 1856.5 793.6C1857.8 795.0 1861.9 797.6 1862.7 798.6C1863.6 799.6 1863.6 800.7 1863.2 801.6C1862.9 802.6 1859.2 804.6 1859.7 806.1C1860.3 807.6 1865.6 811.8 1867.7 813.7C1869.8 815.5 1875.3 819.6 1876.5 821.2C1877.7 822.7 1877.4 825.1 1877.2 826.2C1877.1 827.3 1874.9 828.8 1875.2 829.9C1875.5 831.0 1879.6 833.7 1879.7 834.9C1879.9 836.2 1876.2 839.2 1876.5 839.9C1876.8 840.6 1881.0 841.0 1882.2 840.7C1883.5 840.4 1885.8 838.1 1886.5 837.4C1887.2 836.7 1886.8 836.3 1887.7 834.9C1888.7 833.5 1892.4 828.0 1894.0 826.2C1895.6 824.3 1898.7 820.3 1900.2 819.9C1901.8 819.5 1904.9 822.1 1906.5 823.2C1908.1 824.2 1911.0 827.8 1912.8 828.2C1914.5 828.5 1918.4 826.7 1920.3 826.2C1922.1 825.6 1926.4 824.0 1927.3 823.7M1927.3 823.7C1927.3 822.6 1927.9 816.9 1927.8 814.9C1927.7 812.9 1926.9 809.4 1926.5 807.4C1926.1 805.4 1924.8 800.1 1924.8 798.6C1924.8 797.2 1925.5 796.0 1926.5 795.6C1927.5 795.3 1931.2 796.0 1932.8 796.1C1934.3 796.3 1937.3 797.0 1939.0 796.6C1940.7 796.3 1944.5 793.2 1946.5 793.1C1948.6 793.1 1953.1 795.2 1955.3 796.1C1957.5 797.1 1962.8 800.4 1964.0 800.6C1965.2 800.9 1965.1 798.7 1964.8 798.1C1964.5 797.6 1961.6 797.0 1961.5 796.1C1961.4 795.3 1963.1 791.8 1964.0 791.1C1965.0 790.5 1968.1 791.2 1969.0 790.6C1970.0 790.1 1970.4 787.1 1971.5 786.9C1972.6 786.6 1976.4 788.8 1977.8 788.6C1979.2 788.5 1982.3 786.6 1982.8 785.6C1983.3 784.7 1981.2 782.2 1981.5 781.1C1981.8 780.1 1984.2 778.3 1985.3 777.4C1986.4 776.4 1988.7 774.6 1990.3 773.6C1991.9 772.7 1997.0 771.3 1997.8 769.9C1998.6 768.5 1996.5 764.1 1996.5 762.4C1996.5 760.7 1997.0 757.1 1997.8 756.1C1998.6 755.2 2001.7 755.8 2002.8 754.9C2003.9 753.9 2005.0 750.0 2006.5 748.6C2008.1 747.2 2013.3 744.9 2015.3 743.6C2017.3 742.4 2021.0 739.7 2022.8 738.6C2024.7 737.5 2028.8 735.9 2030.1 734.9C2031.4 733.8 2033.1 731.5 2033.1 730.5C2033.2 729.5 2031.3 727.3 2030.5 726.9C2029.6 726.4 2027.6 727.0 2026.6 726.9C2025.6 726.8 2022.9 726.5 2022.2 726.2C2021.5 725.8 2020.8 724.6 2020.8 724.0C2020.8 723.3 2021.9 721.8 2022.2 721.1C2022.6 720.3 2022.9 718.6 2023.7 718.1C2024.5 717.7 2026.9 717.5 2028.5 717.4C2030.1 717.3 2034.5 717.2 2036.3 717.4C2038.1 717.7 2041.3 718.8 2043.1 719.4C2044.9 719.9 2049.0 721.3 2050.8 721.5C2052.7 721.8 2056.5 721.3 2057.6 721.1C2058.7 720.8 2059.3 720.1 2059.6 719.6C2059.9 719.1 2059.6 717.4 2059.8 716.9C2060.1 716.5 2061.3 716.3 2061.5 716.2M1927.3 823.7C1927.5 824.2 1927.9 827.5 1929.0 828.2C1930.2 828.8 1935.7 828.0 1936.5 828.7C1937.3 829.3 1935.9 832.9 1935.3 833.7C1934.6 834.4 1932.0 834.0 1931.5 834.9C1931.0 835.8 1930.9 839.9 1931.5 840.7C1932.1 841.4 1935.7 842.0 1936.5 841.2C1937.4 840.3 1937.6 834.8 1938.3 833.7C1938.9 832.5 1940.3 832.1 1941.5 831.9C1942.7 831.8 1946.8 831.4 1947.8 832.4C1948.7 833.4 1949.3 838.5 1949.0 839.9C1948.7 841.3 1945.9 842.3 1945.3 843.7C1944.6 845.1 1944.5 849.9 1944.0 851.2C1943.5 852.4 1941.8 852.4 1941.5 853.7C1941.2 854.9 1941.8 859.9 1941.5 861.2C1941.2 862.4 1939.2 861.8 1939.0 863.7C1938.9 865.6 1939.5 874.2 1940.3 876.2C1941.0 878.2 1944.0 879.2 1945.3 879.9C1946.5 880.7 1949.6 881.7 1950.3 881.9M1410.0 572.3C1410.5 572.4 1412.7 572.3 1413.8 573.5C1414.8 574.8 1417.5 580.7 1418.8 582.3C1420.0 583.8 1423.3 583.8 1423.8 586.0C1424.2 588.2 1423.3 597.8 1422.5 599.8C1421.7 601.8 1417.7 601.0 1417.5 602.3C1417.3 603.5 1420.0 608.1 1421.3 609.8C1422.5 611.5 1426.1 615.0 1427.5 616.1C1428.9 617.1 1430.9 617.8 1432.5 618.6C1434.1 619.3 1438.8 620.5 1440.0 622.3C1441.2 624.1 1440.8 631.3 1442.0 633.1C1443.3 634.8 1448.2 635.2 1450.0 636.1C1451.8 636.9 1455.3 638.4 1456.3 639.8C1457.3 641.2 1457.2 645.6 1458.0 647.3C1458.9 649.0 1462.3 652.0 1463.0 653.6C1463.7 655.1 1464.3 658.3 1463.8 659.8C1463.2 661.4 1460.0 664.4 1458.8 666.1C1457.5 667.8 1453.6 671.4 1453.8 673.6C1453.9 675.8 1458.6 681.2 1460.0 683.6C1461.4 685.9 1464.0 690.2 1465.0 692.3C1466.0 694.5 1467.7 698.7 1468.0 701.1C1468.4 703.5 1468.3 709.7 1468.0 711.9C1467.7 714.0 1466.2 717.0 1465.5 718.6C1464.8 720.2 1462.3 723.3 1462.5 724.9C1462.7 726.4 1466.2 729.1 1467.0 731.1C1467.8 733.1 1468.2 738.8 1468.8 741.1C1469.3 743.5 1470.4 748.1 1471.3 749.9C1472.1 751.6 1475.7 753.5 1475.5 754.9C1475.4 756.3 1471.3 760.0 1470.0 761.1C1468.8 762.3 1466.8 764.1 1465.5 764.1C1464.3 764.2 1461.3 762.0 1460.0 761.6C1458.7 761.3 1456.3 760.4 1455.0 761.1C1453.7 761.8 1450.9 766.8 1449.5 767.4C1448.1 768.0 1445.1 765.7 1443.8 766.1C1442.4 766.6 1439.9 771.4 1438.8 771.1C1437.7 770.8 1436.3 765.5 1435.0 763.6C1433.8 761.8 1429.7 758.0 1428.8 756.1C1427.8 754.2 1428.4 749.3 1427.5 748.6C1426.6 747.9 1422.7 751.1 1421.3 750.6C1419.8 750.2 1417.3 745.9 1416.3 744.9C1415.2 743.8 1413.3 742.5 1412.5 742.4C1411.7 742.3 1410.3 743.9 1410.0 744.1M2078.8 597.3C2079.1 597.4 2080.5 597.6 2081.3 598.5C2082.1 599.5 2084.2 603.5 2085.0 604.8C2085.9 606.0 2088.8 607.8 2088.0 608.5C2087.2 609.3 2080.1 610.3 2078.8 611.1C2077.5 611.8 2076.9 613.9 2077.5 614.8C2078.1 615.7 2083.3 617.6 2083.8 618.6C2084.2 619.5 2082.5 621.4 2081.3 622.3C2080.0 623.2 2075.0 625.0 2073.8 626.1C2072.5 627.1 2070.8 629.8 2071.3 630.6C2071.7 631.3 2076.7 631.0 2077.5 632.3C2078.4 633.6 2078.3 639.0 2078.0 641.1C2077.7 643.1 2075.9 646.8 2075.0 648.6C2074.2 650.3 2071.4 653.4 2071.3 654.8C2071.1 656.2 2073.6 658.4 2073.8 659.8C2073.9 661.2 2073.3 664.4 2072.5 666.1C2071.7 667.8 2068.3 671.9 2067.5 673.6C2066.7 675.3 2067.0 678.6 2066.3 679.8C2065.6 681.0 2062.3 681.7 2062.0 683.1C2061.7 684.5 2063.4 688.7 2063.8 691.1C2064.1 693.5 2064.2 700.5 2065.0 702.3C2065.8 704.2 2069.7 705.0 2070.0 706.1C2070.3 707.2 2068.8 709.7 2067.5 711.1C2066.3 712.5 2060.8 716.7 2060.0 717.4C2059.3 718.0 2061.3 716.3 2061.5 716.2M2060.0 717.4C2061.0 718.0 2066.3 721.4 2067.5 722.4C2068.8 723.3 2070.5 724.3 2070.0 724.9C2069.6 725.4 2064.4 725.8 2063.8 726.6C2063.1 727.4 2063.6 730.1 2065.0 731.1C2066.4 732.1 2073.3 734.9 2075.0 734.9C2076.7 734.9 2077.3 731.5 2078.8 731.1C2080.3 730.7 2086.1 730.5 2087.0 731.6C2088.0 732.7 2086.8 738.1 2086.3 739.9C2085.8 741.7 2083.0 744.4 2083.0 746.1C2083.0 747.8 2085.7 751.9 2086.3 753.6C2086.9 755.3 2088.7 758.9 2088.0 759.9C2087.4 760.8 2082.4 760.4 2081.3 761.1C2080.1 761.8 2078.5 764.7 2078.8 765.6C2079.1 766.6 2081.7 768.1 2083.8 768.6C2085.8 769.2 2092.7 769.6 2095.0 769.9C2097.4 770.2 2101.3 770.0 2102.5 771.1C2103.8 772.2 2104.5 776.8 2105.0 778.6C2105.6 780.4 2106.3 784.5 2107.0 785.6C2107.8 786.7 2110.6 786.1 2111.3 787.4C2112.0 788.7 2112.6 794.3 2112.5 796.1C2112.4 798.0 2110.4 801.0 2110.5 802.4C2110.7 803.8 2113.7 806.3 2113.8 807.4C2113.9 808.5 2112.1 810.2 2111.3 811.2C2110.5 812.1 2107.9 813.0 2107.5 814.9C2107.1 816.8 2107.7 823.5 2108.0 826.2C2108.4 828.8 2109.5 834.3 2110.0 836.2C2110.6 838.0 2111.9 840.2 2112.5 841.2C2113.2 842.1 2114.9 841.9 2115.0 843.7C2115.2 845.4 2113.3 853.1 2113.8 854.9C2114.3 856.7 2117.4 858.0 2118.8 858.2C2120.1 858.4 2123.5 856.0 2124.5 856.7C2125.6 857.4 2126.5 862.0 2127.5 863.7C2128.5 865.3 2131.6 868.7 2132.6 869.9C2133.5 871.2 2135.4 872.9 2135.1 873.7C2134.7 874.5 2131.1 875.7 2130.1 876.2C2129.0 876.7 2126.6 876.7 2126.3 877.4C2126.0 878.2 2127.4 881.4 2127.5 881.9M2127.5 882.0C2127.7 882.5 2127.5 885.3 2128.8 885.8C2130.1 886.2 2135.5 885.8 2137.6 885.8C2139.6 885.7 2144.3 884.1 2145.6 885.0C2146.8 885.9 2147.0 891.4 2147.6 893.3C2148.1 895.1 2149.9 898.3 2150.1 899.5C2150.2 900.8 2147.9 902.3 2148.8 903.3C2149.7 904.2 2155.2 906.1 2157.6 907.0C2159.9 908.0 2165.5 909.8 2167.6 910.8C2169.6 911.7 2172.9 913.4 2173.8 914.5C2174.7 915.6 2174.8 918.3 2174.6 919.5C2174.4 920.8 2171.9 923.3 2172.1 924.5C2172.3 925.7 2174.7 928.3 2176.3 929.0C2177.9 929.7 2183.0 929.7 2185.1 930.0C2187.1 930.3 2190.8 931.1 2192.6 931.5C2194.4 931.9 2198.8 932.1 2199.6 933.3C2200.4 934.4 2198.5 939.1 2198.8 940.8C2199.1 942.5 2201.9 944.7 2202.1 947.0C2202.2 949.4 2200.3 958.0 2200.1 959.5M1006.4 933.3C1007.5 932.8 1013.1 930.6 1015.1 929.5C1017.1 928.4 1020.9 925.8 1022.6 924.5C1024.3 923.3 1028.2 921.1 1028.9 919.5C1029.5 918.0 1027.3 913.3 1027.6 912.0C1027.9 910.7 1030.3 909.4 1031.4 909.0C1032.5 908.6 1035.0 908.3 1036.4 909.0C1037.8 909.7 1040.8 913.2 1042.6 914.5C1044.5 915.8 1049.0 918.9 1051.4 919.5C1053.7 920.1 1059.0 919.9 1061.4 919.5C1063.7 919.1 1068.4 917.2 1070.1 916.5C1071.9 915.8 1073.6 913.8 1075.1 914.0C1076.7 914.2 1080.5 917.6 1082.6 918.3C1084.8 918.9 1090.2 919.0 1092.7 919.0C1095.2 919.0 1101.2 919.3 1102.7 918.3C1104.2 917.2 1104.9 912.3 1104.7 910.8C1104.4 909.2 1100.7 906.9 1100.7 905.8C1100.6 904.7 1102.4 902.8 1103.9 902.0C1105.4 901.2 1111.3 900.8 1112.7 899.5C1114.1 898.3 1115.3 893.7 1115.2 892.0C1115.0 890.3 1111.6 887.0 1111.4 885.8C1111.3 884.5 1113.6 882.5 1113.9 882.0M1112.7 899.5C1113.6 899.3 1118.6 897.2 1120.2 897.5C1121.7 897.8 1123.9 902.2 1125.2 902.0C1126.4 901.8 1128.9 896.4 1130.2 895.8C1131.4 895.1 1134.1 897.2 1135.2 897.0C1136.3 896.9 1138.1 894.5 1138.9 894.5C1139.7 894.5 1140.6 895.6 1141.4 897.0C1142.2 898.4 1143.8 904.4 1145.2 905.8C1146.6 907.2 1150.2 907.8 1152.7 908.3C1155.2 908.7 1162.2 909.2 1165.2 909.5C1168.2 909.8 1174.6 911.2 1176.4 910.8C1178.3 910.3 1177.9 906.4 1180.2 905.8C1182.5 905.1 1191.5 905.4 1195.2 905.8C1199.0 906.2 1207.6 909.2 1210.2 909.0C1212.9 908.9 1214.6 905.4 1216.5 904.5C1218.3 903.6 1223.0 902.2 1225.2 902.0C1227.4 901.9 1232.7 902.6 1234.0 903.3C1235.2 903.9 1234.4 907.2 1235.2 907.0C1236.0 906.9 1239.1 902.0 1240.2 902.0C1241.3 902.0 1242.7 906.7 1244.0 907.0C1245.2 907.3 1248.7 905.6 1250.2 904.5C1251.8 903.4 1254.6 899.4 1256.5 898.3C1258.4 897.1 1262.6 895.2 1265.2 895.0C1267.9 894.8 1275.7 895.3 1277.7 896.5C1279.8 897.7 1280.6 902.6 1281.5 904.5C1282.4 906.4 1283.5 910.8 1285.2 912.0C1287.0 913.3 1293.1 914.5 1295.3 914.5C1297.4 914.6 1301.0 912.5 1302.8 912.5C1304.5 912.5 1307.3 914.4 1309.0 914.5C1310.7 914.6 1315.1 913.2 1316.2 913.2C1317.4 913.3 1318.0 914.3 1318.1 915.1C1318.3 916.0 1317.8 919.1 1317.5 920.1C1317.2 921.2 1315.6 922.7 1315.6 923.3C1315.6 923.9 1317.0 925.0 1317.5 925.2C1318.0 925.3 1319.1 925.2 1319.4 924.5C1319.7 923.8 1319.6 920.1 1320.0 919.5C1320.4 919.0 1321.7 920.1 1322.5 920.1C1323.3 920.1 1325.7 920.1 1326.3 919.5C1326.8 918.9 1326.5 915.9 1326.9 915.1C1327.3 914.3 1328.6 913.2 1329.4 913.2C1330.2 913.3 1332.1 915.3 1333.2 915.8C1334.2 916.2 1336.1 916.7 1337.8 917.0C1339.4 917.3 1345.2 917.3 1346.5 918.3C1347.8 919.2 1348.4 923.2 1348.3 924.5C1348.2 925.9 1346.8 928.2 1345.8 929.0C1344.8 929.8 1340.5 929.6 1340.3 930.8C1340.1 931.9 1342.9 936.6 1344.0 938.3C1345.1 940.0 1347.8 943.6 1349.0 944.5C1350.3 945.5 1352.9 944.5 1354.0 945.8C1355.1 947.0 1357.5 952.3 1357.8 954.5C1358.1 956.7 1356.4 961.4 1356.5 963.3C1356.7 965.2 1357.3 968.7 1359.0 969.5C1360.8 970.4 1368.4 970.2 1370.3 970.0C1372.2 969.9 1372.8 968.2 1374.0 968.3C1375.3 968.4 1378.7 969.7 1380.3 970.8C1381.9 971.9 1385.0 976.0 1386.5 977.0C1388.1 978.1 1391.4 979.5 1392.8 979.0C1394.2 978.6 1396.7 974.8 1397.8 973.3C1398.9 971.8 1400.0 967.9 1401.6 967.0C1403.1 966.2 1409.0 966.6 1410.1 966.5M1176.4 910.8C1176.4 911.5 1177.5 915.9 1176.4 917.0C1175.3 918.1 1169.2 918.7 1167.7 919.5C1166.2 920.3 1164.8 922.2 1164.7 923.3C1164.5 924.4 1166.4 926.9 1166.4 928.3C1166.5 929.7 1164.6 933.1 1165.2 934.5C1165.8 935.9 1170.2 938.1 1171.4 939.5C1172.7 940.9 1174.5 943.6 1175.2 945.8C1175.9 948.0 1176.6 954.5 1177.2 957.0C1177.8 959.5 1179.0 964.1 1180.2 965.8C1181.4 967.5 1185.8 969.2 1186.4 970.8C1187.1 972.4 1184.9 976.6 1185.2 978.3C1185.5 980.0 1188.6 983.0 1188.9 984.6C1189.3 986.1 1187.4 989.2 1187.7 990.8C1188.0 992.4 1190.2 995.8 1191.5 997.1C1192.7 998.3 1196.1 1000.4 1197.7 1000.8C1199.3 1001.2 1202.2 1000.4 1204.0 1000.1C1205.7 999.7 1209.4 998.1 1211.5 998.3C1213.5 998.5 1219.0 1000.5 1220.2 1001.6C1221.5 1002.6 1220.8 1006.7 1221.5 1006.6C1222.1 1006.5 1223.8 1001.7 1225.2 1000.8C1226.6 999.9 1231.7 998.3 1232.7 999.1C1233.7 999.8 1232.4 1005.6 1233.2 1007.1C1234.0 1008.5 1237.8 1009.6 1239.0 1010.8C1240.1 1012.1 1241.9 1015.3 1242.2 1017.1C1242.5 1018.8 1242.0 1022.4 1241.5 1024.6C1241.0 1026.8 1238.4 1032.1 1238.2 1034.6C1238.1 1037.1 1239.5 1042.1 1240.2 1044.6C1240.9 1047.1 1243.0 1052.6 1244.0 1054.6C1244.9 1056.6 1246.0 1059.7 1247.7 1060.8C1249.4 1061.9 1256.0 1062.6 1257.7 1063.3C1259.5 1064.1 1260.1 1066.5 1261.5 1066.6C1262.9 1066.7 1267.1 1064.6 1269.0 1064.1C1270.9 1063.6 1275.4 1062.1 1276.5 1062.6C1277.6 1063.1 1278.2 1067.0 1277.7 1068.3C1277.3 1069.7 1273.6 1072.1 1272.7 1073.3C1271.9 1074.6 1270.4 1077.3 1270.7 1078.3C1271.1 1079.4 1273.8 1081.6 1275.2 1082.1C1276.7 1082.6 1280.8 1081.3 1282.2 1082.1C1283.7 1082.9 1285.1 1086.9 1286.5 1088.4C1287.9 1089.8 1292.5 1091.8 1293.3 1093.4C1294.0 1094.9 1293.3 1098.8 1292.8 1100.9C1292.2 1102.9 1290.1 1107.9 1289.0 1109.6C1287.9 1111.3 1285.9 1113.8 1284.0 1114.6C1282.1 1115.4 1275.9 1115.8 1274.0 1115.9C1272.1 1115.9 1270.6 1114.6 1269.0 1115.1C1267.4 1115.6 1262.3 1118.1 1261.5 1119.6C1260.7 1121.1 1261.6 1125.4 1262.7 1127.1C1263.8 1128.8 1268.7 1131.5 1270.2 1133.4C1271.8 1135.3 1274.4 1139.2 1275.2 1142.1C1276.1 1145.1 1276.8 1152.9 1277.2 1157.1C1277.7 1161.4 1278.8 1173.6 1279.0 1175.9M1553.8 882.0C1553.7 883.3 1554.0 890.3 1553.1 892.0C1552.1 893.7 1548.1 894.3 1546.3 895.8C1544.5 897.2 1540.5 902.5 1538.8 903.3C1537.1 904.0 1534.3 901.2 1532.6 902.0C1530.8 902.8 1526.3 907.8 1525.1 909.5C1523.8 911.2 1523.0 916.2 1522.6 915.8C1522.1 915.3 1521.8 906.9 1521.3 905.8C1520.8 904.7 1519.1 905.6 1518.8 907.0C1518.5 908.4 1519.6 915.5 1518.8 917.0C1518.0 918.6 1514.3 918.9 1512.6 919.5C1510.8 920.1 1506.8 920.9 1505.0 922.0C1503.3 923.1 1499.9 926.9 1498.8 928.3C1497.7 929.7 1496.8 931.6 1496.3 933.3C1495.8 935.0 1494.9 940.2 1495.0 942.0C1495.1 943.8 1496.3 946.1 1497.0 947.5C1497.8 948.9 1501.0 951.5 1501.3 953.3C1501.6 955.1 1499.9 959.9 1499.5 962.0C1499.2 964.2 1498.4 968.8 1498.8 970.8C1499.2 972.8 1502.1 976.9 1502.5 978.3C1503.0 979.7 1503.6 981.3 1502.0 982.1C1500.5 982.8 1491.4 983.5 1490.0 984.6C1488.7 985.6 1490.8 989.4 1491.3 990.8C1491.8 992.2 1493.9 994.1 1493.8 995.8C1493.7 997.5 1490.4 1003.2 1490.5 1004.6C1490.7 1006.0 1493.5 1006.4 1495.0 1007.1C1496.5 1007.7 1501.6 1009.3 1502.5 1009.6M1496.3 933.3C1495.8 933.1 1493.3 932.8 1492.5 932.0C1491.8 931.2 1491.0 927.5 1490.0 927.0C1489.1 926.6 1486.4 928.0 1485.0 928.3C1483.6 928.5 1479.7 928.6 1478.8 929.0C1477.8 929.5 1478.2 931.0 1477.5 932.0C1476.9 933.1 1474.7 936.5 1473.8 937.5C1472.8 938.5 1471.0 939.9 1470.0 940.0C1469.1 940.1 1467.8 938.3 1466.3 938.3C1464.7 938.2 1459.0 938.7 1457.5 939.5C1456.1 940.3 1454.5 943.3 1454.5 944.5C1454.5 945.7 1457.6 948.3 1457.5 949.0C1457.4 949.8 1454.4 949.9 1453.8 950.8C1453.1 951.6 1452.4 954.4 1452.5 955.8C1452.7 957.2 1455.2 961.1 1455.0 962.0C1454.9 963.0 1451.7 962.4 1451.3 963.3C1450.8 964.2 1453.0 968.4 1451.3 969.5C1449.6 970.6 1440.2 971.6 1437.5 972.0C1434.9 972.5 1431.9 973.5 1430.0 973.3C1428.1 973.1 1424.2 971.3 1422.5 970.8C1420.8 970.3 1417.8 970.1 1416.3 969.5C1414.7 969.0 1410.8 966.9 1410.0 966.5M1502.5 1009.6C1504.1 1010.2 1512.2 1013.6 1515.1 1014.6C1517.9 1015.5 1523.5 1016.3 1525.1 1017.1C1526.6 1017.8 1526.8 1019.9 1527.6 1020.8C1528.3 1021.7 1530.4 1024.2 1531.3 1024.1C1532.2 1023.9 1532.9 1020.4 1535.1 1019.6C1537.3 1018.7 1546.9 1018.0 1548.8 1017.1C1550.7 1016.1 1548.8 1012.9 1550.1 1012.1C1551.3 1011.2 1557.4 1009.9 1558.8 1010.1C1560.2 1010.2 1561.2 1012.3 1561.3 1013.3C1561.5 1014.3 1559.6 1017.4 1560.1 1018.3C1560.5 1019.3 1564.2 1020.0 1565.1 1020.8C1566.0 1021.7 1565.2 1024.7 1567.1 1025.1C1569.0 1025.5 1576.6 1024.7 1580.1 1024.1C1583.6 1023.4 1591.3 1020.0 1595.1 1020.1C1598.8 1020.1 1606.3 1023.7 1610.1 1024.6C1613.9 1025.4 1622.2 1026.8 1625.1 1027.1C1628.0 1027.3 1630.9 1027.1 1633.4 1026.6C1635.9 1026.0 1641.8 1023.5 1645.1 1022.6C1648.5 1021.6 1657.0 1020.1 1660.1 1019.1C1663.3 1018.1 1667.8 1015.6 1670.1 1014.6C1672.5 1013.5 1676.7 1011.1 1678.9 1010.8C1681.1 1010.6 1685.0 1011.8 1687.6 1012.6C1690.3 1013.3 1696.9 1016.3 1700.1 1017.1C1703.4 1017.9 1711.7 1019.4 1713.9 1019.1C1716.2 1018.8 1717.7 1015.8 1718.2 1014.6C1718.6 1013.4 1718.1 1010.5 1717.7 1009.6C1717.2 1008.6 1714.7 1008.6 1714.7 1007.1C1714.7 1005.5 1717.0 1000.2 1717.7 997.1C1718.3 993.9 1719.9 984.4 1720.2 982.1C1720.4 979.7 1720.4 978.9 1719.7 978.3C1718.9 977.7 1714.7 978.0 1713.9 977.0C1713.1 976.1 1712.9 972.5 1713.2 970.8C1713.4 969.1 1716.0 964.6 1715.7 963.3C1715.3 961.9 1711.5 961.0 1710.2 960.0C1708.8 959.1 1705.3 957.0 1704.6 955.8C1704.0 954.5 1704.3 951.1 1705.1 950.0C1706.0 949.0 1710.0 948.2 1711.4 947.5C1712.8 946.9 1715.9 945.9 1716.4 945.0C1716.9 944.2 1716.6 941.6 1715.7 940.8C1714.7 939.9 1710.1 939.2 1708.9 938.3C1707.7 937.3 1706.9 934.4 1706.4 933.3C1705.9 932.2 1705.0 930.6 1705.1 929.5C1705.3 928.4 1707.2 925.8 1707.6 924.5C1708.1 923.3 1708.9 920.8 1708.9 919.5C1708.9 918.2 1707.3 914.8 1707.6 914.0C1708.0 913.2 1710.8 912.4 1711.4 913.3C1712.0 914.1 1711.6 919.8 1712.7 920.8C1713.7 921.7 1718.5 921.2 1720.2 920.8C1721.8 920.3 1724.3 918.0 1725.7 917.0C1727.1 916.1 1729.9 914.0 1731.4 913.3C1732.9 912.6 1735.9 911.5 1737.7 911.5C1739.4 911.5 1743.0 913.3 1745.2 913.3C1747.4 913.3 1752.7 911.2 1755.2 911.5C1757.7 911.8 1762.4 914.9 1765.2 915.8C1768.0 916.6 1774.9 917.6 1777.7 918.3C1780.5 918.9 1785.5 921.1 1787.7 920.8C1789.9 920.5 1793.3 916.8 1795.2 915.8C1797.1 914.7 1801.1 912.9 1802.7 912.5C1804.3 912.1 1806.4 912.0 1807.7 912.5C1808.9 913.1 1811.1 916.1 1812.7 917.0C1814.3 917.9 1819.0 918.8 1820.2 919.5C1821.5 920.2 1821.1 922.6 1822.7 922.5C1824.3 922.5 1830.7 919.6 1832.7 919.0C1834.7 918.5 1838.0 917.3 1839.0 918.3C1840.0 919.3 1840.1 925.5 1840.7 927.0C1841.3 928.6 1842.9 930.8 1844.0 930.8C1845.0 930.8 1848.7 926.9 1849.0 927.0C1849.3 927.2 1846.3 930.6 1846.5 932.0C1846.6 933.4 1849.6 936.9 1850.2 938.3C1850.8 939.7 1850.5 942.3 1851.5 943.3C1852.4 944.2 1857.1 944.5 1857.7 945.8C1858.3 947.0 1857.1 951.7 1856.5 953.3C1855.8 954.8 1853.5 957.8 1852.7 958.3C1851.9 958.8 1850.1 956.6 1850.2 957.0C1850.4 957.5 1852.4 961.3 1854.0 962.0C1855.5 962.8 1861.2 963.8 1862.7 963.3C1864.3 962.8 1865.7 958.1 1866.5 958.3C1867.3 958.4 1867.6 963.4 1869.0 964.5C1870.4 965.7 1876.0 967.3 1877.7 967.5C1879.5 967.8 1881.6 967.1 1882.7 966.5C1883.8 966.0 1885.6 963.5 1886.5 963.3C1887.4 963.1 1888.5 964.9 1890.2 965.0C1892.0 965.1 1897.7 964.4 1900.2 964.0C1902.7 963.7 1909.0 962.7 1910.3 962.5M1910.3 962.5C1909.8 961.7 1907.0 957.1 1906.5 955.8C1906.0 954.5 1905.7 952.8 1906.5 952.0C1907.3 951.3 1911.3 950.6 1912.8 950.0C1914.2 949.5 1917.4 948.5 1917.8 947.5C1918.1 946.5 1916.1 943.0 1915.3 942.0C1914.4 941.1 1911.4 941.3 1910.8 940.0C1910.1 938.8 1910.2 934.3 1910.3 932.0C1910.3 929.8 1910.6 923.6 1911.5 922.0C1912.4 920.5 1915.7 919.5 1917.8 919.5C1919.8 919.5 1925.6 921.1 1927.8 922.0C1929.9 923.0 1933.5 926.1 1935.3 927.0C1937.0 927.9 1940.0 929.5 1941.5 929.0C1943.1 928.6 1946.8 924.8 1947.8 923.3C1948.7 921.8 1949.2 919.0 1949.0 917.0C1948.9 915.0 1946.7 908.9 1946.5 907.0C1946.4 905.1 1947.0 903.0 1947.8 902.0C1948.6 901.0 1952.2 900.6 1952.8 899.0C1953.3 897.4 1952.5 891.6 1952.3 889.5C1952.0 887.4 1951.0 882.9 1950.8 882.0M1910.3 962.5C1910.4 963.6 1910.4 969.6 1911.5 970.8C1912.6 972.0 1917.6 970.8 1919.0 972.0C1920.4 973.3 1921.7 978.6 1922.8 980.8C1923.9 983.0 1926.5 988.0 1927.8 989.6C1929.0 991.1 1932.7 992.4 1932.8 993.3C1932.8 994.2 1928.4 996.3 1928.3 997.1C1928.1 997.8 1931.0 998.7 1931.5 999.6C1932.0 1000.4 1931.5 1003.4 1932.3 1004.1C1933.0 1004.7 1936.0 1003.6 1937.8 1004.6C1939.5 1005.6 1944.6 1011.4 1946.5 1012.1C1948.4 1012.7 1951.1 1009.1 1952.8 1009.6C1954.5 1010.0 1957.8 1013.6 1960.3 1015.8C1962.8 1018.0 1970.7 1025.3 1972.8 1027.1C1974.9 1028.9 1975.5 1029.7 1977.3 1030.1C1979.1 1030.4 1986.3 1028.9 1987.3 1030.1C1988.3 1031.3 1985.9 1037.2 1985.3 1039.6C1984.7 1042.0 1983.9 1048.4 1982.8 1049.1C1981.7 1049.8 1977.9 1045.0 1976.5 1045.1C1975.1 1045.1 1972.8 1047.8 1971.5 1049.6C1970.3 1051.4 1968.2 1058.2 1966.5 1059.6C1964.8 1061.0 1959.6 1061.0 1957.8 1060.8C1955.9 1060.7 1952.0 1057.6 1951.5 1058.3C1951.1 1059.1 1954.0 1065.1 1954.0 1067.1C1954.0 1069.1 1952.8 1073.3 1951.5 1074.6C1950.3 1075.8 1944.2 1076.2 1944.0 1077.1C1943.9 1078.0 1948.4 1080.8 1950.3 1082.1C1952.1 1083.4 1957.3 1085.2 1959.0 1087.1C1960.7 1089.0 1963.1 1095.2 1964.0 1097.1C1965.0 1099.0 1965.6 1101.5 1966.5 1102.1C1967.5 1102.7 1970.4 1101.5 1971.5 1102.1C1972.7 1102.7 1975.9 1106.0 1975.8 1107.1C1975.6 1108.2 1970.4 1109.8 1970.3 1110.9C1970.2 1112.0 1974.5 1114.8 1974.8 1115.9C1975.1 1116.9 1973.8 1118.5 1972.8 1119.1C1971.7 1119.7 1967.9 1120.0 1966.5 1120.9C1965.1 1121.7 1961.7 1124.5 1961.5 1125.9C1961.4 1127.3 1964.8 1131.3 1965.3 1132.1M1502.5 1009.6C1503.0 1010.8 1505.7 1016.3 1506.3 1019.1C1506.9 1021.9 1507.5 1029.7 1507.5 1032.1C1507.5 1034.5 1507.7 1037.3 1506.3 1038.3C1504.9 1039.3 1497.6 1040.4 1496.3 1040.1C1494.9 1039.8 1495.1 1036.9 1495.5 1035.8C1495.9 1034.8 1498.7 1030.8 1499.5 1031.6C1500.4 1032.4 1501.7 1040.0 1502.5 1042.1C1503.4 1044.2 1505.8 1046.5 1506.3 1048.3C1506.8 1050.2 1506.5 1055.1 1506.3 1057.1C1506.1 1059.1 1504.3 1063.0 1504.5 1064.6C1504.8 1066.2 1507.8 1068.8 1508.0 1070.1C1508.3 1071.3 1507.5 1073.7 1506.3 1074.6C1505.1 1075.5 1500.2 1076.3 1498.8 1077.1C1497.4 1077.9 1496.3 1080.5 1495.0 1080.8C1493.8 1081.2 1490.0 1078.8 1488.8 1079.6C1487.5 1080.4 1486.0 1085.4 1485.0 1087.1C1484.1 1088.8 1481.4 1092.0 1481.3 1093.4C1481.1 1094.7 1482.5 1096.7 1483.8 1097.6C1485.0 1098.5 1489.4 1099.7 1491.3 1100.9C1493.2 1102.0 1498.2 1105.4 1498.8 1107.1C1499.4 1108.8 1497.4 1113.8 1496.3 1114.6C1495.2 1115.4 1491.3 1112.9 1490.0 1113.4C1488.8 1113.8 1485.8 1117.6 1486.3 1118.4C1486.8 1119.1 1493.0 1118.5 1493.8 1119.1C1494.6 1119.7 1493.6 1122.5 1492.5 1123.4C1491.4 1124.2 1487.1 1125.1 1485.0 1125.9C1483.0 1126.7 1478.2 1128.8 1476.3 1129.6C1474.4 1130.4 1470.2 1131.7 1470.0 1132.1C1469.9 1132.6 1473.2 1133.1 1475.0 1133.4C1476.9 1133.7 1484.3 1134.1 1485.0 1134.6C1485.8 1135.2 1483.0 1136.8 1481.3 1137.6C1479.6 1138.5 1473.9 1141.1 1471.3 1141.6C1468.6 1142.2 1462.2 1142.5 1460.0 1142.1C1457.8 1141.7 1455.3 1139.3 1453.8 1138.4C1452.2 1137.5 1449.4 1135.8 1447.5 1135.1C1445.6 1134.5 1440.0 1133.0 1438.8 1133.4C1437.5 1133.8 1438.5 1137.4 1437.5 1138.4C1436.6 1139.3 1432.8 1141.0 1431.3 1140.9C1429.7 1140.8 1426.6 1137.8 1425.0 1137.6C1423.4 1137.5 1419.8 1138.6 1418.8 1139.6C1417.7 1140.7 1417.3 1145.1 1416.3 1145.9C1415.2 1146.7 1410.8 1145.9 1410.0 1145.9M1633.4 1026.6C1633.7 1027.9 1635.4 1033.6 1636.4 1037.1C1637.4 1040.6 1640.4 1051.3 1641.4 1054.6C1642.3 1057.9 1642.8 1062.6 1643.9 1063.3C1645.0 1064.1 1648.7 1061.0 1650.1 1060.8C1651.5 1060.7 1654.2 1062.7 1655.1 1062.1C1656.1 1061.5 1655.9 1056.7 1657.6 1055.8C1659.3 1055.0 1667.9 1054.8 1668.9 1055.1C1669.8 1055.4 1665.2 1057.0 1665.1 1058.3C1665.0 1059.7 1667.8 1063.2 1668.1 1065.8C1668.4 1068.5 1667.4 1076.6 1667.6 1079.6C1667.9 1082.6 1669.3 1087.6 1670.1 1089.6C1670.9 1091.6 1673.2 1093.4 1673.9 1095.9C1674.6 1098.4 1674.9 1107.0 1675.6 1109.6C1676.4 1112.3 1678.8 1115.7 1680.1 1117.1C1681.5 1118.5 1684.7 1119.9 1686.4 1120.9C1688.1 1121.8 1692.6 1123.2 1693.9 1124.6C1695.1 1126.0 1695.4 1130.7 1696.4 1132.1C1697.4 1133.5 1701.5 1134.8 1702.1 1135.9C1702.8 1137.0 1702.1 1139.9 1701.4 1140.9C1700.7 1141.8 1697.2 1142.1 1696.4 1143.4C1695.6 1144.6 1695.9 1149.0 1695.1 1150.9C1694.4 1152.8 1691.6 1157.1 1690.1 1158.4C1688.6 1159.6 1684.1 1160.0 1683.1 1160.9C1682.2 1161.8 1682.1 1165.0 1682.6 1165.9C1683.2 1166.8 1686.1 1167.8 1687.6 1168.4C1689.2 1169.0 1694.0 1169.6 1695.1 1170.9C1696.2 1172.1 1696.5 1176.7 1696.4 1178.4C1696.2 1180.1 1693.7 1183.2 1693.9 1184.7C1694.0 1186.1 1695.8 1188.7 1697.6 1189.7C1699.5 1190.6 1707.3 1191.0 1708.9 1192.2C1710.5 1193.3 1709.1 1198.2 1710.2 1199.2C1711.2 1200.1 1715.8 1199.0 1717.7 1199.7C1719.5 1200.3 1723.6 1204.0 1725.2 1204.7C1726.7 1205.3 1729.2 1203.4 1730.2 1204.7C1731.1 1205.9 1732.1 1212.2 1732.7 1214.7C1733.2 1217.2 1734.5 1222.2 1734.7 1224.7C1734.8 1227.2 1734.0 1233.4 1733.9 1234.7M1558.8 1489.4C1559.0 1490.0 1558.7 1493.1 1560.1 1494.4C1561.5 1495.6 1568.5 1498.0 1570.1 1499.4C1571.7 1500.8 1573.1 1504.4 1573.1 1505.6C1573.1 1506.9 1571.2 1508.4 1570.1 1509.4C1568.9 1510.3 1564.4 1511.4 1563.8 1513.1C1563.3 1514.8 1564.2 1521.7 1565.6 1523.1C1567.0 1524.5 1573.3 1523.4 1575.1 1524.4C1576.9 1525.3 1579.8 1528.9 1580.1 1530.6C1580.3 1532.4 1576.8 1536.6 1577.1 1538.1C1577.4 1539.7 1582.0 1541.9 1582.6 1543.1C1583.2 1544.4 1581.6 1547.7 1582.1 1548.1C1582.6 1548.6 1585.4 1546.0 1586.3 1546.9C1587.3 1547.8 1588.9 1553.5 1589.6 1555.7C1590.3 1557.8 1593.0 1563.2 1592.1 1564.4C1591.2 1565.7 1583.9 1564.9 1582.6 1565.7C1581.2 1566.4 1581.5 1569.6 1581.3 1570.2M1566.4 1266.0C1567.0 1265.6 1570.2 1264.1 1570.8 1262.9C1571.4 1261.7 1571.6 1258.2 1571.4 1256.6C1571.3 1255.0 1569.6 1251.4 1569.6 1250.3C1569.6 1249.3 1570.7 1248.3 1571.4 1248.5C1572.2 1248.6 1574.6 1251.1 1575.8 1251.6C1577.0 1252.1 1579.4 1252.3 1580.8 1252.2C1582.2 1252.2 1585.5 1251.1 1587.1 1251.3C1588.7 1251.6 1591.8 1253.2 1593.4 1254.1C1595.0 1255.0 1597.9 1257.2 1600.0 1258.5C1602.1 1259.8 1607.6 1262.9 1610.1 1264.3C1612.6 1265.6 1617.6 1268.5 1620.1 1269.3C1622.6 1270.0 1627.9 1270.4 1630.1 1270.5C1632.3 1270.6 1635.7 1269.5 1637.6 1270.0C1639.5 1270.5 1643.4 1273.3 1645.1 1274.3C1646.8 1275.3 1650.1 1276.8 1651.4 1278.0C1652.6 1279.3 1654.3 1282.7 1655.1 1284.3C1655.9 1285.8 1656.4 1289.0 1657.6 1290.5C1658.9 1292.0 1663.6 1295.9 1665.1 1296.0C1666.7 1296.2 1667.6 1292.4 1670.1 1291.8C1672.6 1291.1 1682.0 1290.4 1685.1 1291.0C1688.3 1291.6 1693.3 1295.0 1695.1 1296.8C1697.0 1298.6 1699.4 1302.9 1700.1 1305.5C1700.9 1308.2 1700.6 1315.5 1701.4 1318.0C1702.2 1320.5 1704.7 1324.0 1706.4 1325.5C1708.1 1327.1 1713.1 1329.0 1715.2 1330.5C1717.2 1332.0 1721.3 1336.8 1722.7 1337.5C1724.0 1338.3 1725.3 1336.9 1725.7 1336.8M1370.2 1159.5C1371.0 1159.5 1375.2 1159.8 1376.5 1159.5C1377.8 1159.1 1379.5 1157.4 1380.3 1157.0C1381.0 1156.5 1381.9 1155.7 1382.8 1155.7C1383.6 1155.7 1385.9 1157.3 1387.2 1157.3C1388.4 1157.3 1391.6 1156.3 1392.8 1155.7C1394.0 1155.1 1395.8 1153.7 1396.6 1152.6C1397.3 1151.5 1398.3 1147.9 1399.1 1146.9C1399.8 1145.9 1401.4 1144.5 1402.8 1144.4C1404.2 1144.3 1408.8 1146.0 1410.3 1146.3C1411.9 1146.6 1414.4 1147.5 1415.4 1146.9C1416.3 1146.4 1417.1 1142.9 1417.9 1141.9C1418.7 1140.9 1420.5 1139.5 1421.6 1139.0C1422.8 1138.6 1426.3 1137.9 1427.3 1138.1C1428.3 1138.4 1428.9 1140.3 1429.8 1140.7C1430.6 1141.0 1433.2 1141.5 1434.2 1141.3C1435.1 1141.0 1436.8 1139.7 1437.3 1138.8C1437.8 1137.8 1437.6 1134.5 1437.9 1133.8C1438.2 1133.1 1439.0 1132.9 1439.8 1133.1C1440.6 1133.3 1443.0 1135.0 1444.2 1135.3C1445.4 1135.6 1448.0 1135.2 1449.2 1135.6C1450.5 1136.1 1453.2 1137.9 1454.2 1138.8C1455.2 1139.6 1456.1 1141.9 1457.4 1142.3C1458.6 1142.6 1462.6 1141.6 1464.3 1141.5C1465.9 1141.5 1468.8 1142.3 1470.5 1141.9C1472.2 1141.6 1476.2 1139.6 1478.0 1138.8C1479.8 1138.0 1484.3 1136.1 1484.9 1135.6C1485.6 1135.1 1484.2 1134.9 1483.1 1134.8C1481.9 1134.6 1477.0 1134.6 1475.5 1134.4C1474.0 1134.2 1471.9 1133.5 1471.1 1133.1C1470.4 1132.8 1469.5 1131.8 1469.9 1131.5C1470.3 1131.2 1472.9 1130.8 1474.3 1130.6C1475.6 1130.4 1479.8 1130.1 1480.5 1130.0M1353.3 1202.1L1356.4 1195.8M1390.2 520.2C1390.9 520.3 1394.4 520.9 1395.8 520.9C1397.1 520.9 1399.5 520.9 1400.8 520.2C1402.0 519.5 1404.5 516.3 1405.8 515.2C1407.0 514.1 1409.4 512.2 1410.8 511.5C1412.2 510.7 1415.8 509.0 1417.1 508.9C1418.3 508.9 1420.0 510.4 1420.8 510.8C1421.7 511.2 1423.0 512.3 1424.0 512.1C1424.9 511.8 1427.4 509.0 1428.4 508.7C1429.3 508.4 1431.0 508.8 1431.5 509.6C1432.0 510.4 1431.8 514.4 1432.4 515.2C1432.9 516.1 1434.9 516.3 1435.9 516.5C1436.8 516.7 1438.6 516.6 1440.0 516.7C1441.5 516.8 1445.2 517.1 1447.5 517.3C1449.9 517.4 1456.3 518.4 1458.8 518.0C1461.3 517.6 1465.1 514.9 1467.5 514.0C1469.9 513.1 1476.7 511.4 1478.0 511.0" fill="none" stroke="#000" stroke-width="2.3" stroke-linejoin="round" stroke-linecap="round"/>
<path d="M1373.6 1134.5C1373.7 1133.6 1374.5 1129.1 1374.6 1127.6C1374.6 1126.1 1374.5 1123.5 1374.0 1122.8C1373.5 1122.0 1371.1 1121.4 1370.3 1121.6C1369.5 1121.8 1368.0 1123.8 1367.3 1124.0C1366.5 1124.2 1364.8 1123.9 1364.3 1123.4C1363.8 1122.9 1363.6 1120.6 1363.7 1119.7C1363.8 1118.8 1364.3 1116.9 1364.9 1116.1C1365.5 1115.3 1367.6 1114.0 1368.5 1113.1C1369.4 1112.2 1372.2 1109.4 1372.2 1108.8C1372.2 1108.2 1369.6 1108.2 1368.5 1108.2C1367.4 1108.2 1364.4 1109.1 1363.1 1109.1C1361.8 1109.1 1359.0 1108.6 1358.2 1108.2C1357.4 1107.8 1357.0 1106.5 1357.0 1105.8C1357.0 1105.0 1357.8 1103.1 1358.2 1102.2C1358.7 1101.3 1360.1 1099.4 1360.6 1098.5C1361.1 1097.6 1362.2 1095.8 1361.9 1094.9C1361.6 1094.0 1359.2 1092.0 1358.2 1091.2C1357.2 1090.4 1354.5 1089.9 1354.0 1088.8C1353.5 1087.7 1354.3 1084.1 1354.3 1082.7C1354.3 1081.3 1354.6 1078.8 1354.0 1077.9C1353.4 1077.0 1350.8 1076.0 1349.7 1075.5C1348.6 1075.0 1345.8 1074.4 1344.9 1073.7C1344.0 1073.0 1342.6 1070.8 1342.4 1070.0C1342.2 1069.2 1343.1 1068.2 1343.4 1067.6C1343.7 1067.0 1344.4 1065.2 1344.6 1064.9" fill="none" stroke="#000" stroke-width="3.2" stroke-linejoin="round" stroke-linecap="round"/>
<path d="M1373.6 1134.5C1373.7 1133.6 1374.5 1129.1 1374.6 1127.6C1374.6 1126.1 1374.5 1123.5 1374.0 1122.8C1373.5 1122.0 1371.1 1121.4 1370.3 1121.6C1369.5 1121.8 1368.0 1123.8 1367.3 1124.0C1366.5 1124.2 1364.8 1123.9 1364.3 1123.4C1363.8 1122.9 1363.6 1120.6 1363.7 1119.7C1363.8 1118.8 1364.3 1116.9 1364.9 1116.1C1365.5 1115.3 1367.6 1114.0 1368.5 1113.1C1369.4 1112.2 1372.2 1109.4 1372.2 1108.8C1372.2 1108.2 1369.6 1108.2 1368.5 1108.2C1367.4 1108.2 1364.4 1109.1 1363.1 1109.1C1361.8 1109.1 1359.0 1108.6 1358.2 1108.2C1357.4 1107.8 1357.0 1106.5 1357.0 1105.8C1357.0 1105.0 1357.8 1103.1 1358.2 1102.2C1358.7 1101.3 1360.1 1099.4 1360.6 1098.5C1361.1 1097.6 1362.2 1095.8 1361.9 1094.9C1361.6 1094.0 1359.2 1092.0 1358.2 1091.2C1357.2 1090.4 1354.5 1089.9 1354.0 1088.8C1353.5 1087.7 1354.3 1083.5 1354.3 1082.7" fill="none" stroke="#000" stroke-width="4.2" stroke-linejoin="round" stroke-linecap="round"/>
<path d="M1373.6 1134.5C1373.7 1133.6 1374.5 1129.1 1374.6 1127.6C1374.6 1126.1 1374.5 1123.5 1374.0 1122.8C1373.5 1122.0 1371.1 1121.4 1370.3 1121.6C1369.5 1121.8 1368.0 1123.8 1367.3 1124.0C1366.5 1124.2 1364.8 1123.9 1364.3 1123.4C1363.8 1122.9 1363.6 1120.6 1363.7 1119.7C1363.8 1118.8 1364.3 1116.9 1364.9 1116.1C1365.5 1115.3 1367.6 1114.0 1368.5 1113.1C1369.4 1112.2 1372.2 1109.4 1372.2 1108.8C1372.2 1108.2 1369.6 1108.2 1368.5 1108.2C1367.4 1108.2 1364.4 1109.1 1363.1 1109.1C1361.8 1109.1 1359.0 1108.6 1358.2 1108.2C1357.4 1107.8 1357.0 1106.5 1357.0 1105.8C1357.0 1105.0 1357.8 1103.1 1358.2 1102.2C1358.7 1101.3 1360.1 1099.4 1360.6 1098.5C1361.1 1097.6 1362.2 1095.8 1361.9 1094.9C1361.6 1094.0 1358.7 1091.7 1358.2 1091.2" fill="none" stroke="#000" stroke-width="5.2" stroke-linejoin="round" stroke-linecap="round"/>
<path d="M1373.6 1134.5C1373.7 1133.6 1374.5 1129.1 1374.6 1127.6C1374.6 1126.1 1374.5 1123.5 1374.0 1122.8C1373.5 1122.0 1371.1 1121.4 1370.3 1121.6C1369.5 1121.8 1368.0 1123.8 1367.3 1124.0C1366.5 1124.2 1364.8 1123.9 1364.3 1123.4C1363.8 1122.9 1363.6 1120.6 1363.7 1119.7C1363.8 1118.8 1364.3 1116.9 1364.9 1116.1C1365.5 1115.3 1367.6 1114.0 1368.5 1113.1C1369.4 1112.2 1372.2 1109.4 1372.2 1108.8C1372.2 1108.2 1369.6 1108.2 1368.5 1108.2C1367.4 1108.2 1364.4 1109.1 1363.1 1109.1C1361.8 1109.1 1359.0 1108.6 1358.2 1108.2C1357.4 1107.8 1357.0 1106.5 1357.0 1105.8C1357.0 1105.0 1357.8 1103.1 1358.2 1102.2C1358.7 1101.3 1360.1 1099.4 1360.6 1098.5C1361.1 1097.6 1362.2 1095.8 1361.9 1094.9C1361.6 1094.0 1359.2 1092.0 1358.2 1091.2C1357.2 1090.4 1354.5 1089.1 1354.0 1088.8" fill="none" stroke="#fff" stroke-width="0.7" stroke-linejoin="round" stroke-linecap="butt"/>
<path d="M1373.6 1134.5C1373.7 1133.6 1374.5 1129.1 1374.6 1127.6C1374.6 1126.1 1374.5 1123.5 1374.0 1122.8C1373.5 1122.0 1371.1 1121.4 1370.3 1121.6C1369.5 1121.8 1368.0 1123.8 1367.3 1124.0C1366.5 1124.2 1364.8 1123.9 1364.3 1123.4C1363.8 1122.9 1363.6 1120.6 1363.7 1119.7C1363.8 1118.8 1364.3 1116.9 1364.9 1116.1C1365.5 1115.3 1367.6 1114.0 1368.5 1113.1C1369.4 1112.2 1372.2 1109.4 1372.2 1108.8C1372.2 1108.2 1369.6 1108.2 1368.5 1108.2C1367.4 1108.2 1364.4 1109.1 1363.1 1109.1C1361.8 1109.1 1359.0 1108.6 1358.2 1108.2C1357.4 1107.8 1357.0 1106.5 1357.0 1105.8C1357.0 1105.0 1357.8 1103.1 1358.2 1102.2C1358.7 1101.3 1360.1 1099.4 1360.6 1098.5C1361.1 1097.6 1362.2 1095.8 1361.9 1094.9C1361.6 1094.0 1358.7 1091.7 1358.2 1091.2" fill="none" stroke="#fff" stroke-width="1.3" stroke-linejoin="round" stroke-linecap="butt"/>
<path d="M1373.6 1134.5C1373.7 1133.6 1374.5 1129.1 1374.6 1127.6C1374.6 1126.1 1374.5 1123.5 1374.0 1122.8C1373.5 1122.0 1371.1 1121.4 1370.3 1121.6C1369.5 1121.8 1368.0 1123.8 1367.3 1124.0C1366.5 1124.2 1364.8 1123.9 1364.3 1123.4C1363.8 1122.9 1363.6 1120.6 1363.7 1119.7C1363.8 1118.8 1364.3 1116.9 1364.9 1116.1C1365.5 1115.3 1367.6 1114.0 1368.5 1113.1C1369.4 1112.2 1372.2 1109.4 1372.2 1108.8C1372.2 1108.2 1369.6 1108.2 1368.5 1108.2C1367.4 1108.2 1364.4 1109.1 1363.1 1109.1C1361.8 1109.1 1359.0 1108.6 1358.2 1108.2C1357.4 1107.8 1357.2 1106.1 1357.0 1105.8" fill="none" stroke="#fff" stroke-width="2.0" stroke-linejoin="round" stroke-linecap="butt"/>
<path d="M1767.7 1225.2C1766.9 1226.7 1763.0 1234.4 1761.4 1237.2C1759.9 1239.9 1756.4 1245.2 1755.2 1247.2C1753.9 1249.2 1751.9 1252.2 1751.4 1252.9" fill="none" stroke="#000" stroke-width="2.4" stroke-linecap="round"/>
<path d="M1108.8 1359.6C1109.8 1359.2 1114.7 1357.0 1116.7 1356.0C1118.7 1354.9 1122.5 1352.6 1124.6 1351.1C1126.7 1349.7 1131.6 1346.0 1133.7 1344.3C1135.8 1342.6 1139.7 1339.4 1141.6 1337.6C1143.5 1335.8 1147.0 1332.1 1148.8 1330.0C1150.7 1327.9 1155.2 1321.8 1156.1 1320.6" fill="none" stroke="#000" stroke-width="3.2" stroke-linecap="round"/></g>
<g stroke="#b0b0b0" stroke-width="3.33" fill="none"><line x1="261.5" y1="93.5" x2="261.5" y2="1644.5"/><line x1="554.5" y1="93.5" x2="554.5" y2="1644.5"/><line x1="847.5" y1="93.5" x2="847.5" y2="1644.5"/><line x1="1140.5" y1="93.5" x2="1140.5" y2="1644.5"/><line x1="1433.5" y1="93.5" x2="1433.5" y2="1644.5"/><line x1="1727.5" y1="93.5" x2="1727.5" y2="1644.5"/><line x1="2020.5" y1="93.5" x2="2020.5" y2="1644.5"/><line x1="2313.5" y1="93.5" x2="2313.5" y2="1644.5"/><line x1="112.5" y1="1641.5" x2="2437.5" y2="1641.5"/><line x1="112.5" y1="1465.5" x2="2437.5" y2="1465.5"/><line x1="112.5" y1="1288.5" x2="2437.5" y2="1288.5"/><line x1="112.5" y1="1111.5" x2="2437.5" y2="1111.5"/><line x1="112.5" y1="935.5" x2="2437.5" y2="935.5"/><line x1="112.5" y1="758.5" x2="2437.5" y2="758.5"/><line x1="112.5" y1="582.5" x2="2437.5" y2="582.5"/><line x1="112.5" y1="405.5" x2="2437.5" y2="405.5"/><line x1="112.5" y1="228.5" x2="2437.5" y2="228.5"/></g>
<g stroke="#000" stroke-width="3.33" fill="none"><line x1="261.5" y1="1644.5" x2="261.5" y2="1659.5"/><line x1="554.5" y1="1644.5" x2="554.5" y2="1659.5"/><line x1="847.5" y1="1644.5" x2="847.5" y2="1659.5"/><line x1="1140.5" y1="1644.5" x2="1140.5" y2="1659.5"/><line x1="1433.5" y1="1644.5" x2="1433.5" y2="1659.5"/><line x1="1727.5" y1="1644.5" x2="1727.5" y2="1659.5"/><line x1="2020.5" y1="1644.5" x2="2020.5" y2="1659.5"/><line x1="2313.5" y1="1644.5" x2="2313.5" y2="1659.5"/><line x1="97.2" y1="1641.5" x2="112.5" y2="1641.5"/><line x1="97.2" y1="1465.5" x2="112.5" y2="1465.5"/><line x1="97.2" y1="1288.5" x2="112.5" y2="1288.5"/><line x1="97.2" y1="1111.5" x2="112.5" y2="1111.5"/><line x1="97.2" y1="935.5" x2="112.5" y2="935.5"/><line x1="97.2" y1="758.5" x2="112.5" y2="758.5"/><line x1="97.2" y1="582.5" x2="112.5" y2="582.5"/><line x1="97.2" y1="405.5" x2="112.5" y2="405.5"/><line x1="97.2" y1="228.5" x2="112.5" y2="228.5"/></g>
<rect x="112.5" y="93.5" width="2325.0" height="1551.0" fill="none" stroke="#000" stroke-width="3.33"/>
<g font-size="41.67"><text x="259.9" y="1703.8" text-anchor="middle">22.5</text><text x="552.9" y="1703.8" text-anchor="middle">25.0</text><text x="845.9" y="1703.8" text-anchor="middle">27.5</text><text x="1138.9" y="1703.8" text-anchor="middle">30.0</text><text x="1431.9" y="1703.8" text-anchor="middle">32.5</text><text x="1725.9" y="1703.8" text-anchor="middle">35.0</text><text x="2018.9" y="1703.8" text-anchor="middle">37.5</text><text x="2311.9" y="1703.8" text-anchor="middle">40.0</text><text x="82.0" y="1657.3" text-anchor="end">44</text><text x="82.0" y="1481.3" text-anchor="end">45</text><text x="82.0" y="1304.3" text-anchor="end">46</text><text x="82.0" y="1127.3" text-anchor="end">47</text><text x="82.0" y="951.3" text-anchor="end">48</text><text x="82.0" y="774.3" text-anchor="end">49</text><text x="82.0" y="598.3" text-anchor="end">50</text><text x="82.0" y="421.3" text-anchor="end">51</text><text x="82.0" y="244.3" text-anchor="end">52</text></g>
<text x="1275" y="67.8" font-size="50" text-anchor="middle">Energy Release Component Percentile Class by Oblast (2025-12-21 Forecast)</text>
<rect x="2530.2" y="114" width="350.6" height="315.8" rx="8.3" ry="8.3" fill="#fff" stroke="#d6d6d6" stroke-width="4.17"/>
<g font-size="41.67"><circle cx="2588.3" cy="147.3" r="20.6" fill="#4287bd"/><text x="2662.6" y="161.6">Low</text><circle cx="2588.3" cy="208.3" r="20.6" fill="#b3dbea"/><text x="2662.6" y="222.6">Moderate</text><circle cx="2588.3" cy="268.5" r="20.6" fill="#ffffc5"/><text x="2662.6" y="282.8">High</text><circle cx="2588.3" cy="329.4" r="20.6" fill="#fdb671"/><text x="2662.6" y="343.7">Very High</text><circle cx="2588.3" cy="390.4" r="20.6" fill="#ae1a3c"/><text x="2662.6" y="404.7">Extreme</text></g>
</svg></body></html>
